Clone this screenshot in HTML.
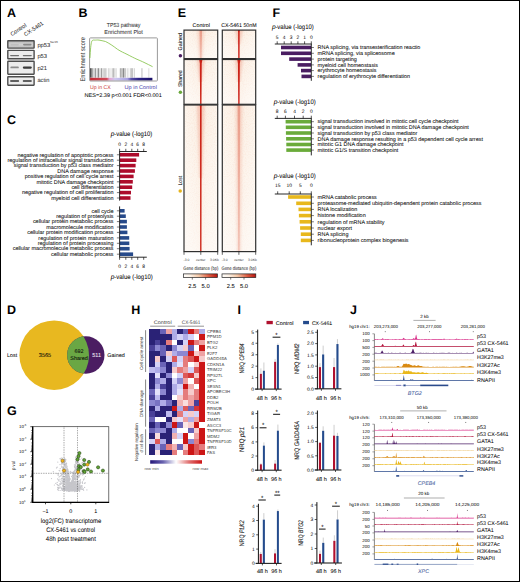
<!DOCTYPE html>
<html><head><meta charset="utf-8"><style>
html,body{margin:0;padding:0;background:#fff;}
svg{display:block;font-family:"Liberation Sans",sans-serif;text-rendering:geometricPrecision;}
</style></head><body>
<svg width="520" height="582" viewBox="0 0 520 582">
<defs><filter id="bl" x="-20%" y="-50%" width="140%" height="200%"><feGaussianBlur stdDeviation="0.45"/></filter>
<linearGradient id="gA1" x1="0" y1="0" x2="0" y2="1"><stop offset="0" stop-color="#b8b8b8"/><stop offset="0.5" stop-color="#d0d0d0"/><stop offset="1" stop-color="#bdbdbd"/></linearGradient>
<linearGradient id="gBc" x1="0" y1="0" x2="0" y2="1"><stop offset="0" stop-color="#fff" stop-opacity="0.5"/><stop offset="0.2" stop-color="#fff" stop-opacity="0"/><stop offset="1" stop-color="#fff" stop-opacity="0"/></linearGradient>
<linearGradient id="gB" x1="0" y1="0" x2="1" y2="0"><stop offset="0" stop-color="#c42a35"/><stop offset="0.27" stop-color="#cf4b5a"/><stop offset="0.31" stop-color="#e6a3d2"/><stop offset="0.4" stop-color="#cdc8ef"/><stop offset="0.6" stop-color="#a9a3e2"/><stop offset="0.66" stop-color="#5a50a8"/><stop offset="0.78" stop-color="#2e2585"/><stop offset="1" stop-color="#1a1068"/></linearGradient>
<filter id="nz" x="0" y="0" width="100%" height="100%"><feTurbulence type="fractalNoise" baseFrequency="0.9" numOctaves="1" seed="3" result="t"/><feColorMatrix in="t" type="matrix" values="0 0 0 0 0.88  0 0 0 0 0.45  0 0 0 0 0.3  0 0 0 -2.2 1.25"/><feComposite in2="SourceGraphic" operator="in"/></filter>
<filter id="hb" x="-200%" y="-5%" width="500%" height="110%"><feGaussianBlur stdDeviation="1.1 0.3"/></filter>
<filter id="hb2" x="-200%" y="-5%" width="500%" height="110%"><feGaussianBlur stdDeviation="0.35 0.2"/></filter>
<linearGradient id="gEf" x1="0" y1="0" x2="0" y2="1"><stop offset="0" stop-color="#e0705a" stop-opacity="0.55"/><stop offset="1" stop-color="#e0705a" stop-opacity="0.25"/></linearGradient>
<linearGradient id="gEh" x1="0" y1="0" x2="1" y2="0"><stop offset="0" stop-color="#fdf6ee"/><stop offset="0.35" stop-color="#fcf0e5"/><stop offset="0.5" stop-color="#fbebdd"/><stop offset="0.65" stop-color="#fcf0e5"/><stop offset="1" stop-color="#fdf6ee"/></linearGradient>
<linearGradient id="gEv" x1="0" y1="0" x2="0" y2="1"><stop offset="0" stop-color="#fff" stop-opacity="0"/><stop offset="1" stop-color="#fff" stop-opacity="0.55"/></linearGradient>
<linearGradient id="gEc" x1="0" y1="0" x2="1" y2="0"><stop offset="0" stop-color="#fffdfa"/><stop offset="0.2" stop-color="#fdf2e6"/><stop offset="0.45" stop-color="#f5c9a8"/><stop offset="0.75" stop-color="#dd5a40"/><stop offset="1" stop-color="#b8140f"/></linearGradient>
<clipPath id="cpY"><circle cx="54.2" cy="355.2" r="34.8"/></clipPath>
<filter id="hbl" x="-2%" y="-2%" width="104%" height="104%"><feGaussianBlur stdDeviation="0.3"/></filter>
<linearGradient id="gH" x1="0" y1="0" x2="1" y2="0"><stop offset="0" stop-color="#24177a"/><stop offset="0.25" stop-color="#6a64b0"/><stop offset="0.5" stop-color="#ffffff"/><stop offset="0.75" stop-color="#e07070"/><stop offset="1" stop-color="#cc1416"/></linearGradient></defs>
<rect x="0" y="0" width="520" height="582" fill="#fff"/>
<text x="7.00" y="16.70" font-size="12.5" fill="#000" font-weight="bold">A</text>
<text x="78.50" y="16.50" font-size="12.5" fill="#000" font-weight="bold">B</text>
<text x="177.80" y="17.00" font-size="12.5" fill="#000" font-weight="bold">E</text>
<text x="272.50" y="16.50" font-size="12.5" fill="#000" font-weight="bold">F</text>
<text x="7.00" y="123.60" font-size="12.5" fill="#000" font-weight="bold">C</text>
<text x="7.00" y="314.20" font-size="12.5" fill="#000" font-weight="bold">D</text>
<text x="7.00" y="415.00" font-size="12.5" fill="#000" font-weight="bold">G</text>
<text x="131.30" y="314.40" font-size="12.5" fill="#000" font-weight="bold">H</text>
<text x="237.60" y="313.60" font-size="12.5" fill="#000" font-weight="bold">I</text>
<text x="350.00" y="314.00" font-size="12.5" fill="#000" font-weight="bold">J</text>
<text x="12.00" y="36.30" font-size="5.6" fill="#333" stroke="#333" stroke-width="0.05" transform="rotate(-34 12.00 36.30)">Control</text>
<text x="25.60" y="36.60" font-size="5.6" fill="#333" stroke="#333" stroke-width="0.05" transform="rotate(-34 25.60 36.60)">CX-5461</text>
<rect x="7.8" y="40.70" width="26.3" height="7.40" fill="url(#gA1)" stroke="#4d4d4d" stroke-width="1.4" rx="0.4"/>
<rect x="7.8" y="50.40" width="26.3" height="8.40" fill="#ececec" stroke="#4d4d4d" stroke-width="1.4" rx="0.4"/>
<rect x="7.8" y="61.30" width="26.3" height="12.90" fill="#ececec" stroke="#4d4d4d" stroke-width="1.4" rx="0.4"/>
<rect x="7.8" y="76.70" width="26.3" height="8.50" fill="#ececec" stroke="#4d4d4d" stroke-width="1.4" rx="0.4"/>
<rect x="23.05" y="43.80" width="8.50" height="1.60" rx="0.80" fill="#8a8a8a" opacity="1" filter="url(#bl)"/>
<rect x="10.35" y="44.20" width="8.50" height="1.20" rx="0.60" fill="#bbbbbb" opacity="1" filter="url(#bl)"/>
<rect x="10.10" y="55.00" width="9.00" height="1.20" rx="0.60" fill="#6f6f6f" opacity="1" filter="url(#bl)"/>
<rect x="22.80" y="55.00" width="9.00" height="1.20" rx="0.60" fill="#6f6f6f" opacity="1" filter="url(#bl)"/>
<rect x="10.35" y="66.50" width="8.50" height="1.80" rx="0.90" fill="#8c8c8c" opacity="1" filter="url(#bl)"/>
<rect x="22.80" y="66.55" width="9.00" height="2.10" rx="1.05" fill="#3a3a3a" opacity="1" filter="url(#bl)"/>
<rect x="10.10" y="80.35" width="9.00" height="1.30" rx="0.65" fill="#303030" opacity="1" filter="url(#bl)"/>
<rect x="22.80" y="80.35" width="9.00" height="1.30" rx="0.65" fill="#303030" opacity="1" filter="url(#bl)"/>
<text x="37.40" y="46.50" font-size="5.8" fill="#333" stroke="#333" stroke-width="0.05">pp53</text>
<text x="50.00" y="43.00" font-size="3.0" fill="#333">Ser15</text>
<text x="37.40" y="57.60" font-size="5.8" fill="#333" stroke="#333" stroke-width="0.05">p53</text>
<text x="37.40" y="69.60" font-size="5.8" fill="#333" stroke="#333" stroke-width="0.05">p21</text>
<text x="37.40" y="82.00" font-size="5.8" fill="#333" stroke="#333" stroke-width="0.05" textLength="12.00" lengthAdjust="spacingAndGlyphs">actin</text>
<text x="106.70" y="27.40" font-size="5.9" fill="#333" stroke="#333" stroke-width="0.05" textLength="33.70" lengthAdjust="spacingAndGlyphs">TP53 pathway</text>
<text x="104.30" y="33.60" font-size="5.9" fill="#333" stroke="#333" stroke-width="0.05" textLength="38.50" lengthAdjust="spacingAndGlyphs">Enrichment Plot</text>
<text x="84.60" y="81.60" font-size="6.7" fill="#333" stroke="#333" stroke-width="0.05" textLength="44.60" lengthAdjust="spacingAndGlyphs" transform="rotate(-90 84.60 81.60)">Enrichment score</text>
<rect x="89.90" y="68.20" width="0.90" height="9.50" fill="#1a1a1a"/>
<rect x="90.90" y="68.20" width="0.90" height="9.50" fill="#666"/>
<rect x="91.90" y="68.20" width="1.20" height="9.50" fill="#aaa"/>
<rect x="93.40" y="68.20" width="0.70" height="9.50" fill="#c4c4c4"/>
<rect x="94.60" y="68.20" width="1.50" height="9.50" fill="#9c9c9c"/>
<rect x="96.60" y="68.20" width="0.60" height="9.50" fill="#cfcfcf"/>
<rect x="97.60" y="68.20" width="1.60" height="9.50" fill="#8f8f8f"/>
<rect x="99.70" y="68.20" width="0.70" height="9.50" fill="#c8c8c8"/>
<rect x="100.90" y="68.20" width="1.40" height="9.50" fill="#a0a0a0"/>
<rect x="102.90" y="68.20" width="0.80" height="9.50" fill="#c8c8c8"/>
<rect x="104.40" y="68.20" width="1.20" height="9.50" fill="#b0b0b0"/>
<rect x="106.40" y="68.20" width="0.70" height="9.50" fill="#d0d0d0"/>
<rect x="108.40" y="68.20" width="1.00" height="9.50" fill="#c4c4c4"/>
<rect x="110.60" y="68.20" width="0.80" height="9.50" fill="#d4d4d4"/>
<rect x="112.40" y="68.20" width="1.50" height="9.50" fill="#b4b4b4"/>
<rect x="114.40" y="68.20" width="1.00" height="9.50" fill="#c4c4c4"/>
<rect x="116.30" y="68.20" width="0.60" height="9.50" fill="#d4d4d4"/>
<rect x="119.80" y="68.20" width="1.60" height="9.50" fill="#b0b0b0"/>
<rect x="121.60" y="68.20" width="1.00" height="9.50" fill="#9a9a9a"/>
<rect x="123.00" y="68.20" width="1.00" height="9.50" fill="#8a8a8a"/>
<rect x="124.40" y="68.20" width="1.20" height="9.50" fill="#a4a4a4"/>
<rect x="126.80" y="68.20" width="0.80" height="9.50" fill="#d0d0d0"/>
<rect x="128.60" y="68.20" width="0.60" height="9.50" fill="#d4d4d4"/>
<rect x="130.40" y="68.20" width="1.40" height="9.50" fill="#b8b8b8"/>
<rect x="132.00" y="68.20" width="1.20" height="9.50" fill="#c4c4c4"/>
<rect x="134.00" y="68.20" width="0.90" height="9.50" fill="#d4d4d4"/>
<rect x="141.00" y="68.20" width="1.80" height="9.50" fill="#dadada"/>
<rect x="148.40" y="68.20" width="0.90" height="9.50" fill="#d8d8d8"/>
<rect x="90.00" y="77.80" width="62.40" height="2.80" fill="url(#gB)"/>
<rect x="89.6" y="37.9" width="67.8" height="43.1" fill="none" stroke="#9a9a9a" stroke-width="1.0" rx="0.8"/>
<path d="M89.9 58 C90.4 50 90.8 44 91.8 41.2 C92.6 39.8 93.4 40.0 94.5 40.1 C96 40.2 97 39.8 99 40.1 C101 40.4 103 40.9 105.5 41.5 C109 43.2 113 45.8 117.5 49.3 C121 51.6 124 52.8 127 54.3 C131 56.4 134 57.9 137 59.3 C140 60.6 142 61.4 144 62.4 C147 63.8 150 65.4 152.6 66.7" fill="none" stroke="#7dbf3f" stroke-width="0.8"/>
<text x="90.00" y="88.80" font-size="5.4" fill="#d0504c" stroke="#d0504c" stroke-width="0.05" textLength="20.80" lengthAdjust="spacingAndGlyphs">Up in CX</text>
<text x="124.60" y="88.80" font-size="5.4" fill="#5552b4" stroke="#5552b4" stroke-width="0.05" textLength="32.30" lengthAdjust="spacingAndGlyphs">Up in Control</text>
<text x="84.60" y="96.60" font-size="5.4" stroke="#222" stroke-width="0.05" textLength="77.20" lengthAdjust="spacingAndGlyphs">NES=2.39  p&lt;0.001  FDR&lt;0.001</text>
<text x="110.80" y="135.90" font-size="6.6" font-style="italic" stroke="#222" stroke-width="0.05">p</text>
<text x="114.30" y="135.90" font-size="6.6" stroke="#222" stroke-width="0.05" textLength="38.00" lengthAdjust="spacingAndGlyphs">-value (-log10)</text>
<text x="119.60" y="145.70" font-size="4.9" text-anchor="middle">0</text>
<line x1="119.60" y1="148.80" x2="119.60" y2="151.50" stroke="#111" stroke-width="0.7"/>
<text x="125.80" y="145.70" font-size="4.9" text-anchor="middle">2</text>
<line x1="125.80" y1="148.80" x2="125.80" y2="151.50" stroke="#111" stroke-width="0.7"/>
<text x="131.80" y="145.70" font-size="4.9" text-anchor="middle">4</text>
<line x1="131.80" y1="148.80" x2="131.80" y2="151.50" stroke="#111" stroke-width="0.7"/>
<text x="137.70" y="145.70" font-size="4.9" text-anchor="middle">6</text>
<line x1="137.70" y1="148.80" x2="137.70" y2="151.50" stroke="#111" stroke-width="0.7"/>
<text x="143.70" y="145.70" font-size="4.9" text-anchor="middle">8</text>
<line x1="143.70" y1="148.80" x2="143.70" y2="151.50" stroke="#111" stroke-width="0.7"/>
<line x1="119.25" y1="151.50" x2="146.80" y2="151.50" stroke="#111" stroke-width="0.9"/>
<text x="113.60" y="156.50" font-size="5.45" text-anchor="end" stroke="#222" stroke-width="0.05">negative regulation of apoptotic process</text>
<rect x="119.90" y="152.95" width="19.20" height="3.60" fill="#ad0b2b"/>
<line x1="116.90" y1="154.75" x2="119.60" y2="154.75" stroke="#222" stroke-width="0.6"/>
<text x="113.60" y="161.95" font-size="5.45" text-anchor="end" stroke="#222" stroke-width="0.05">regulation of intracellular signal transduction</text>
<rect x="119.90" y="158.40" width="16.40" height="3.60" fill="#ad0b2b"/>
<line x1="116.90" y1="160.20" x2="119.60" y2="160.20" stroke="#222" stroke-width="0.6"/>
<text x="113.60" y="167.35" font-size="5.45" text-anchor="end" stroke="#222" stroke-width="0.05">signal transduction by p53 class mediator</text>
<rect x="119.90" y="163.80" width="15.70" height="3.60" fill="#ad0b2b"/>
<line x1="116.90" y1="165.60" x2="119.60" y2="165.60" stroke="#222" stroke-width="0.6"/>
<text x="113.60" y="172.75" font-size="5.45" text-anchor="end" stroke="#222" stroke-width="0.05">DNA damage response</text>
<rect x="119.90" y="169.20" width="15.00" height="3.60" fill="#ad0b2b"/>
<line x1="116.90" y1="171.00" x2="119.60" y2="171.00" stroke="#222" stroke-width="0.6"/>
<text x="113.60" y="178.15" font-size="5.45" text-anchor="end" stroke="#222" stroke-width="0.05">positive regulation of cell cycle arrest</text>
<rect x="119.90" y="174.60" width="13.70" height="3.60" fill="#ad0b2b"/>
<line x1="116.90" y1="176.40" x2="119.60" y2="176.40" stroke="#222" stroke-width="0.6"/>
<text x="113.60" y="183.55" font-size="5.45" text-anchor="end" stroke="#222" stroke-width="0.05">mitotic DNA damage checkpoint</text>
<rect x="119.90" y="180.00" width="12.90" height="3.60" fill="#ad0b2b"/>
<line x1="116.90" y1="181.80" x2="119.60" y2="181.80" stroke="#222" stroke-width="0.6"/>
<text x="113.60" y="188.95" font-size="5.45" text-anchor="end" stroke="#222" stroke-width="0.05">cell differentiation</text>
<rect x="119.90" y="185.40" width="12.30" height="3.60" fill="#ad0b2b"/>
<line x1="116.90" y1="187.20" x2="119.60" y2="187.20" stroke="#222" stroke-width="0.6"/>
<text x="113.60" y="194.35" font-size="5.45" text-anchor="end" stroke="#222" stroke-width="0.05">negative regulation of cell proliferation</text>
<rect x="119.90" y="190.80" width="11.10" height="3.60" fill="#ad0b2b"/>
<line x1="116.90" y1="192.60" x2="119.60" y2="192.60" stroke="#222" stroke-width="0.6"/>
<text x="113.60" y="199.75" font-size="5.45" text-anchor="end" stroke="#222" stroke-width="0.05">myeloid cell differentiation</text>
<rect x="119.90" y="196.20" width="10.60" height="3.60" fill="#ad0b2b"/>
<line x1="116.90" y1="198.00" x2="119.60" y2="198.00" stroke="#222" stroke-width="0.6"/>
<line x1="119.60" y1="151.50" x2="119.60" y2="200.60" stroke="#111" stroke-width="0.9"/>
<text x="113.60" y="212.55" font-size="5.45" text-anchor="end" stroke="#222" stroke-width="0.05">cell cycle</text>
<rect x="119.90" y="209.00" width="4.70" height="3.60" fill="#274a8a"/>
<line x1="116.90" y1="210.80" x2="119.60" y2="210.80" stroke="#222" stroke-width="0.6"/>
<text x="113.60" y="217.95" font-size="5.45" text-anchor="end" stroke="#222" stroke-width="0.05">regulation of proteolysis</text>
<rect x="119.90" y="214.40" width="5.90" height="3.60" fill="#274a8a"/>
<line x1="116.90" y1="216.20" x2="119.60" y2="216.20" stroke="#222" stroke-width="0.6"/>
<text x="113.60" y="223.35" font-size="5.45" text-anchor="end" stroke="#222" stroke-width="0.05">cellular protein metabolic process</text>
<rect x="119.90" y="219.80" width="7.00" height="3.60" fill="#274a8a"/>
<line x1="116.90" y1="221.60" x2="119.60" y2="221.60" stroke="#222" stroke-width="0.6"/>
<text x="113.60" y="228.75" font-size="5.45" text-anchor="end" stroke="#222" stroke-width="0.05">macromolecule modification</text>
<rect x="119.90" y="225.20" width="7.00" height="3.60" fill="#274a8a"/>
<line x1="116.90" y1="227.00" x2="119.60" y2="227.00" stroke="#222" stroke-width="0.6"/>
<text x="113.60" y="234.15" font-size="5.45" text-anchor="end" stroke="#222" stroke-width="0.05">cellular protein modification process</text>
<rect x="119.90" y="230.60" width="7.50" height="3.60" fill="#274a8a"/>
<line x1="116.90" y1="232.40" x2="119.60" y2="232.40" stroke="#222" stroke-width="0.6"/>
<text x="113.60" y="239.65" font-size="5.45" text-anchor="end" stroke="#222" stroke-width="0.05">regulation of protein maturation</text>
<rect x="119.90" y="236.10" width="9.30" height="3.60" fill="#274a8a"/>
<line x1="116.90" y1="237.90" x2="119.60" y2="237.90" stroke="#222" stroke-width="0.6"/>
<text x="113.60" y="245.05" font-size="5.45" text-anchor="end" stroke="#222" stroke-width="0.05">regulation of protein processing</text>
<rect x="119.90" y="241.50" width="9.40" height="3.60" fill="#274a8a"/>
<line x1="116.90" y1="243.30" x2="119.60" y2="243.30" stroke="#222" stroke-width="0.6"/>
<text x="113.60" y="250.45" font-size="5.45" text-anchor="end" stroke="#222" stroke-width="0.05">cellular macromolecule metabolic process</text>
<rect x="119.90" y="246.90" width="9.70" height="3.60" fill="#274a8a"/>
<line x1="116.90" y1="248.70" x2="119.60" y2="248.70" stroke="#222" stroke-width="0.6"/>
<text x="113.60" y="255.95" font-size="5.45" text-anchor="end" stroke="#222" stroke-width="0.05">cellular metabolic process</text>
<rect x="119.90" y="252.40" width="13.20" height="3.60" fill="#274a8a"/>
<line x1="116.90" y1="254.20" x2="119.60" y2="254.20" stroke="#222" stroke-width="0.6"/>
<line x1="119.60" y1="206.40" x2="119.60" y2="257.20" stroke="#111" stroke-width="0.9"/>
<line x1="119.25" y1="257.20" x2="146.80" y2="257.20" stroke="#111" stroke-width="0.9"/>
<line x1="119.60" y1="257.20" x2="119.60" y2="259.80" stroke="#111" stroke-width="0.7"/>
<text x="119.60" y="267.80" font-size="4.9" text-anchor="middle">0</text>
<line x1="125.80" y1="257.20" x2="125.80" y2="259.80" stroke="#111" stroke-width="0.7"/>
<text x="125.80" y="267.80" font-size="4.9" text-anchor="middle">2</text>
<line x1="131.80" y1="257.20" x2="131.80" y2="259.80" stroke="#111" stroke-width="0.7"/>
<text x="131.80" y="267.80" font-size="4.9" text-anchor="middle">4</text>
<line x1="137.70" y1="257.20" x2="137.70" y2="259.80" stroke="#111" stroke-width="0.7"/>
<text x="137.70" y="267.80" font-size="4.9" text-anchor="middle">6</text>
<line x1="143.70" y1="257.20" x2="143.70" y2="259.80" stroke="#111" stroke-width="0.7"/>
<text x="143.70" y="267.80" font-size="4.9" text-anchor="middle">8</text>
<text x="110.80" y="279.00" font-size="6.6" font-style="italic" stroke="#222" stroke-width="0.05">p</text>
<text x="114.30" y="279.00" font-size="6.6" stroke="#222" stroke-width="0.05" textLength="38.50" lengthAdjust="spacingAndGlyphs">-value (-log10)</text>
<text x="201.20" y="26.80" font-size="5.4" text-anchor="middle" stroke="#222" stroke-width="0.05">Control</text>
<text x="238.90" y="26.80" font-size="5.4" text-anchor="middle" stroke="#222" stroke-width="0.05" textLength="35.50" lengthAdjust="spacingAndGlyphs">CX-5461 50nM</text>
<rect x="184.00" y="30.10" width="33.70" height="28.50" fill="url(#gEh)"/>
<rect x="184.00" y="30.10" width="33.70" height="28.50" fill="#fff" filter="url(#nz)" opacity="0.2"/>
<rect x="184.00" y="30.10" width="33.70" height="28.50" fill="url(#gEv)"/>
<path d="M197.30 30.10 L204.30 30.10 L202.60 58.60 L199.00 58.60 Z" fill="#e7876f" opacity="0.22" filter="url(#hb)"/>
<path d="M199.50 30.10 L202.10 30.10 L201.60 58.60 L200.00 58.60 Z" fill="url(#gEf)" filter="url(#hb2)"/>
<rect x="184.00" y="30.10" width="33.70" height="28.50" fill="none" stroke="#303030" stroke-width="1.2"/>
<rect x="222.30" y="30.10" width="33.40" height="28.50" fill="url(#gEh)"/>
<rect x="222.30" y="30.10" width="33.40" height="28.50" fill="#fff" filter="url(#nz)" opacity="0.2"/>
<rect x="222.30" y="30.10" width="33.40" height="28.50" fill="url(#gEv)"/>
<path d="M234.90 30.10 L242.90 30.10 L240.10 44.35 L237.70 44.35 Z" fill="#e8826a" opacity="0.3" filter="url(#hb)"/>
<path d="M237.90 30.10 L239.90 30.10 L239.70 32.60 L239.58 58.60 L238.22 58.60 L238.10 32.60 Z" fill="#cc2219" filter="url(#hb2)"/>
<rect x="222.30" y="30.10" width="33.40" height="28.50" fill="none" stroke="#303030" stroke-width="1.2"/>
<rect x="184.00" y="59.50" width="33.70" height="44.80" fill="url(#gEh)"/>
<rect x="184.00" y="59.50" width="33.70" height="44.80" fill="#fff" filter="url(#nz)" opacity="0.2"/>
<rect x="184.00" y="59.50" width="33.70" height="44.80" fill="url(#gEv)"/>
<path d="M196.80 59.50 L204.80 59.50 L202.00 81.90 L199.60 81.90 Z" fill="#e8826a" opacity="0.3" filter="url(#hb)"/>
<path d="M199.20 59.50 L202.40 59.50 L201.75 63.50 L201.48 104.30 L200.12 104.30 L199.85 63.50 Z" fill="#cc2219" filter="url(#hb2)"/>
<rect x="184.00" y="59.50" width="33.70" height="44.80" fill="none" stroke="#303030" stroke-width="1.2"/>
<rect x="222.30" y="59.50" width="33.40" height="44.80" fill="url(#gEh)"/>
<rect x="222.30" y="59.50" width="33.40" height="44.80" fill="#fff" filter="url(#nz)" opacity="0.2"/>
<rect x="222.30" y="59.50" width="33.40" height="44.80" fill="url(#gEv)"/>
<path d="M234.90 59.50 L242.90 59.50 L240.10 81.90 L237.70 81.90 Z" fill="#e8826a" opacity="0.3" filter="url(#hb)"/>
<path d="M237.30 59.50 L240.50 59.50 L239.85 63.50 L239.58 104.30 L238.22 104.30 L237.95 63.50 Z" fill="#cc2219" filter="url(#hb2)"/>
<rect x="222.30" y="59.50" width="33.40" height="44.80" fill="none" stroke="#303030" stroke-width="1.2"/>
<rect x="184.00" y="105.00" width="33.70" height="146.60" fill="url(#gEh)"/>
<rect x="184.00" y="105.00" width="33.70" height="146.60" fill="#fff" filter="url(#nz)" opacity="0.2"/>
<rect x="184.00" y="105.00" width="33.70" height="146.60" fill="url(#gEv)"/>
<path d="M196.80 105.00 L204.80 105.00 L202.00 178.30 L199.60 178.30 Z" fill="#e8826a" opacity="0.3" filter="url(#hb)"/>
<path d="M199.80 105.00 L201.80 105.00 L201.60 107.50 L201.48 251.60 L200.12 251.60 L200.00 107.50 Z" fill="#cc2219" filter="url(#hb2)"/>
<rect x="184.00" y="105.00" width="33.70" height="146.60" fill="none" stroke="#303030" stroke-width="1.2"/>
<rect x="222.30" y="105.00" width="33.40" height="146.60" fill="url(#gEh)"/>
<rect x="222.30" y="105.00" width="33.40" height="146.60" fill="#fff" filter="url(#nz)" opacity="0.2"/>
<rect x="222.30" y="105.00" width="33.40" height="146.60" fill="url(#gEv)"/>
<path d="M235.40 105.00 L242.40 105.00 L240.70 251.60 L237.10 251.60 Z" fill="#e7876f" opacity="0.22" filter="url(#hb)"/>
<path d="M237.60 105.00 L240.20 105.00 L239.70 251.60 L238.10 251.60 Z" fill="url(#gEf)" filter="url(#hb2)"/>
<rect x="222.30" y="105.00" width="33.40" height="146.60" fill="none" stroke="#303030" stroke-width="1.2"/>
<text x="182.20" y="50.50" font-size="5.4" stroke="#222" stroke-width="0.05" textLength="17.40" lengthAdjust="spacingAndGlyphs" transform="rotate(-90 182.20 50.50)">Gained</text>
<circle cx="180.4" cy="55.7" r="1.75" fill="#4b1d60"/>
<text x="182.20" y="87.00" font-size="5.4" stroke="#222" stroke-width="0.05" textLength="16.70" lengthAdjust="spacingAndGlyphs" transform="rotate(-90 182.20 87.00)">Shared</text>
<circle cx="180.4" cy="92.2" r="1.75" fill="#6aa83c"/>
<text x="182.20" y="185.50" font-size="5.4" stroke="#222" stroke-width="0.05" textLength="9.60" lengthAdjust="spacingAndGlyphs" transform="rotate(-90 182.20 185.50)">Lost</text>
<circle cx="180.2" cy="191.1" r="1.75" fill="#e6b41c"/>
<line x1="184.00" y1="251.60" x2="184.00" y2="254.80" stroke="#222" stroke-width="0.7"/>
<line x1="200.80" y1="251.60" x2="200.80" y2="254.80" stroke="#222" stroke-width="0.7"/>
<line x1="217.70" y1="251.60" x2="217.70" y2="254.80" stroke="#222" stroke-width="0.7"/>
<text x="183.50" y="261.20" font-size="3.4" fill="#333">-3.0</text>
<text x="200.80" y="261.20" font-size="3.4" text-anchor="middle" fill="#333">center</text>
<text x="218.90" y="261.20" font-size="3.4" text-anchor="end" fill="#333">3.0Kb</text>
<text x="200.85" y="269.60" font-size="5.0" text-anchor="middle" fill="#333" stroke="#333" stroke-width="0.05" textLength="35.00" lengthAdjust="spacingAndGlyphs">Gene distance (bp)</text>
<line x1="222.30" y1="251.60" x2="222.30" y2="254.80" stroke="#222" stroke-width="0.7"/>
<line x1="238.90" y1="251.60" x2="238.90" y2="254.80" stroke="#222" stroke-width="0.7"/>
<line x1="255.70" y1="251.60" x2="255.70" y2="254.80" stroke="#222" stroke-width="0.7"/>
<text x="221.80" y="261.20" font-size="3.4" fill="#333">-3.0</text>
<text x="238.90" y="261.20" font-size="3.4" text-anchor="middle" fill="#333">center</text>
<text x="256.90" y="261.20" font-size="3.4" text-anchor="end" fill="#333">3.0Kb</text>
<text x="239.00" y="269.60" font-size="5.0" text-anchor="middle" fill="#333" stroke="#333" stroke-width="0.05" textLength="35.00" lengthAdjust="spacingAndGlyphs">Gene distance (bp)</text>
<rect x="183.60" y="273.9" width="33.8" height="3.6" fill="url(#gEc)" stroke="#222" stroke-width="0.7"/>
<line x1="192.30" y1="277.50" x2="192.30" y2="279.60" stroke="#222" stroke-width="0.6"/>
<line x1="205.60" y1="277.50" x2="205.60" y2="279.60" stroke="#222" stroke-width="0.6"/>
<text x="192.30" y="287.50" font-size="5.8" text-anchor="middle" stroke="#222" stroke-width="0.05">2.5</text>
<text x="205.60" y="287.50" font-size="5.8" text-anchor="middle" stroke="#222" stroke-width="0.05">5.0</text>
<rect x="222.00" y="273.9" width="33.8" height="3.6" fill="url(#gEc)" stroke="#222" stroke-width="0.7"/>
<line x1="230.70" y1="277.50" x2="230.70" y2="279.60" stroke="#222" stroke-width="0.6"/>
<line x1="244.00" y1="277.50" x2="244.00" y2="279.60" stroke="#222" stroke-width="0.6"/>
<text x="230.70" y="287.50" font-size="5.8" text-anchor="middle" stroke="#222" stroke-width="0.05">2.5</text>
<text x="244.00" y="287.50" font-size="5.8" text-anchor="middle" stroke="#222" stroke-width="0.05">5.0</text>
<text x="271.90" y="29.10" font-size="6.6" font-style="italic" stroke="#222" stroke-width="0.05">p</text>
<text x="275.40" y="29.10" font-size="6.6" stroke="#222" stroke-width="0.05" textLength="38.40" lengthAdjust="spacingAndGlyphs">-value (-log10)</text>
<line x1="274.80" y1="44.00" x2="311.65" y2="44.00" stroke="#111" stroke-width="0.9"/>
<text x="277.20" y="38.75" font-size="4.9" text-anchor="middle">5</text>
<line x1="277.20" y1="41.30" x2="277.20" y2="44.00" stroke="#111" stroke-width="0.7"/>
<text x="284.20" y="38.75" font-size="4.9" text-anchor="middle">4</text>
<line x1="284.20" y1="41.30" x2="284.20" y2="44.00" stroke="#111" stroke-width="0.7"/>
<text x="291.20" y="38.75" font-size="4.9" text-anchor="middle">3</text>
<line x1="291.20" y1="41.30" x2="291.20" y2="44.00" stroke="#111" stroke-width="0.7"/>
<text x="297.90" y="38.75" font-size="4.9" text-anchor="middle">2</text>
<line x1="297.90" y1="41.30" x2="297.90" y2="44.00" stroke="#111" stroke-width="0.7"/>
<text x="304.60" y="38.75" font-size="4.9" text-anchor="middle">1</text>
<line x1="304.60" y1="41.30" x2="304.60" y2="44.00" stroke="#111" stroke-width="0.7"/>
<text x="311.30" y="38.75" font-size="4.9" text-anchor="middle">0</text>
<line x1="311.30" y1="41.30" x2="311.30" y2="44.00" stroke="#111" stroke-width="0.7"/>
<rect x="281.00" y="45.70" width="30.00" height="3.60" fill="#4a1d62"/>
<line x1="311.30" y1="47.50" x2="313.90" y2="47.50" stroke="#222" stroke-width="0.6"/>
<text x="317.60" y="49.25" font-size="5.45" stroke="#222" stroke-width="0.05">RNA splicing, via transesterification reactio</text>
<rect x="281.00" y="51.50" width="30.00" height="3.60" fill="#4a1d62"/>
<line x1="311.30" y1="53.30" x2="313.90" y2="53.30" stroke="#222" stroke-width="0.6"/>
<text x="317.60" y="55.05" font-size="5.45" stroke="#222" stroke-width="0.05">mRNA splicing, via spliceosome</text>
<rect x="289.20" y="57.30" width="21.80" height="3.60" fill="#4a1d62"/>
<line x1="311.30" y1="59.10" x2="313.90" y2="59.10" stroke="#222" stroke-width="0.6"/>
<text x="317.60" y="60.85" font-size="5.45" stroke="#222" stroke-width="0.05">protein targeting</text>
<rect x="297.60" y="63.10" width="13.40" height="3.60" fill="#4a1d62"/>
<line x1="311.30" y1="64.90" x2="313.90" y2="64.90" stroke="#222" stroke-width="0.6"/>
<text x="317.60" y="66.65" font-size="5.45" stroke="#222" stroke-width="0.05">myeloid cell homeostasis</text>
<rect x="301.00" y="68.80" width="10.00" height="3.60" fill="#4a1d62"/>
<line x1="311.30" y1="70.60" x2="313.90" y2="70.60" stroke="#222" stroke-width="0.6"/>
<text x="317.60" y="72.35" font-size="5.45" stroke="#222" stroke-width="0.05">erythrocyte homeostasis</text>
<rect x="301.50" y="74.60" width="9.50" height="3.60" fill="#4a1d62"/>
<line x1="311.30" y1="76.40" x2="313.90" y2="76.40" stroke="#222" stroke-width="0.6"/>
<text x="317.60" y="78.15" font-size="5.45" stroke="#222" stroke-width="0.05">regulation of erythrocyte differentiation</text>
<line x1="311.30" y1="44.00" x2="311.30" y2="80.80" stroke="#111" stroke-width="0.9"/>
<text x="273.80" y="104.10" font-size="6.6" font-style="italic" stroke="#222" stroke-width="0.05">p</text>
<text x="277.30" y="104.10" font-size="6.6" stroke="#222" stroke-width="0.05" textLength="38.40" lengthAdjust="spacingAndGlyphs">-value (-log10)</text>
<line x1="274.80" y1="118.40" x2="311.65" y2="118.40" stroke="#111" stroke-width="0.9"/>
<text x="277.20" y="112.80" font-size="4.9" text-anchor="middle">8</text>
<line x1="277.20" y1="115.70" x2="277.20" y2="118.40" stroke="#111" stroke-width="0.7"/>
<text x="285.40" y="112.80" font-size="4.9" text-anchor="middle">6</text>
<line x1="285.40" y1="115.70" x2="285.40" y2="118.40" stroke="#111" stroke-width="0.7"/>
<text x="294.50" y="112.80" font-size="4.9" text-anchor="middle">4</text>
<line x1="294.50" y1="115.70" x2="294.50" y2="118.40" stroke="#111" stroke-width="0.7"/>
<text x="303.20" y="112.80" font-size="4.9" text-anchor="middle">2</text>
<line x1="303.20" y1="115.70" x2="303.20" y2="118.40" stroke="#111" stroke-width="0.7"/>
<text x="311.30" y="112.80" font-size="4.9" text-anchor="middle">0</text>
<line x1="311.30" y1="115.70" x2="311.30" y2="118.40" stroke="#111" stroke-width="0.7"/>
<rect x="285.60" y="119.90" width="25.40" height="3.60" fill="#6aab3a"/>
<line x1="311.30" y1="121.70" x2="313.90" y2="121.70" stroke="#222" stroke-width="0.6"/>
<text x="317.60" y="123.45" font-size="5.45" stroke="#222" stroke-width="0.05">signal transduction involved in mitotic cell cycle checkpoint</text>
<rect x="285.80" y="125.50" width="25.20" height="3.60" fill="#6aab3a"/>
<line x1="311.30" y1="127.30" x2="313.90" y2="127.30" stroke="#222" stroke-width="0.6"/>
<text x="317.60" y="129.05" font-size="5.45" stroke="#222" stroke-width="0.05">signal transduction involved in mitotic DNA damage checkpoint</text>
<rect x="285.90" y="131.20" width="25.10" height="3.60" fill="#6aab3a"/>
<line x1="311.30" y1="133.00" x2="313.90" y2="133.00" stroke="#222" stroke-width="0.6"/>
<text x="317.60" y="134.75" font-size="5.45" stroke="#222" stroke-width="0.05">signal transduction by p53 class mediator</text>
<rect x="286.10" y="137.00" width="24.90" height="3.60" fill="#6aab3a"/>
<line x1="311.30" y1="138.80" x2="313.90" y2="138.80" stroke="#222" stroke-width="0.6"/>
<text x="317.60" y="140.55" font-size="5.45" stroke="#222" stroke-width="0.05">DNA damage response resulting in a p53  dependent cell cycle arrest</text>
<rect x="286.30" y="142.70" width="24.70" height="3.60" fill="#6aab3a"/>
<line x1="311.30" y1="144.50" x2="313.90" y2="144.50" stroke="#222" stroke-width="0.6"/>
<text x="317.60" y="146.25" font-size="5.45" stroke="#222" stroke-width="0.05">mitotic G1 DNA damage checkpoint</text>
<rect x="286.30" y="148.30" width="24.70" height="3.60" fill="#6aab3a"/>
<line x1="311.30" y1="150.10" x2="313.90" y2="150.10" stroke="#222" stroke-width="0.6"/>
<text x="317.60" y="151.85" font-size="5.45" stroke="#222" stroke-width="0.05">mitotic G1/S transition checkpoint</text>
<line x1="311.30" y1="118.40" x2="311.30" y2="155.40" stroke="#111" stroke-width="0.9"/>
<text x="273.80" y="177.60" font-size="6.6" font-style="italic" stroke="#222" stroke-width="0.05">p</text>
<text x="277.30" y="177.60" font-size="6.6" stroke="#222" stroke-width="0.05" textLength="38.40" lengthAdjust="spacingAndGlyphs">-value (-log10)</text>
<line x1="274.80" y1="194.00" x2="311.65" y2="194.00" stroke="#111" stroke-width="0.9"/>
<text x="277.70" y="186.75" font-size="4.9" text-anchor="middle">15</text>
<line x1="277.70" y1="191.30" x2="277.70" y2="194.00" stroke="#111" stroke-width="0.7"/>
<text x="289.20" y="186.75" font-size="4.9" text-anchor="middle">10</text>
<line x1="289.20" y1="191.30" x2="289.20" y2="194.00" stroke="#111" stroke-width="0.7"/>
<text x="300.30" y="186.75" font-size="4.9" text-anchor="middle">5</text>
<line x1="300.30" y1="191.30" x2="300.30" y2="194.00" stroke="#111" stroke-width="0.7"/>
<text x="311.30" y="186.75" font-size="4.9" text-anchor="middle">0</text>
<line x1="311.30" y1="191.30" x2="311.30" y2="194.00" stroke="#111" stroke-width="0.7"/>
<rect x="288.10" y="195.20" width="22.90" height="3.60" fill="#e8b81c"/>
<line x1="311.30" y1="197.00" x2="313.90" y2="197.00" stroke="#222" stroke-width="0.6"/>
<text x="317.60" y="198.75" font-size="5.45" stroke="#222" stroke-width="0.05">mRNA catabolic process</text>
<rect x="296.20" y="201.50" width="14.80" height="3.60" fill="#e8b81c"/>
<line x1="311.30" y1="203.30" x2="313.90" y2="203.30" stroke="#222" stroke-width="0.6"/>
<text x="317.60" y="205.05" font-size="5.45" stroke="#222" stroke-width="0.05">proteasome-mediated ubiquitin-dependent protein catabolic process</text>
<rect x="298.50" y="207.60" width="12.50" height="3.60" fill="#e8b81c"/>
<line x1="311.30" y1="209.40" x2="313.90" y2="209.40" stroke="#222" stroke-width="0.6"/>
<text x="317.60" y="211.15" font-size="5.45" stroke="#222" stroke-width="0.05">RNA localization</text>
<rect x="298.90" y="213.80" width="12.10" height="3.60" fill="#e8b81c"/>
<line x1="311.30" y1="215.60" x2="313.90" y2="215.60" stroke="#222" stroke-width="0.6"/>
<text x="317.60" y="217.35" font-size="5.45" stroke="#222" stroke-width="0.05">histone modification</text>
<rect x="299.60" y="220.00" width="11.40" height="3.60" fill="#e8b81c"/>
<line x1="311.30" y1="221.80" x2="313.90" y2="221.80" stroke="#222" stroke-width="0.6"/>
<text x="317.60" y="223.55" font-size="5.45" stroke="#222" stroke-width="0.05">regulation of mRNA stability</text>
<rect x="300.10" y="226.20" width="10.90" height="3.60" fill="#e8b81c"/>
<line x1="311.30" y1="228.00" x2="313.90" y2="228.00" stroke="#222" stroke-width="0.6"/>
<text x="317.60" y="229.75" font-size="5.45" stroke="#222" stroke-width="0.05">nuclear export</text>
<rect x="300.80" y="232.40" width="10.20" height="3.60" fill="#e8b81c"/>
<line x1="311.30" y1="234.20" x2="313.90" y2="234.20" stroke="#222" stroke-width="0.6"/>
<text x="317.60" y="235.95" font-size="5.45" stroke="#222" stroke-width="0.05">RNA splicing</text>
<rect x="300.80" y="238.60" width="10.20" height="3.60" fill="#e8b81c"/>
<line x1="311.30" y1="240.40" x2="313.90" y2="240.40" stroke="#222" stroke-width="0.6"/>
<text x="317.60" y="242.15" font-size="5.45" stroke="#222" stroke-width="0.05">ribonucleoprotein complex biogenesis</text>
<line x1="311.30" y1="194.00" x2="311.30" y2="245.30" stroke="#111" stroke-width="0.9"/>
<circle cx="54.2" cy="355.2" r="34.8" fill="#e8b820"/>
<circle cx="85.8" cy="355.0" r="18.7" fill="#4b1d62"/>
<circle cx="85.8" cy="355.0" r="18.7" fill="#6aa744" clip-path="url(#cpY)"/>
<text x="7.00" y="357.00" font-size="5.4" stroke="#222" stroke-width="0.05">Lost</text>
<text x="45.00" y="357.20" font-size="5.6" text-anchor="middle" stroke="#222" stroke-width="0.05">3565</text>
<text x="79.00" y="353.00" font-size="5.4" text-anchor="middle" stroke="#222" stroke-width="0.05">692</text>
<text x="79.00" y="359.80" font-size="5.4" text-anchor="middle" stroke="#222" stroke-width="0.05">Shared</text>
<text x="96.70" y="357.20" font-size="5.8" text-anchor="middle" fill="#f4f0f6" stroke="#f4f0f6" stroke-width="0.05" textLength="8.80" lengthAdjust="spacingAndGlyphs">511</text>
<text x="107.30" y="357.00" font-size="5.4" stroke="#222" stroke-width="0.05">Gained</text>
<g fill="#c6c6cb"><circle cx="64.7" cy="461.3" r="0.62"/><circle cx="72.2" cy="486.3" r="0.62"/><circle cx="64.4" cy="489.6" r="0.62"/><circle cx="72.8" cy="479.2" r="0.62"/><circle cx="83.7" cy="474.5" r="0.62"/><circle cx="68.8" cy="490.2" r="0.62"/><circle cx="72.3" cy="489.6" r="0.62"/><circle cx="71.7" cy="481.9" r="0.62"/><circle cx="63.4" cy="481.6" r="0.62"/><circle cx="80.4" cy="472.3" r="0.62"/><circle cx="74.5" cy="488.0" r="0.62"/><circle cx="63.2" cy="485.0" r="0.62"/><circle cx="68.4" cy="491.3" r="0.62"/><circle cx="57.1" cy="484.4" r="0.62"/><circle cx="73.9" cy="476.5" r="0.62"/><circle cx="64.9" cy="470.5" r="0.62"/><circle cx="73.8" cy="490.2" r="0.62"/><circle cx="73.9" cy="485.6" r="0.62"/><circle cx="78.3" cy="489.1" r="0.62"/><circle cx="67.8" cy="489.0" r="0.62"/><circle cx="69.3" cy="488.3" r="0.62"/><circle cx="63.3" cy="476.5" r="0.62"/><circle cx="79.7" cy="488.9" r="0.62"/><circle cx="69.0" cy="490.6" r="0.62"/><circle cx="74.2" cy="487.9" r="0.62"/><circle cx="58.8" cy="480.2" r="0.62"/><circle cx="66.6" cy="489.6" r="0.62"/><circle cx="72.2" cy="489.4" r="0.62"/><circle cx="59.4" cy="488.0" r="0.62"/><circle cx="66.5" cy="490.9" r="0.62"/><circle cx="73.9" cy="488.1" r="0.62"/><circle cx="73.5" cy="488.1" r="0.62"/><circle cx="78.0" cy="490.5" r="0.62"/><circle cx="74.7" cy="487.6" r="0.62"/><circle cx="69.1" cy="490.7" r="0.62"/><circle cx="73.8" cy="486.4" r="0.62"/><circle cx="70.2" cy="487.5" r="0.62"/><circle cx="66.2" cy="479.5" r="0.62"/><circle cx="72.2" cy="489.8" r="0.62"/><circle cx="71.8" cy="484.9" r="0.62"/><circle cx="71.8" cy="488.9" r="0.62"/><circle cx="62.8" cy="463.1" r="0.62"/><circle cx="63.2" cy="468.3" r="0.62"/><circle cx="66.0" cy="467.6" r="0.62"/><circle cx="74.9" cy="467.8" r="0.62"/><circle cx="66.1" cy="477.7" r="0.62"/><circle cx="74.6" cy="466.6" r="0.62"/><circle cx="64.8" cy="476.7" r="0.62"/><circle cx="74.3" cy="489.8" r="0.62"/><circle cx="66.0" cy="487.7" r="0.62"/><circle cx="65.4" cy="476.2" r="0.62"/><circle cx="75.1" cy="476.3" r="0.62"/><circle cx="73.6" cy="472.6" r="0.62"/><circle cx="74.1" cy="478.9" r="0.62"/><circle cx="76.3" cy="467.7" r="0.62"/><circle cx="66.0" cy="486.4" r="0.62"/><circle cx="75.5" cy="468.5" r="0.62"/><circle cx="74.6" cy="488.7" r="0.62"/><circle cx="71.7" cy="489.8" r="0.62"/><circle cx="66.4" cy="469.9" r="0.62"/><circle cx="70.7" cy="490.3" r="0.62"/><circle cx="78.5" cy="477.7" r="0.62"/><circle cx="79.3" cy="490.6" r="0.62"/><circle cx="80.2" cy="487.7" r="0.62"/><circle cx="71.7" cy="485.6" r="0.62"/><circle cx="65.3" cy="460.0" r="0.62"/><circle cx="67.7" cy="484.5" r="0.62"/><circle cx="63.0" cy="488.5" r="0.62"/><circle cx="75.0" cy="474.4" r="0.62"/><circle cx="70.7" cy="486.8" r="0.62"/><circle cx="69.6" cy="480.3" r="0.62"/><circle cx="64.1" cy="462.2" r="0.62"/><circle cx="75.5" cy="465.6" r="0.62"/><circle cx="63.8" cy="488.0" r="0.62"/><circle cx="61.6" cy="474.9" r="0.62"/><circle cx="81.8" cy="458.1" r="0.62"/><circle cx="69.2" cy="487.5" r="0.62"/><circle cx="69.7" cy="486.8" r="0.62"/><circle cx="68.6" cy="485.0" r="0.62"/><circle cx="79.3" cy="488.2" r="0.62"/><circle cx="78.6" cy="489.6" r="0.62"/><circle cx="68.7" cy="483.9" r="0.62"/><circle cx="69.0" cy="476.6" r="0.62"/><circle cx="66.7" cy="474.4" r="0.62"/><circle cx="65.9" cy="467.8" r="0.62"/><circle cx="64.0" cy="463.4" r="0.62"/><circle cx="80.0" cy="459.4" r="0.62"/><circle cx="73.0" cy="485.7" r="0.62"/><circle cx="69.8" cy="482.2" r="0.62"/><circle cx="72.5" cy="485.7" r="0.62"/><circle cx="68.5" cy="486.2" r="0.62"/><circle cx="74.2" cy="484.2" r="0.62"/><circle cx="74.9" cy="472.1" r="0.62"/><circle cx="69.6" cy="485.4" r="0.62"/><circle cx="69.8" cy="483.2" r="0.62"/><circle cx="72.3" cy="488.3" r="0.62"/><circle cx="76.3" cy="489.3" r="0.62"/><circle cx="67.0" cy="488.2" r="0.62"/><circle cx="69.5" cy="488.7" r="0.62"/><circle cx="72.8" cy="483.4" r="0.62"/><circle cx="65.7" cy="466.8" r="0.62"/><circle cx="72.1" cy="484.1" r="0.62"/><circle cx="68.4" cy="487.6" r="0.62"/><circle cx="81.3" cy="489.3" r="0.62"/><circle cx="79.3" cy="487.7" r="0.62"/><circle cx="63.2" cy="488.7" r="0.62"/><circle cx="75.3" cy="490.9" r="0.62"/><circle cx="81.7" cy="488.6" r="0.62"/><circle cx="70.4" cy="488.1" r="0.62"/><circle cx="73.0" cy="489.6" r="0.62"/><circle cx="69.0" cy="484.9" r="0.62"/><circle cx="74.0" cy="471.3" r="0.62"/><circle cx="70.1" cy="490.0" r="0.62"/><circle cx="71.0" cy="487.9" r="0.62"/><circle cx="70.7" cy="487.3" r="0.62"/><circle cx="72.4" cy="486.6" r="0.62"/><circle cx="65.8" cy="488.9" r="0.62"/><circle cx="81.4" cy="467.8" r="0.62"/><circle cx="60.9" cy="476.1" r="0.62"/><circle cx="56.5" cy="467.9" r="0.62"/><circle cx="81.9" cy="469.9" r="0.62"/><circle cx="62.2" cy="463.9" r="0.62"/><circle cx="62.4" cy="470.3" r="0.62"/><circle cx="75.1" cy="483.5" r="0.62"/><circle cx="71.0" cy="487.2" r="0.62"/><circle cx="77.7" cy="485.0" r="0.62"/><circle cx="64.5" cy="480.8" r="0.62"/><circle cx="65.6" cy="471.0" r="0.62"/><circle cx="70.7" cy="487.6" r="0.62"/><circle cx="69.5" cy="489.4" r="0.62"/><circle cx="72.7" cy="488.7" r="0.62"/><circle cx="57.6" cy="478.8" r="0.62"/><circle cx="70.9" cy="486.7" r="0.62"/><circle cx="70.8" cy="486.2" r="0.62"/><circle cx="75.3" cy="488.9" r="0.62"/><circle cx="82.3" cy="482.4" r="0.62"/><circle cx="69.6" cy="489.1" r="0.62"/><circle cx="66.9" cy="476.1" r="0.62"/><circle cx="71.8" cy="489.5" r="0.62"/><circle cx="70.7" cy="485.9" r="0.62"/><circle cx="69.3" cy="477.2" r="0.62"/><circle cx="75.1" cy="482.7" r="0.62"/><circle cx="70.5" cy="487.4" r="0.62"/><circle cx="57.2" cy="467.2" r="0.62"/><circle cx="69.1" cy="484.8" r="0.62"/><circle cx="76.7" cy="488.7" r="0.62"/><circle cx="73.4" cy="486.1" r="0.62"/><circle cx="63.4" cy="480.7" r="0.62"/><circle cx="70.6" cy="487.3" r="0.62"/><circle cx="77.4" cy="475.7" r="0.62"/><circle cx="73.6" cy="478.9" r="0.62"/><circle cx="64.8" cy="488.4" r="0.62"/><circle cx="84.9" cy="462.2" r="0.62"/><circle cx="74.6" cy="484.5" r="0.62"/><circle cx="69.3" cy="485.7" r="0.62"/><circle cx="67.7" cy="480.9" r="0.62"/><circle cx="74.7" cy="489.1" r="0.62"/><circle cx="71.8" cy="490.2" r="0.62"/><circle cx="64.3" cy="470.2" r="0.62"/><circle cx="70.8" cy="488.1" r="0.62"/><circle cx="58.0" cy="485.4" r="0.62"/><circle cx="75.3" cy="485.8" r="0.62"/><circle cx="77.0" cy="490.1" r="0.62"/><circle cx="63.2" cy="486.3" r="0.62"/><circle cx="68.8" cy="489.0" r="0.62"/><circle cx="68.5" cy="480.1" r="0.62"/><circle cx="73.5" cy="486.5" r="0.62"/><circle cx="76.9" cy="479.1" r="0.62"/><circle cx="64.5" cy="462.8" r="0.62"/><circle cx="69.5" cy="488.7" r="0.62"/><circle cx="66.4" cy="488.1" r="0.62"/><circle cx="67.7" cy="486.2" r="0.62"/><circle cx="76.4" cy="468.1" r="0.62"/><circle cx="67.8" cy="478.0" r="0.62"/><circle cx="67.7" cy="490.1" r="0.62"/><circle cx="58.6" cy="474.9" r="0.62"/><circle cx="69.1" cy="485.2" r="0.62"/><circle cx="78.2" cy="463.8" r="0.62"/><circle cx="74.4" cy="488.7" r="0.62"/><circle cx="71.1" cy="486.3" r="0.62"/><circle cx="69.3" cy="489.2" r="0.62"/><circle cx="67.8" cy="483.5" r="0.62"/><circle cx="62.6" cy="462.9" r="0.62"/><circle cx="65.4" cy="469.3" r="0.62"/><circle cx="61.5" cy="459.6" r="0.62"/><circle cx="68.1" cy="486.3" r="0.62"/><circle cx="72.4" cy="483.2" r="0.62"/><circle cx="72.6" cy="486.8" r="0.62"/><circle cx="83.6" cy="490.2" r="0.62"/><circle cx="65.3" cy="489.1" r="0.62"/><circle cx="73.0" cy="483.9" r="0.62"/><circle cx="73.4" cy="489.0" r="0.62"/><circle cx="78.8" cy="477.4" r="0.62"/><circle cx="70.4" cy="485.3" r="0.62"/><circle cx="76.5" cy="467.4" r="0.62"/><circle cx="78.9" cy="484.0" r="0.62"/><circle cx="67.1" cy="483.5" r="0.62"/><circle cx="79.2" cy="483.5" r="0.62"/><circle cx="70.1" cy="489.1" r="0.62"/><circle cx="70.9" cy="488.3" r="0.62"/><circle cx="77.2" cy="472.0" r="0.62"/><circle cx="73.4" cy="488.9" r="0.62"/><circle cx="66.6" cy="477.2" r="0.62"/><circle cx="68.0" cy="478.6" r="0.62"/><circle cx="70.9" cy="486.4" r="0.62"/><circle cx="70.2" cy="489.5" r="0.62"/><circle cx="71.1" cy="482.1" r="0.62"/><circle cx="68.3" cy="486.0" r="0.62"/><circle cx="69.8" cy="483.4" r="0.62"/><circle cx="67.9" cy="475.3" r="0.62"/><circle cx="74.7" cy="490.4" r="0.62"/><circle cx="69.5" cy="485.4" r="0.62"/><circle cx="74.4" cy="484.5" r="0.62"/><circle cx="70.3" cy="488.9" r="0.62"/><circle cx="67.2" cy="481.4" r="0.62"/><circle cx="79.8" cy="487.8" r="0.62"/><circle cx="67.8" cy="486.6" r="0.62"/><circle cx="68.4" cy="481.0" r="0.62"/><circle cx="73.9" cy="478.1" r="0.62"/><circle cx="63.2" cy="485.6" r="0.62"/><circle cx="69.2" cy="490.1" r="0.62"/><circle cx="69.8" cy="488.7" r="0.62"/><circle cx="65.1" cy="490.0" r="0.62"/><circle cx="74.6" cy="490.4" r="0.62"/><circle cx="68.0" cy="483.9" r="0.62"/><circle cx="72.7" cy="487.8" r="0.62"/><circle cx="71.0" cy="487.5" r="0.62"/><circle cx="72.3" cy="484.6" r="0.62"/><circle cx="71.3" cy="488.9" r="0.62"/><circle cx="66.7" cy="472.1" r="0.62"/><circle cx="64.7" cy="487.8" r="0.62"/><circle cx="66.3" cy="482.1" r="0.62"/><circle cx="76.6" cy="458.4" r="0.62"/><circle cx="72.4" cy="477.6" r="0.62"/><circle cx="68.4" cy="490.6" r="0.62"/><circle cx="69.1" cy="478.9" r="0.62"/><circle cx="75.2" cy="489.4" r="0.62"/><circle cx="75.8" cy="478.0" r="0.62"/><circle cx="69.8" cy="479.7" r="0.62"/><circle cx="68.7" cy="478.8" r="0.62"/><circle cx="80.8" cy="487.1" r="0.62"/><circle cx="73.6" cy="490.3" r="0.62"/><circle cx="71.8" cy="482.3" r="0.62"/><circle cx="68.5" cy="478.6" r="0.62"/><circle cx="75.5" cy="470.2" r="0.62"/><circle cx="68.1" cy="486.3" r="0.62"/><circle cx="69.5" cy="487.2" r="0.62"/><circle cx="67.6" cy="490.0" r="0.62"/><circle cx="68.1" cy="473.2" r="0.62"/><circle cx="65.0" cy="473.3" r="0.62"/><circle cx="62.9" cy="481.0" r="0.62"/><circle cx="73.8" cy="484.2" r="0.62"/><circle cx="66.1" cy="480.9" r="0.62"/><circle cx="74.3" cy="489.9" r="0.62"/><circle cx="59.8" cy="470.9" r="0.62"/><circle cx="68.8" cy="490.4" r="0.62"/><circle cx="74.6" cy="482.7" r="0.62"/><circle cx="68.4" cy="488.7" r="0.62"/><circle cx="76.0" cy="488.2" r="0.62"/><circle cx="78.0" cy="464.1" r="0.62"/><circle cx="75.1" cy="487.5" r="0.62"/><circle cx="72.6" cy="480.9" r="0.62"/><circle cx="75.4" cy="464.2" r="0.62"/><circle cx="69.7" cy="490.8" r="0.62"/><circle cx="64.9" cy="484.3" r="0.62"/><circle cx="72.0" cy="480.9" r="0.62"/><circle cx="76.6" cy="461.3" r="0.62"/><circle cx="72.1" cy="481.3" r="0.62"/><circle cx="68.6" cy="479.4" r="0.62"/><circle cx="76.1" cy="459.6" r="0.62"/><circle cx="77.7" cy="488.3" r="0.62"/><circle cx="77.4" cy="486.8" r="0.62"/><circle cx="65.1" cy="472.8" r="0.62"/><circle cx="75.7" cy="489.9" r="0.62"/><circle cx="75.1" cy="475.3" r="0.62"/><circle cx="71.8" cy="484.3" r="0.62"/><circle cx="76.0" cy="463.8" r="0.62"/><circle cx="67.7" cy="478.2" r="0.62"/><circle cx="78.2" cy="489.7" r="0.62"/><circle cx="64.7" cy="489.7" r="0.62"/><circle cx="68.4" cy="488.4" r="0.62"/><circle cx="69.4" cy="488.8" r="0.62"/><circle cx="77.6" cy="487.6" r="0.62"/><circle cx="76.3" cy="469.7" r="0.62"/><circle cx="78.6" cy="481.1" r="0.62"/><circle cx="67.7" cy="480.6" r="0.62"/><circle cx="65.1" cy="479.7" r="0.62"/><circle cx="58.4" cy="488.7" r="0.62"/><circle cx="67.9" cy="482.1" r="0.62"/><circle cx="71.6" cy="482.7" r="0.62"/><circle cx="76.3" cy="487.6" r="0.62"/><circle cx="77.5" cy="471.2" r="0.62"/><circle cx="66.3" cy="488.8" r="0.62"/><circle cx="65.4" cy="482.4" r="0.62"/><circle cx="80.0" cy="489.5" r="0.62"/><circle cx="62.1" cy="487.8" r="0.62"/><circle cx="74.1" cy="490.7" r="0.62"/><circle cx="66.9" cy="480.8" r="0.62"/><circle cx="75.7" cy="489.1" r="0.62"/><circle cx="66.9" cy="475.4" r="0.62"/><circle cx="72.9" cy="488.9" r="0.62"/><circle cx="76.5" cy="470.3" r="0.62"/><circle cx="70.6" cy="488.6" r="0.62"/><circle cx="71.9" cy="489.6" r="0.62"/><circle cx="73.5" cy="486.1" r="0.62"/><circle cx="79.3" cy="471.3" r="0.62"/><circle cx="74.6" cy="481.8" r="0.62"/><circle cx="75.1" cy="486.7" r="0.62"/><circle cx="69.7" cy="490.6" r="0.62"/><circle cx="75.2" cy="475.9" r="0.62"/><circle cx="65.5" cy="464.4" r="0.62"/><circle cx="73.3" cy="477.8" r="0.62"/><circle cx="75.2" cy="488.6" r="0.62"/><circle cx="72.0" cy="487.4" r="0.62"/><circle cx="75.7" cy="457.4" r="0.62"/><circle cx="72.4" cy="489.9" r="0.62"/><circle cx="66.5" cy="487.2" r="0.62"/><circle cx="70.7" cy="484.5" r="0.62"/><circle cx="67.3" cy="486.9" r="0.62"/><circle cx="65.7" cy="471.8" r="0.62"/><circle cx="70.2" cy="489.3" r="0.62"/><circle cx="73.9" cy="475.8" r="0.62"/><circle cx="70.6" cy="489.3" r="0.62"/><circle cx="75.0" cy="489.9" r="0.62"/><circle cx="75.9" cy="480.1" r="0.62"/><circle cx="70.7" cy="486.8" r="0.62"/><circle cx="73.5" cy="487.6" r="0.62"/><circle cx="63.5" cy="487.7" r="0.62"/><circle cx="75.3" cy="488.3" r="0.62"/><circle cx="66.1" cy="470.9" r="0.62"/><circle cx="70.3" cy="486.1" r="0.62"/><circle cx="67.7" cy="472.4" r="0.62"/><circle cx="68.3" cy="481.9" r="0.62"/><circle cx="69.5" cy="487.7" r="0.62"/><circle cx="76.1" cy="487.1" r="0.62"/><circle cx="67.8" cy="480.0" r="0.62"/><circle cx="72.9" cy="487.8" r="0.62"/><circle cx="63.8" cy="478.6" r="0.62"/><circle cx="69.7" cy="488.4" r="0.62"/><circle cx="69.5" cy="486.2" r="0.62"/><circle cx="67.9" cy="487.5" r="0.62"/><circle cx="65.2" cy="478.2" r="0.62"/><circle cx="77.9" cy="488.6" r="0.62"/><circle cx="75.3" cy="479.8" r="0.62"/><circle cx="67.6" cy="480.5" r="0.62"/><circle cx="67.4" cy="473.6" r="0.62"/><circle cx="67.5" cy="470.9" r="0.62"/><circle cx="66.5" cy="485.8" r="0.62"/><circle cx="70.4" cy="490.6" r="0.62"/><circle cx="70.8" cy="488.4" r="0.62"/><circle cx="72.9" cy="484.8" r="0.62"/><circle cx="66.0" cy="469.4" r="0.62"/><circle cx="70.1" cy="488.5" r="0.62"/><circle cx="68.8" cy="484.2" r="0.62"/><circle cx="68.5" cy="489.2" r="0.62"/><circle cx="66.3" cy="487.0" r="0.62"/><circle cx="64.6" cy="488.0" r="0.62"/><circle cx="73.7" cy="489.9" r="0.62"/><circle cx="71.5" cy="489.8" r="0.62"/><circle cx="62.7" cy="481.7" r="0.62"/><circle cx="79.6" cy="464.9" r="0.62"/><circle cx="61.8" cy="483.8" r="0.62"/><circle cx="67.0" cy="476.8" r="0.62"/><circle cx="70.9" cy="484.4" r="0.62"/><circle cx="68.3" cy="480.7" r="0.62"/><circle cx="71.5" cy="488.4" r="0.62"/><circle cx="67.9" cy="489.1" r="0.62"/><circle cx="83.0" cy="489.0" r="0.62"/><circle cx="65.5" cy="477.1" r="0.62"/><circle cx="72.4" cy="483.1" r="0.62"/><circle cx="71.7" cy="487.5" r="0.62"/><circle cx="74.2" cy="489.6" r="0.62"/><circle cx="69.1" cy="488.8" r="0.62"/><circle cx="72.8" cy="486.4" r="0.62"/><circle cx="64.7" cy="459.3" r="0.62"/><circle cx="62.0" cy="489.2" r="0.62"/><circle cx="72.9" cy="476.6" r="0.62"/><circle cx="74.2" cy="489.9" r="0.62"/><circle cx="69.6" cy="485.9" r="0.62"/><circle cx="66.1" cy="487.5" r="0.62"/><circle cx="71.3" cy="484.2" r="0.62"/><circle cx="73.4" cy="473.2" r="0.62"/><circle cx="80.1" cy="481.5" r="0.62"/><circle cx="69.5" cy="485.6" r="0.62"/><circle cx="65.4" cy="486.4" r="0.62"/><circle cx="76.2" cy="466.5" r="0.62"/><circle cx="67.8" cy="490.4" r="0.62"/><circle cx="75.1" cy="473.2" r="0.62"/><circle cx="76.6" cy="491.4" r="0.62"/><circle cx="77.0" cy="467.9" r="0.62"/><circle cx="63.0" cy="482.8" r="0.62"/><circle cx="71.7" cy="490.4" r="0.62"/><circle cx="69.2" cy="484.3" r="0.62"/><circle cx="77.4" cy="487.4" r="0.62"/><circle cx="74.0" cy="479.5" r="0.62"/><circle cx="67.6" cy="488.3" r="0.62"/><circle cx="68.1" cy="490.6" r="0.62"/><circle cx="73.2" cy="484.8" r="0.62"/><circle cx="68.1" cy="490.2" r="0.62"/><circle cx="70.2" cy="487.5" r="0.62"/><circle cx="73.5" cy="484.0" r="0.62"/><circle cx="73.9" cy="477.9" r="0.62"/><circle cx="80.3" cy="482.7" r="0.62"/><circle cx="64.4" cy="488.5" r="0.62"/><circle cx="78.2" cy="460.9" r="0.62"/><circle cx="61.9" cy="488.7" r="0.62"/><circle cx="67.2" cy="479.6" r="0.62"/><circle cx="78.0" cy="475.1" r="0.62"/><circle cx="70.8" cy="489.4" r="0.62"/><circle cx="63.8" cy="482.8" r="0.62"/><circle cx="72.9" cy="482.7" r="0.62"/><circle cx="77.8" cy="481.7" r="0.62"/><circle cx="67.2" cy="468.7" r="0.62"/><circle cx="79.0" cy="485.8" r="0.62"/><circle cx="55.8" cy="483.4" r="0.62"/><circle cx="76.6" cy="488.0" r="0.62"/><circle cx="64.9" cy="460.4" r="0.62"/><circle cx="69.9" cy="489.5" r="0.62"/><circle cx="71.2" cy="488.1" r="0.62"/><circle cx="68.5" cy="489.9" r="0.62"/><circle cx="76.7" cy="468.5" r="0.62"/><circle cx="71.3" cy="485.8" r="0.62"/><circle cx="60.2" cy="468.6" r="0.62"/><circle cx="74.9" cy="489.8" r="0.62"/><circle cx="76.7" cy="489.6" r="0.62"/><circle cx="74.9" cy="467.6" r="0.62"/><circle cx="84.6" cy="487.4" r="0.62"/><circle cx="63.5" cy="472.3" r="0.62"/><circle cx="70.0" cy="488.6" r="0.62"/><circle cx="77.0" cy="486.3" r="0.62"/><circle cx="72.0" cy="484.4" r="0.62"/><circle cx="71.7" cy="489.8" r="0.62"/><circle cx="68.8" cy="474.3" r="0.62"/><circle cx="63.0" cy="485.2" r="0.62"/><circle cx="75.4" cy="484.2" r="0.62"/><circle cx="65.5" cy="482.6" r="0.62"/><circle cx="66.7" cy="487.6" r="0.62"/><circle cx="68.7" cy="479.2" r="0.62"/><circle cx="68.1" cy="473.7" r="0.62"/><circle cx="76.1" cy="476.9" r="0.62"/><circle cx="67.3" cy="484.9" r="0.62"/><circle cx="69.5" cy="484.1" r="0.62"/><circle cx="68.6" cy="476.3" r="0.62"/><circle cx="76.3" cy="484.4" r="0.62"/><circle cx="65.3" cy="489.8" r="0.62"/><circle cx="69.2" cy="488.8" r="0.62"/><circle cx="68.4" cy="476.5" r="0.62"/><circle cx="70.2" cy="487.5" r="0.62"/><circle cx="66.6" cy="475.3" r="0.62"/><circle cx="62.8" cy="459.0" r="0.62"/><circle cx="73.9" cy="477.9" r="0.62"/><circle cx="70.5" cy="489.5" r="0.62"/><circle cx="74.6" cy="488.7" r="0.62"/><circle cx="72.8" cy="486.9" r="0.62"/><circle cx="74.7" cy="479.6" r="0.62"/><circle cx="66.9" cy="471.7" r="0.62"/><circle cx="75.1" cy="490.9" r="0.62"/><circle cx="61.7" cy="463.5" r="0.62"/><circle cx="64.7" cy="489.6" r="0.62"/><circle cx="66.9" cy="482.4" r="0.62"/><circle cx="72.4" cy="486.1" r="0.62"/><circle cx="79.1" cy="487.5" r="0.62"/><circle cx="72.2" cy="485.5" r="0.62"/><circle cx="73.4" cy="489.6" r="0.62"/><circle cx="76.8" cy="482.7" r="0.62"/><circle cx="64.3" cy="459.8" r="0.62"/><circle cx="76.5" cy="471.2" r="0.62"/><circle cx="68.1" cy="483.6" r="0.62"/><circle cx="67.3" cy="477.9" r="0.62"/><circle cx="69.7" cy="488.0" r="0.62"/><circle cx="79.8" cy="484.8" r="0.62"/><circle cx="71.6" cy="484.2" r="0.62"/><circle cx="59.9" cy="483.6" r="0.62"/><circle cx="78.5" cy="487.5" r="0.62"/><circle cx="66.1" cy="483.2" r="0.62"/><circle cx="71.6" cy="485.3" r="0.62"/><circle cx="65.9" cy="488.4" r="0.62"/><circle cx="73.5" cy="487.6" r="0.62"/><circle cx="70.5" cy="489.1" r="0.62"/><circle cx="77.5" cy="489.5" r="0.62"/><circle cx="66.5" cy="484.9" r="0.62"/><circle cx="77.2" cy="477.9" r="0.62"/><circle cx="62.4" cy="490.3" r="0.62"/><circle cx="73.0" cy="488.1" r="0.62"/><circle cx="73.9" cy="487.6" r="0.62"/><circle cx="69.0" cy="475.3" r="0.62"/><circle cx="67.4" cy="473.4" r="0.62"/><circle cx="69.8" cy="483.1" r="0.62"/><circle cx="59.7" cy="476.5" r="0.62"/><circle cx="72.4" cy="482.1" r="0.62"/><circle cx="70.1" cy="487.9" r="0.62"/><circle cx="69.7" cy="489.6" r="0.62"/><circle cx="70.6" cy="488.8" r="0.62"/><circle cx="71.8" cy="488.7" r="0.62"/><circle cx="78.2" cy="474.0" r="0.62"/><circle cx="69.8" cy="491.2" r="0.62"/><circle cx="60.0" cy="487.5" r="0.62"/><circle cx="74.3" cy="474.9" r="0.62"/><circle cx="69.6" cy="487.1" r="0.62"/><circle cx="75.7" cy="461.7" r="0.62"/><circle cx="64.4" cy="489.6" r="0.62"/><circle cx="67.8" cy="482.4" r="0.62"/><circle cx="73.4" cy="482.7" r="0.62"/><circle cx="70.3" cy="486.9" r="0.62"/><circle cx="65.7" cy="459.3" r="0.62"/><circle cx="77.6" cy="488.5" r="0.62"/><circle cx="67.3" cy="490.2" r="0.62"/><circle cx="66.1" cy="474.7" r="0.62"/><circle cx="57.8" cy="462.1" r="0.62"/><circle cx="72.4" cy="489.0" r="0.62"/><circle cx="67.9" cy="489.9" r="0.62"/><circle cx="64.5" cy="479.0" r="0.62"/><circle cx="78.8" cy="468.6" r="0.62"/><circle cx="76.0" cy="488.5" r="0.62"/><circle cx="68.8" cy="479.8" r="0.62"/><circle cx="65.4" cy="461.5" r="0.62"/><circle cx="78.3" cy="487.0" r="0.62"/><circle cx="64.5" cy="487.1" r="0.62"/><circle cx="67.0" cy="487.3" r="0.62"/><circle cx="73.4" cy="485.3" r="0.62"/><circle cx="70.1" cy="482.8" r="0.62"/><circle cx="79.0" cy="465.1" r="0.62"/><circle cx="69.9" cy="487.2" r="0.62"/><circle cx="67.1" cy="488.0" r="0.62"/><circle cx="65.4" cy="487.2" r="0.62"/><circle cx="72.5" cy="483.0" r="0.62"/><circle cx="66.4" cy="488.3" r="0.62"/><circle cx="70.0" cy="482.4" r="0.62"/><circle cx="72.6" cy="485.8" r="0.62"/><circle cx="81.2" cy="485.9" r="0.62"/><circle cx="69.8" cy="488.9" r="0.62"/><circle cx="64.9" cy="472.7" r="0.62"/><circle cx="68.8" cy="485.5" r="0.62"/><circle cx="76.3" cy="484.9" r="0.62"/><circle cx="69.1" cy="487.2" r="0.62"/><circle cx="73.9" cy="483.1" r="0.62"/><circle cx="73.8" cy="486.9" r="0.62"/><circle cx="60.0" cy="458.7" r="0.62"/><circle cx="77.8" cy="489.5" r="0.62"/><circle cx="71.0" cy="486.3" r="0.62"/><circle cx="72.7" cy="485.5" r="0.62"/><circle cx="70.9" cy="489.1" r="0.62"/><circle cx="72.1" cy="481.8" r="0.62"/><circle cx="65.2" cy="476.8" r="0.62"/><circle cx="72.7" cy="481.3" r="0.62"/><circle cx="69.2" cy="488.0" r="0.62"/><circle cx="79.4" cy="486.6" r="0.62"/><circle cx="67.5" cy="486.5" r="0.62"/><circle cx="72.3" cy="490.0" r="0.62"/><circle cx="74.0" cy="483.9" r="0.62"/><circle cx="71.7" cy="489.1" r="0.62"/><circle cx="70.3" cy="484.7" r="0.62"/><circle cx="69.6" cy="482.8" r="0.62"/><circle cx="63.3" cy="479.5" r="0.62"/><circle cx="71.1" cy="489.6" r="0.62"/><circle cx="71.1" cy="488.4" r="0.62"/><circle cx="68.8" cy="479.9" r="0.62"/><circle cx="66.2" cy="471.4" r="0.62"/><circle cx="63.7" cy="481.4" r="0.62"/><circle cx="70.0" cy="487.8" r="0.62"/><circle cx="73.1" cy="490.0" r="0.62"/><circle cx="61.6" cy="462.5" r="0.62"/><circle cx="76.1" cy="461.5" r="0.62"/><circle cx="73.6" cy="480.4" r="0.62"/><circle cx="76.0" cy="484.7" r="0.62"/><circle cx="73.7" cy="472.9" r="0.62"/><circle cx="69.9" cy="489.1" r="0.62"/><circle cx="72.8" cy="484.4" r="0.62"/><circle cx="71.0" cy="484.2" r="0.62"/><circle cx="72.4" cy="490.8" r="0.62"/><circle cx="76.0" cy="488.6" r="0.62"/><circle cx="76.7" cy="485.1" r="0.62"/><circle cx="64.3" cy="465.6" r="0.62"/><circle cx="71.6" cy="482.7" r="0.62"/><circle cx="71.0" cy="490.3" r="0.62"/><circle cx="73.5" cy="479.3" r="0.62"/><circle cx="72.9" cy="485.8" r="0.62"/><circle cx="66.4" cy="488.7" r="0.62"/><circle cx="74.6" cy="479.0" r="0.62"/><circle cx="74.9" cy="478.7" r="0.62"/><circle cx="75.5" cy="482.9" r="0.62"/><circle cx="69.6" cy="488.3" r="0.62"/><circle cx="79.7" cy="464.4" r="0.62"/><circle cx="75.9" cy="459.0" r="0.62"/><circle cx="70.0" cy="487.9" r="0.62"/><circle cx="81.3" cy="487.0" r="0.62"/><circle cx="67.4" cy="483.5" r="0.62"/><circle cx="68.3" cy="486.6" r="0.62"/><circle cx="70.3" cy="486.1" r="0.62"/><circle cx="71.0" cy="488.2" r="0.62"/><circle cx="74.8" cy="484.7" r="0.62"/><circle cx="75.6" cy="487.1" r="0.62"/><circle cx="71.0" cy="487.8" r="0.62"/><circle cx="73.4" cy="472.1" r="0.62"/><circle cx="68.8" cy="484.7" r="0.62"/><circle cx="73.8" cy="488.1" r="0.62"/><circle cx="81.9" cy="473.7" r="0.62"/><circle cx="63.3" cy="467.4" r="0.62"/><circle cx="72.3" cy="489.1" r="0.62"/><circle cx="70.0" cy="488.7" r="0.62"/><circle cx="61.9" cy="461.3" r="0.62"/><circle cx="69.9" cy="485.1" r="0.62"/><circle cx="73.6" cy="488.8" r="0.62"/><circle cx="62.7" cy="458.4" r="0.62"/><circle cx="70.5" cy="485.8" r="0.62"/><circle cx="61.5" cy="464.0" r="0.62"/><circle cx="66.8" cy="485.5" r="0.62"/><circle cx="71.7" cy="489.5" r="0.62"/><circle cx="65.5" cy="473.2" r="0.62"/><circle cx="70.5" cy="490.2" r="0.62"/><circle cx="65.6" cy="486.9" r="0.62"/><circle cx="66.2" cy="486.4" r="0.62"/><circle cx="79.1" cy="485.3" r="0.62"/><circle cx="77.3" cy="481.2" r="0.62"/><circle cx="65.2" cy="470.8" r="0.62"/><circle cx="74.2" cy="481.9" r="0.62"/><circle cx="72.3" cy="487.0" r="0.62"/><circle cx="68.5" cy="483.3" r="0.62"/><circle cx="71.6" cy="483.9" r="0.62"/><circle cx="74.5" cy="476.8" r="0.62"/><circle cx="62.8" cy="463.0" r="0.62"/><circle cx="76.9" cy="457.8" r="0.62"/><circle cx="70.9" cy="489.6" r="0.62"/><circle cx="69.5" cy="483.4" r="0.62"/><circle cx="71.2" cy="485.0" r="0.62"/><circle cx="71.6" cy="490.2" r="0.62"/><circle cx="72.1" cy="490.0" r="0.62"/><circle cx="78.7" cy="482.9" r="0.62"/><circle cx="63.2" cy="483.1" r="0.62"/><circle cx="65.0" cy="476.5" r="0.62"/><circle cx="72.0" cy="487.5" r="0.62"/><circle cx="70.9" cy="489.2" r="0.62"/><circle cx="80.1" cy="480.6" r="0.62"/><circle cx="68.7" cy="474.0" r="0.62"/><circle cx="73.1" cy="485.4" r="0.62"/><circle cx="73.5" cy="475.5" r="0.62"/><circle cx="69.1" cy="487.6" r="0.62"/><circle cx="72.8" cy="487.7" r="0.62"/><circle cx="68.3" cy="484.1" r="0.62"/><circle cx="72.1" cy="487.5" r="0.62"/><circle cx="79.5" cy="483.2" r="0.62"/><circle cx="63.4" cy="485.1" r="0.62"/><circle cx="66.3" cy="483.7" r="0.62"/><circle cx="67.2" cy="476.8" r="0.62"/><circle cx="66.8" cy="489.4" r="0.62"/><circle cx="75.0" cy="487.3" r="0.62"/><circle cx="58.4" cy="488.5" r="0.62"/><circle cx="70.1" cy="485.7" r="0.62"/><circle cx="65.8" cy="472.3" r="0.62"/><circle cx="62.5" cy="478.5" r="0.62"/><circle cx="64.8" cy="459.0" r="0.62"/><circle cx="77.3" cy="484.4" r="0.62"/><circle cx="70.1" cy="486.7" r="0.62"/><circle cx="71.2" cy="487.6" r="0.62"/><circle cx="69.0" cy="487.0" r="0.62"/><circle cx="75.5" cy="481.6" r="0.62"/><circle cx="59.2" cy="485.0" r="0.62"/><circle cx="68.7" cy="487.6" r="0.62"/><circle cx="72.9" cy="488.0" r="0.62"/><circle cx="75.4" cy="490.7" r="0.62"/><circle cx="73.6" cy="476.0" r="0.62"/><circle cx="69.3" cy="489.7" r="0.62"/><circle cx="72.7" cy="487.8" r="0.62"/><circle cx="71.5" cy="489.3" r="0.62"/><circle cx="73.1" cy="481.8" r="0.62"/><circle cx="79.4" cy="488.0" r="0.62"/><circle cx="62.4" cy="476.9" r="0.62"/><circle cx="61.5" cy="488.5" r="0.62"/><circle cx="78.9" cy="484.8" r="0.62"/><circle cx="73.1" cy="479.0" r="0.62"/><circle cx="73.2" cy="481.4" r="0.62"/><circle cx="81.0" cy="465.1" r="0.62"/><circle cx="72.3" cy="490.1" r="0.62"/><circle cx="68.8" cy="479.9" r="0.62"/><circle cx="72.1" cy="489.1" r="0.62"/><circle cx="70.3" cy="484.2" r="0.62"/><circle cx="78.6" cy="488.5" r="0.62"/><circle cx="78.1" cy="473.5" r="0.62"/><circle cx="69.5" cy="487.8" r="0.62"/><circle cx="73.7" cy="487.9" r="0.62"/><circle cx="68.6" cy="489.1" r="0.62"/><circle cx="76.9" cy="481.5" r="0.62"/><circle cx="76.9" cy="475.6" r="0.62"/><circle cx="64.1" cy="480.8" r="0.62"/><circle cx="65.1" cy="478.7" r="0.62"/><circle cx="69.0" cy="478.5" r="0.62"/><circle cx="70.5" cy="485.5" r="0.62"/><circle cx="68.3" cy="488.4" r="0.62"/><circle cx="67.3" cy="476.9" r="0.62"/><circle cx="72.8" cy="484.8" r="0.62"/><circle cx="78.8" cy="489.9" r="0.62"/><circle cx="84.0" cy="479.0" r="0.62"/><circle cx="74.5" cy="466.2" r="0.62"/><circle cx="78.2" cy="490.6" r="0.62"/><circle cx="69.1" cy="486.0" r="0.62"/><circle cx="68.5" cy="480.3" r="0.62"/><circle cx="73.7" cy="474.5" r="0.62"/><circle cx="67.5" cy="484.8" r="0.62"/><circle cx="64.4" cy="490.3" r="0.62"/><circle cx="78.4" cy="488.4" r="0.62"/><circle cx="65.0" cy="479.0" r="0.62"/><circle cx="75.2" cy="486.8" r="0.62"/><circle cx="70.8" cy="490.3" r="0.62"/><circle cx="68.3" cy="489.1" r="0.62"/><circle cx="58.4" cy="485.7" r="0.62"/><circle cx="80.0" cy="488.0" r="0.62"/><circle cx="72.2" cy="485.1" r="0.62"/><circle cx="77.1" cy="487.0" r="0.62"/><circle cx="57.6" cy="487.3" r="0.62"/><circle cx="82.0" cy="474.0" r="0.62"/><circle cx="71.3" cy="485.2" r="0.62"/><circle cx="57.3" cy="473.7" r="0.62"/><circle cx="69.3" cy="489.6" r="0.62"/><circle cx="71.1" cy="488.3" r="0.62"/><circle cx="75.6" cy="486.2" r="0.62"/><circle cx="76.3" cy="462.9" r="0.62"/><circle cx="62.2" cy="478.3" r="0.62"/><circle cx="74.5" cy="478.1" r="0.62"/><circle cx="74.0" cy="484.8" r="0.62"/><circle cx="65.0" cy="469.9" r="0.62"/><circle cx="79.9" cy="489.1" r="0.62"/><circle cx="72.2" cy="489.8" r="0.62"/><circle cx="72.2" cy="480.6" r="0.62"/><circle cx="64.3" cy="490.4" r="0.62"/><circle cx="71.8" cy="489.5" r="0.62"/><circle cx="68.2" cy="489.3" r="0.62"/><circle cx="74.9" cy="482.0" r="0.62"/><circle cx="74.4" cy="489.9" r="0.62"/><circle cx="70.5" cy="484.7" r="0.62"/><circle cx="68.3" cy="483.7" r="0.62"/><circle cx="65.2" cy="484.1" r="0.62"/><circle cx="60.2" cy="490.5" r="0.62"/><circle cx="70.4" cy="488.1" r="0.62"/><circle cx="69.6" cy="487.1" r="0.62"/><circle cx="81.9" cy="471.3" r="0.62"/><circle cx="67.8" cy="480.0" r="0.62"/><circle cx="61.2" cy="458.1" r="0.62"/><circle cx="64.7" cy="460.3" r="0.62"/><circle cx="68.3" cy="479.3" r="0.62"/><circle cx="73.3" cy="488.8" r="0.62"/><circle cx="73.0" cy="479.0" r="0.62"/><circle cx="70.4" cy="488.8" r="0.62"/><circle cx="72.6" cy="484.8" r="0.62"/><circle cx="71.2" cy="490.2" r="0.62"/><circle cx="69.1" cy="482.9" r="0.62"/><circle cx="73.6" cy="488.6" r="0.62"/><circle cx="77.7" cy="482.8" r="0.62"/><circle cx="75.4" cy="485.8" r="0.62"/><circle cx="69.5" cy="483.6" r="0.62"/><circle cx="70.1" cy="486.8" r="0.62"/><circle cx="68.1" cy="478.3" r="0.62"/><circle cx="67.6" cy="469.1" r="0.62"/><circle cx="76.3" cy="466.8" r="0.62"/><circle cx="64.9" cy="465.6" r="0.62"/><circle cx="70.0" cy="489.9" r="0.62"/><circle cx="71.2" cy="490.1" r="0.62"/><circle cx="63.1" cy="485.7" r="0.62"/><circle cx="76.2" cy="471.1" r="0.62"/><circle cx="61.8" cy="474.2" r="0.62"/><circle cx="70.0" cy="484.7" r="0.62"/><circle cx="76.5" cy="486.6" r="0.62"/><circle cx="67.3" cy="482.9" r="0.62"/><circle cx="64.6" cy="458.3" r="0.62"/><circle cx="66.3" cy="483.5" r="0.62"/><circle cx="62.2" cy="480.6" r="0.62"/><circle cx="74.3" cy="486.4" r="0.62"/><circle cx="69.2" cy="483.6" r="0.62"/><circle cx="72.8" cy="485.9" r="0.62"/><circle cx="66.9" cy="485.9" r="0.62"/><circle cx="68.8" cy="489.8" r="0.62"/><circle cx="72.7" cy="478.4" r="0.62"/><circle cx="69.0" cy="483.5" r="0.62"/><circle cx="69.5" cy="479.9" r="0.62"/><circle cx="73.3" cy="478.9" r="0.62"/><circle cx="67.3" cy="471.7" r="0.62"/><circle cx="67.3" cy="489.8" r="0.62"/><circle cx="67.8" cy="488.6" r="0.62"/><circle cx="69.6" cy="478.8" r="0.62"/><circle cx="67.7" cy="470.8" r="0.62"/><circle cx="69.6" cy="487.1" r="0.62"/><circle cx="80.2" cy="486.9" r="0.62"/><circle cx="69.4" cy="488.8" r="0.62"/><circle cx="68.3" cy="479.9" r="0.62"/><circle cx="65.4" cy="489.6" r="0.62"/><circle cx="73.3" cy="481.0" r="0.62"/><circle cx="74.8" cy="488.9" r="0.62"/><circle cx="76.5" cy="476.3" r="0.62"/><circle cx="65.6" cy="475.7" r="0.62"/><circle cx="64.9" cy="484.0" r="0.62"/><circle cx="73.2" cy="482.0" r="0.62"/><circle cx="75.6" cy="474.1" r="0.62"/><circle cx="66.7" cy="478.2" r="0.62"/><circle cx="78.3" cy="461.9" r="0.62"/><circle cx="75.7" cy="490.1" r="0.62"/><circle cx="72.4" cy="489.0" r="0.62"/><circle cx="67.0" cy="471.5" r="0.62"/><circle cx="72.2" cy="487.6" r="0.62"/><circle cx="78.5" cy="489.4" r="0.62"/><circle cx="69.4" cy="490.7" r="0.62"/><circle cx="75.2" cy="479.0" r="0.62"/><circle cx="67.1" cy="489.7" r="0.62"/><circle cx="72.7" cy="475.3" r="0.62"/><circle cx="75.0" cy="489.5" r="0.62"/><circle cx="68.8" cy="484.7" r="0.62"/><circle cx="68.4" cy="471.6" r="0.62"/><circle cx="65.8" cy="459.9" r="0.62"/><circle cx="62.3" cy="474.4" r="0.62"/><circle cx="75.6" cy="483.2" r="0.62"/><circle cx="68.1" cy="478.6" r="0.62"/><circle cx="69.0" cy="489.8" r="0.62"/><circle cx="74.9" cy="483.1" r="0.62"/><circle cx="72.2" cy="488.5" r="0.62"/><circle cx="75.6" cy="490.0" r="0.62"/><circle cx="70.3" cy="483.9" r="0.62"/><circle cx="71.3" cy="485.4" r="0.62"/><circle cx="73.8" cy="489.0" r="0.62"/><circle cx="69.6" cy="490.1" r="0.62"/><circle cx="77.4" cy="477.6" r="0.62"/><circle cx="73.1" cy="490.1" r="0.62"/><circle cx="58.5" cy="487.7" r="0.62"/><circle cx="73.9" cy="489.8" r="0.62"/><circle cx="74.2" cy="472.0" r="0.62"/><circle cx="74.2" cy="487.9" r="0.62"/><circle cx="64.1" cy="469.6" r="0.62"/><circle cx="66.1" cy="482.3" r="0.62"/><circle cx="63.4" cy="485.5" r="0.62"/><circle cx="75.6" cy="485.3" r="0.62"/><circle cx="71.7" cy="488.4" r="0.62"/><circle cx="75.2" cy="485.2" r="0.62"/><circle cx="73.5" cy="482.5" r="0.62"/><circle cx="72.0" cy="490.2" r="0.62"/><circle cx="67.2" cy="476.2" r="0.62"/><circle cx="72.6" cy="481.7" r="0.62"/><circle cx="66.4" cy="483.8" r="0.62"/><circle cx="71.7" cy="483.8" r="0.62"/><circle cx="67.7" cy="469.3" r="0.62"/><circle cx="74.2" cy="475.0" r="0.62"/><circle cx="73.9" cy="484.6" r="0.62"/><circle cx="74.4" cy="473.6" r="0.62"/><circle cx="70.6" cy="490.2" r="0.62"/><circle cx="77.0" cy="467.6" r="0.62"/><circle cx="72.3" cy="482.8" r="0.62"/><circle cx="72.3" cy="487.0" r="0.62"/><circle cx="69.3" cy="485.7" r="0.62"/><circle cx="68.5" cy="485.4" r="0.62"/><circle cx="73.5" cy="490.5" r="0.62"/><circle cx="71.8" cy="488.6" r="0.62"/><circle cx="71.8" cy="488.5" r="0.62"/><circle cx="73.1" cy="478.5" r="0.62"/><circle cx="68.8" cy="487.2" r="0.62"/><circle cx="72.9" cy="475.2" r="0.62"/><circle cx="63.0" cy="481.7" r="0.62"/><circle cx="61.5" cy="466.1" r="0.62"/><circle cx="73.1" cy="481.4" r="0.62"/><circle cx="76.3" cy="484.6" r="0.62"/><circle cx="70.1" cy="487.3" r="0.62"/><circle cx="62.6" cy="486.1" r="0.62"/><circle cx="70.3" cy="488.7" r="0.62"/><circle cx="71.3" cy="489.9" r="0.62"/><circle cx="63.2" cy="489.7" r="0.62"/><circle cx="76.5" cy="486.2" r="0.62"/><circle cx="77.4" cy="461.7" r="0.62"/><circle cx="70.1" cy="489.7" r="0.62"/><circle cx="75.0" cy="482.7" r="0.62"/><circle cx="81.4" cy="463.0" r="0.62"/><circle cx="67.3" cy="488.5" r="0.62"/><circle cx="67.0" cy="466.1" r="0.62"/><circle cx="71.8" cy="490.8" r="0.62"/><circle cx="71.5" cy="489.5" r="0.62"/><circle cx="79.6" cy="463.5" r="0.62"/><circle cx="83.8" cy="471.2" r="0.62"/><circle cx="72.0" cy="482.5" r="0.62"/><circle cx="63.4" cy="485.5" r="0.62"/><circle cx="68.7" cy="475.1" r="0.62"/><circle cx="82.6" cy="462.4" r="0.62"/><circle cx="62.5" cy="467.1" r="0.62"/><circle cx="69.2" cy="482.8" r="0.62"/><circle cx="70.8" cy="486.2" r="0.62"/><circle cx="76.2" cy="473.5" r="0.62"/><circle cx="64.1" cy="484.4" r="0.62"/><circle cx="77.1" cy="467.8" r="0.62"/><circle cx="71.5" cy="487.5" r="0.62"/><circle cx="71.2" cy="489.0" r="0.62"/><circle cx="74.1" cy="488.9" r="0.62"/><circle cx="77.1" cy="490.6" r="0.62"/><circle cx="65.5" cy="471.2" r="0.62"/><circle cx="69.9" cy="486.0" r="0.62"/><circle cx="73.2" cy="474.1" r="0.62"/><circle cx="74.8" cy="470.4" r="0.62"/><circle cx="70.2" cy="489.7" r="0.62"/><circle cx="75.1" cy="486.2" r="0.62"/><circle cx="71.4" cy="487.5" r="0.62"/><circle cx="75.7" cy="457.2" r="0.62"/><circle cx="73.5" cy="486.6" r="0.62"/><circle cx="62.1" cy="483.7" r="0.62"/><circle cx="78.3" cy="490.1" r="0.62"/><circle cx="75.9" cy="483.5" r="0.62"/><circle cx="66.6" cy="463.8" r="0.62"/><circle cx="71.0" cy="489.9" r="0.62"/><circle cx="68.1" cy="484.9" r="0.62"/><circle cx="69.0" cy="487.7" r="0.62"/><circle cx="79.7" cy="469.0" r="0.62"/><circle cx="76.0" cy="490.6" r="0.62"/><circle cx="77.3" cy="466.2" r="0.62"/><circle cx="74.6" cy="479.5" r="0.62"/><circle cx="69.0" cy="477.5" r="0.62"/><circle cx="75.7" cy="489.7" r="0.62"/><circle cx="67.3" cy="489.2" r="0.62"/><circle cx="68.0" cy="473.1" r="0.62"/><circle cx="70.2" cy="484.5" r="0.62"/><circle cx="76.6" cy="490.8" r="0.62"/><circle cx="77.9" cy="488.7" r="0.62"/><circle cx="79.7" cy="490.7" r="0.62"/><circle cx="64.7" cy="480.7" r="0.62"/><circle cx="70.3" cy="488.7" r="0.62"/><circle cx="67.3" cy="488.9" r="0.62"/><circle cx="67.0" cy="479.3" r="0.62"/><circle cx="73.9" cy="488.9" r="0.62"/><circle cx="66.1" cy="484.7" r="0.62"/><circle cx="71.1" cy="483.4" r="0.62"/><circle cx="69.2" cy="490.3" r="0.62"/><circle cx="73.1" cy="483.2" r="0.62"/><circle cx="71.3" cy="490.5" r="0.62"/><circle cx="71.4" cy="488.9" r="0.62"/><circle cx="67.6" cy="482.2" r="0.62"/><circle cx="71.6" cy="486.5" r="0.62"/><circle cx="69.5" cy="485.3" r="0.62"/><circle cx="64.1" cy="488.5" r="0.62"/><circle cx="80.4" cy="479.6" r="0.62"/><circle cx="72.5" cy="479.6" r="0.62"/><circle cx="80.9" cy="485.3" r="0.62"/><circle cx="72.8" cy="489.4" r="0.62"/><circle cx="69.5" cy="487.0" r="0.62"/><circle cx="72.6" cy="481.1" r="0.62"/><circle cx="71.2" cy="487.2" r="0.62"/><circle cx="70.8" cy="487.3" r="0.62"/><circle cx="69.4" cy="489.1" r="0.62"/><circle cx="71.6" cy="488.2" r="0.62"/><circle cx="69.4" cy="490.8" r="0.62"/><circle cx="66.4" cy="470.6" r="0.62"/><circle cx="75.0" cy="467.1" r="0.62"/><circle cx="71.6" cy="490.5" r="0.62"/><circle cx="66.1" cy="489.4" r="0.62"/><circle cx="68.4" cy="489.3" r="0.62"/><circle cx="73.3" cy="489.5" r="0.62"/><circle cx="73.9" cy="485.0" r="0.62"/><circle cx="66.6" cy="483.8" r="0.62"/><circle cx="65.9" cy="467.0" r="0.62"/><circle cx="69.9" cy="482.7" r="0.62"/><circle cx="72.8" cy="488.6" r="0.62"/><circle cx="79.0" cy="464.4" r="0.62"/><circle cx="69.3" cy="484.3" r="0.62"/><circle cx="76.4" cy="488.9" r="0.62"/><circle cx="70.2" cy="488.2" r="0.62"/><circle cx="73.8" cy="472.2" r="0.62"/><circle cx="72.3" cy="489.5" r="0.62"/><circle cx="68.5" cy="486.0" r="0.62"/><circle cx="71.7" cy="490.2" r="0.62"/><circle cx="73.7" cy="472.8" r="0.62"/><circle cx="70.0" cy="488.6" r="0.62"/><circle cx="66.2" cy="490.2" r="0.62"/><circle cx="76.2" cy="466.1" r="0.62"/><circle cx="70.8" cy="487.5" r="0.62"/><circle cx="77.1" cy="488.2" r="0.62"/><circle cx="79.9" cy="464.7" r="0.62"/><circle cx="71.5" cy="487.7" r="0.62"/><circle cx="77.7" cy="486.4" r="0.62"/><circle cx="68.2" cy="479.8" r="0.62"/><circle cx="65.7" cy="486.2" r="0.62"/><circle cx="68.8" cy="488.5" r="0.62"/><circle cx="71.9" cy="485.9" r="0.62"/><circle cx="73.4" cy="479.9" r="0.62"/><circle cx="70.3" cy="483.4" r="0.62"/><circle cx="61.9" cy="458.1" r="0.62"/><circle cx="65.8" cy="485.5" r="0.62"/><circle cx="75.0" cy="486.9" r="0.62"/><circle cx="70.0" cy="489.8" r="0.62"/><circle cx="74.5" cy="470.5" r="0.62"/><circle cx="65.6" cy="473.5" r="0.62"/><circle cx="68.7" cy="489.2" r="0.62"/><circle cx="79.6" cy="485.9" r="0.62"/><circle cx="68.2" cy="486.1" r="0.62"/><circle cx="74.0" cy="488.0" r="0.62"/><circle cx="73.8" cy="489.9" r="0.62"/><circle cx="66.3" cy="477.4" r="0.62"/><circle cx="71.3" cy="489.3" r="0.62"/><circle cx="73.0" cy="485.4" r="0.62"/><circle cx="69.7" cy="486.1" r="0.62"/><circle cx="67.3" cy="475.7" r="0.62"/><circle cx="67.9" cy="470.2" r="0.62"/><circle cx="77.8" cy="484.2" r="0.62"/><circle cx="71.2" cy="486.7" r="0.62"/><circle cx="71.6" cy="483.5" r="0.62"/><circle cx="66.3" cy="479.8" r="0.62"/><circle cx="77.4" cy="471.4" r="0.62"/><circle cx="76.8" cy="481.7" r="0.62"/><circle cx="69.0" cy="478.5" r="0.62"/><circle cx="77.1" cy="488.6" r="0.62"/><circle cx="79.5" cy="491.3" r="0.62"/><circle cx="69.1" cy="486.6" r="0.62"/><circle cx="73.4" cy="486.1" r="0.62"/><circle cx="68.7" cy="485.5" r="0.62"/><circle cx="72.3" cy="488.9" r="0.62"/><circle cx="68.4" cy="488.4" r="0.62"/><circle cx="77.9" cy="480.9" r="0.62"/><circle cx="73.4" cy="488.8" r="0.62"/><circle cx="67.5" cy="479.8" r="0.62"/><circle cx="72.3" cy="483.0" r="0.62"/><circle cx="66.4" cy="487.5" r="0.62"/><circle cx="65.5" cy="474.5" r="0.62"/><circle cx="70.4" cy="487.4" r="0.62"/><circle cx="74.3" cy="481.8" r="0.62"/><circle cx="78.6" cy="489.8" r="0.62"/><circle cx="70.8" cy="489.8" r="0.62"/><circle cx="73.9" cy="484.1" r="0.62"/><circle cx="70.0" cy="489.8" r="0.62"/><circle cx="68.7" cy="473.4" r="0.62"/><circle cx="63.2" cy="476.9" r="0.62"/><circle cx="71.3" cy="489.4" r="0.62"/><circle cx="78.2" cy="481.7" r="0.62"/><circle cx="72.0" cy="485.8" r="0.62"/><circle cx="72.5" cy="489.3" r="0.62"/><circle cx="72.3" cy="486.2" r="0.62"/><circle cx="63.1" cy="481.7" r="0.62"/><circle cx="70.5" cy="489.9" r="0.62"/><circle cx="72.9" cy="485.0" r="0.62"/><circle cx="74.4" cy="474.8" r="0.62"/><circle cx="63.1" cy="475.5" r="0.62"/><circle cx="73.1" cy="480.9" r="0.62"/><circle cx="71.3" cy="490.5" r="0.62"/><circle cx="74.9" cy="488.6" r="0.62"/><circle cx="75.7" cy="468.4" r="0.62"/><circle cx="68.7" cy="481.0" r="0.62"/><circle cx="76.3" cy="461.9" r="0.62"/><circle cx="66.6" cy="482.0" r="0.62"/><circle cx="70.9" cy="488.6" r="0.62"/><circle cx="70.6" cy="487.5" r="0.62"/><circle cx="71.2" cy="488.9" r="0.62"/><circle cx="65.8" cy="470.0" r="0.62"/><circle cx="67.0" cy="487.7" r="0.62"/><circle cx="69.2" cy="482.3" r="0.62"/><circle cx="73.5" cy="490.8" r="0.62"/><circle cx="72.5" cy="477.4" r="0.62"/><circle cx="69.7" cy="490.2" r="0.62"/><circle cx="69.0" cy="488.2" r="0.62"/><circle cx="71.7" cy="484.5" r="0.62"/><circle cx="67.2" cy="489.0" r="0.62"/><circle cx="64.1" cy="481.4" r="0.62"/><circle cx="65.5" cy="476.2" r="0.62"/><circle cx="60.5" cy="458.9" r="0.62"/><circle cx="63.0" cy="473.1" r="0.62"/><circle cx="76.9" cy="486.9" r="0.62"/><circle cx="66.5" cy="479.1" r="0.62"/><circle cx="68.6" cy="475.1" r="0.62"/><circle cx="74.4" cy="484.1" r="0.62"/><circle cx="70.7" cy="485.8" r="0.62"/><circle cx="57.2" cy="482.4" r="0.62"/><circle cx="67.5" cy="484.3" r="0.62"/><circle cx="68.9" cy="487.5" r="0.62"/><circle cx="58.7" cy="490.3" r="0.62"/><circle cx="63.1" cy="468.7" r="0.62"/><circle cx="72.1" cy="489.5" r="0.62"/><circle cx="68.1" cy="475.8" r="0.62"/><circle cx="68.6" cy="486.2" r="0.62"/><circle cx="71.0" cy="489.3" r="0.62"/><circle cx="70.8" cy="487.7" r="0.62"/><circle cx="67.1" cy="484.0" r="0.62"/><circle cx="61.3" cy="488.4" r="0.62"/><circle cx="77.3" cy="476.7" r="0.62"/><circle cx="82.5" cy="481.8" r="0.62"/><circle cx="79.2" cy="475.3" r="0.62"/><circle cx="70.9" cy="488.4" r="0.62"/><circle cx="76.1" cy="489.3" r="0.62"/><circle cx="76.9" cy="470.2" r="0.62"/><circle cx="76.9" cy="476.2" r="0.62"/><circle cx="74.4" cy="471.7" r="0.62"/><circle cx="83.4" cy="474.3" r="0.62"/><circle cx="73.8" cy="486.4" r="0.62"/><circle cx="74.8" cy="489.2" r="0.62"/><circle cx="71.9" cy="482.5" r="0.62"/><circle cx="76.6" cy="463.3" r="0.62"/><circle cx="80.4" cy="483.1" r="0.62"/><circle cx="69.6" cy="489.1" r="0.62"/><circle cx="79.2" cy="489.3" r="0.62"/><circle cx="73.4" cy="475.8" r="0.62"/><circle cx="68.8" cy="482.9" r="0.62"/><circle cx="77.3" cy="482.6" r="0.62"/><circle cx="75.2" cy="487.0" r="0.62"/><circle cx="69.4" cy="478.4" r="0.62"/><circle cx="69.5" cy="485.0" r="0.62"/><circle cx="68.9" cy="490.5" r="0.62"/><circle cx="72.7" cy="490.5" r="0.62"/><circle cx="71.9" cy="484.3" r="0.62"/><circle cx="70.4" cy="489.6" r="0.62"/><circle cx="70.7" cy="486.4" r="0.62"/><circle cx="70.0" cy="483.1" r="0.62"/><circle cx="76.5" cy="489.8" r="0.62"/><circle cx="72.0" cy="483.1" r="0.62"/><circle cx="61.7" cy="478.3" r="0.62"/><circle cx="67.8" cy="479.8" r="0.62"/><circle cx="73.4" cy="490.4" r="0.62"/><circle cx="71.0" cy="489.5" r="0.62"/><circle cx="64.8" cy="486.5" r="0.62"/><circle cx="72.1" cy="480.0" r="0.62"/><circle cx="66.1" cy="464.6" r="0.62"/><circle cx="75.2" cy="477.9" r="0.62"/><circle cx="74.7" cy="485.9" r="0.62"/><circle cx="65.5" cy="480.0" r="0.62"/><circle cx="72.2" cy="484.4" r="0.62"/><circle cx="77.7" cy="471.5" r="0.62"/><circle cx="57.4" cy="484.5" r="0.62"/><circle cx="76.4" cy="486.1" r="0.62"/><circle cx="67.6" cy="474.8" r="0.62"/><circle cx="77.5" cy="461.2" r="0.62"/><circle cx="66.8" cy="482.5" r="0.62"/><circle cx="74.1" cy="484.5" r="0.62"/><circle cx="72.4" cy="480.2" r="0.62"/><circle cx="73.8" cy="483.5" r="0.62"/><circle cx="71.6" cy="489.6" r="0.62"/><circle cx="77.9" cy="474.2" r="0.62"/><circle cx="82.6" cy="483.3" r="0.62"/><circle cx="67.2" cy="476.6" r="0.62"/><circle cx="66.4" cy="489.1" r="0.62"/><circle cx="68.7" cy="481.4" r="0.62"/><circle cx="78.8" cy="475.9" r="0.62"/><circle cx="65.7" cy="490.0" r="0.62"/><circle cx="71.9" cy="481.5" r="0.62"/><circle cx="79.4" cy="466.0" r="0.62"/><circle cx="67.7" cy="476.8" r="0.62"/><circle cx="66.0" cy="490.5" r="0.62"/><circle cx="77.7" cy="470.2" r="0.62"/><circle cx="78.4" cy="462.5" r="0.62"/><circle cx="69.7" cy="484.1" r="0.62"/><circle cx="70.9" cy="483.6" r="0.62"/><circle cx="72.2" cy="484.3" r="0.62"/><circle cx="74.5" cy="470.1" r="0.62"/><circle cx="67.3" cy="489.7" r="0.62"/><circle cx="76.9" cy="471.7" r="0.62"/><circle cx="67.6" cy="480.0" r="0.62"/><circle cx="70.3" cy="484.9" r="0.62"/><circle cx="69.5" cy="489.3" r="0.62"/><circle cx="75.0" cy="489.9" r="0.62"/><circle cx="76.4" cy="486.0" r="0.62"/><circle cx="76.3" cy="490.7" r="0.62"/><circle cx="71.9" cy="485.6" r="0.62"/><circle cx="65.0" cy="486.2" r="0.62"/><circle cx="73.5" cy="485.0" r="0.62"/><circle cx="68.8" cy="484.1" r="0.62"/><circle cx="78.8" cy="487.7" r="0.62"/><circle cx="72.4" cy="478.6" r="0.62"/><circle cx="70.0" cy="489.5" r="0.62"/><circle cx="73.1" cy="489.6" r="0.62"/><circle cx="66.9" cy="466.7" r="0.62"/><circle cx="68.6" cy="490.9" r="0.62"/><circle cx="78.0" cy="486.4" r="0.62"/><circle cx="64.8" cy="482.3" r="0.62"/><circle cx="70.4" cy="488.3" r="0.62"/><circle cx="74.7" cy="477.2" r="0.62"/><circle cx="71.9" cy="488.9" r="0.62"/><circle cx="76.0" cy="489.8" r="0.62"/><circle cx="64.7" cy="468.6" r="0.62"/><circle cx="72.3" cy="489.7" r="0.62"/><circle cx="72.9" cy="477.8" r="0.62"/><circle cx="72.6" cy="478.4" r="0.62"/><circle cx="77.3" cy="477.8" r="0.62"/><circle cx="76.0" cy="483.9" r="0.62"/><circle cx="65.1" cy="490.1" r="0.62"/><circle cx="77.0" cy="488.2" r="0.62"/><circle cx="71.1" cy="488.6" r="0.62"/><circle cx="64.5" cy="487.7" r="0.62"/><circle cx="69.1" cy="481.7" r="0.62"/><circle cx="67.9" cy="487.7" r="0.62"/><circle cx="69.2" cy="479.4" r="0.62"/><circle cx="75.9" cy="460.8" r="0.62"/><circle cx="73.6" cy="482.9" r="0.62"/><circle cx="72.5" cy="490.0" r="0.62"/><circle cx="72.3" cy="480.1" r="0.62"/><circle cx="72.0" cy="485.6" r="0.62"/><circle cx="66.1" cy="479.9" r="0.62"/><circle cx="72.3" cy="486.2" r="0.62"/><circle cx="76.5" cy="461.0" r="0.62"/><circle cx="70.4" cy="488.7" r="0.62"/><circle cx="74.1" cy="490.1" r="0.62"/><circle cx="65.4" cy="488.6" r="0.62"/><circle cx="66.1" cy="480.7" r="0.62"/><circle cx="70.5" cy="489.3" r="0.62"/><circle cx="66.0" cy="488.9" r="0.62"/><circle cx="69.9" cy="487.9" r="0.62"/><circle cx="64.4" cy="461.9" r="0.62"/><circle cx="70.0" cy="483.7" r="0.62"/><circle cx="66.1" cy="480.5" r="0.62"/><circle cx="69.9" cy="486.9" r="0.62"/><circle cx="78.3" cy="475.5" r="0.62"/><circle cx="66.9" cy="477.4" r="0.62"/><circle cx="71.4" cy="486.6" r="0.62"/><circle cx="65.4" cy="475.8" r="0.62"/><circle cx="70.8" cy="484.4" r="0.62"/><circle cx="73.3" cy="476.6" r="0.62"/><circle cx="70.8" cy="490.8" r="0.62"/><circle cx="73.9" cy="484.6" r="0.62"/><circle cx="66.1" cy="476.7" r="0.62"/><circle cx="82.1" cy="485.8" r="0.62"/><circle cx="65.1" cy="487.4" r="0.62"/><circle cx="73.7" cy="489.2" r="0.62"/><circle cx="64.9" cy="459.7" r="0.62"/><circle cx="73.4" cy="488.1" r="0.62"/><circle cx="69.2" cy="490.1" r="0.62"/><circle cx="71.7" cy="487.6" r="0.62"/><circle cx="70.2" cy="487.6" r="0.62"/><circle cx="76.6" cy="470.9" r="0.62"/><circle cx="75.8" cy="462.4" r="0.62"/><circle cx="62.4" cy="489.2" r="0.62"/><circle cx="75.6" cy="468.4" r="0.62"/><circle cx="74.0" cy="481.6" r="0.62"/><circle cx="68.5" cy="490.4" r="0.62"/><circle cx="69.4" cy="489.3" r="0.62"/><circle cx="61.0" cy="475.4" r="0.62"/><circle cx="67.1" cy="471.7" r="0.62"/><circle cx="66.9" cy="467.6" r="0.62"/><circle cx="68.9" cy="484.8" r="0.62"/><circle cx="79.0" cy="484.9" r="0.62"/><circle cx="73.7" cy="484.8" r="0.62"/><circle cx="74.1" cy="479.0" r="0.62"/><circle cx="75.3" cy="489.7" r="0.62"/><circle cx="75.9" cy="478.0" r="0.62"/><circle cx="68.6" cy="489.0" r="0.62"/><circle cx="66.1" cy="488.7" r="0.62"/><circle cx="73.4" cy="475.9" r="0.62"/><circle cx="71.6" cy="489.6" r="0.62"/><circle cx="75.7" cy="487.3" r="0.62"/><circle cx="75.2" cy="488.5" r="0.62"/><circle cx="71.3" cy="490.3" r="0.62"/><circle cx="64.3" cy="464.1" r="0.62"/><circle cx="68.7" cy="478.3" r="0.62"/><circle cx="62.4" cy="490.3" r="0.62"/><circle cx="70.3" cy="489.8" r="0.62"/><circle cx="78.1" cy="488.4" r="0.62"/><circle cx="72.1" cy="487.4" r="0.62"/><circle cx="74.4" cy="464.9" r="0.62"/><circle cx="62.8" cy="459.4" r="0.62"/><circle cx="67.8" cy="489.9" r="0.62"/><circle cx="81.8" cy="467.5" r="0.62"/><circle cx="85.5" cy="476.5" r="0.62"/><circle cx="79.3" cy="470.9" r="0.62"/><circle cx="69.7" cy="482.6" r="0.62"/><circle cx="65.1" cy="480.5" r="0.62"/><circle cx="66.2" cy="484.1" r="0.62"/><circle cx="68.4" cy="490.1" r="0.62"/><circle cx="71.1" cy="484.5" r="0.62"/><circle cx="74.5" cy="474.7" r="0.62"/><circle cx="72.8" cy="486.4" r="0.62"/><circle cx="66.4" cy="471.3" r="0.62"/><circle cx="79.3" cy="487.0" r="0.62"/><circle cx="76.1" cy="489.1" r="0.62"/><circle cx="61.7" cy="488.4" r="0.62"/><circle cx="65.7" cy="471.4" r="0.62"/><circle cx="68.9" cy="487.4" r="0.62"/><circle cx="72.5" cy="484.8" r="0.62"/><circle cx="67.8" cy="489.6" r="0.62"/><circle cx="69.5" cy="487.9" r="0.62"/><circle cx="68.7" cy="480.8" r="0.62"/><circle cx="77.5" cy="464.2" r="0.62"/><circle cx="75.2" cy="486.6" r="0.62"/><circle cx="81.8" cy="466.4" r="0.62"/><circle cx="69.8" cy="483.9" r="0.62"/><circle cx="68.4" cy="475.5" r="0.62"/><circle cx="73.3" cy="489.9" r="0.62"/><circle cx="77.4" cy="482.9" r="0.62"/><circle cx="71.9" cy="483.8" r="0.62"/><circle cx="65.6" cy="463.2" r="0.62"/><circle cx="72.0" cy="483.1" r="0.62"/><circle cx="67.0" cy="475.1" r="0.62"/><circle cx="74.2" cy="477.4" r="0.62"/><circle cx="66.8" cy="489.4" r="0.62"/><circle cx="76.6" cy="476.5" r="0.62"/><circle cx="60.9" cy="487.1" r="0.62"/><circle cx="77.6" cy="487.8" r="0.62"/><circle cx="63.1" cy="468.7" r="0.62"/><circle cx="65.3" cy="466.3" r="0.62"/><circle cx="82.6" cy="475.0" r="0.62"/><circle cx="67.4" cy="490.2" r="0.62"/><circle cx="65.6" cy="476.2" r="0.62"/><circle cx="70.9" cy="490.2" r="0.62"/><circle cx="75.5" cy="469.6" r="0.62"/><circle cx="75.0" cy="472.2" r="0.62"/><circle cx="64.6" cy="489.2" r="0.62"/><circle cx="81.8" cy="486.2" r="0.62"/><circle cx="64.0" cy="480.7" r="0.62"/><circle cx="67.3" cy="488.1" r="0.62"/><circle cx="70.0" cy="488.5" r="0.62"/><circle cx="69.9" cy="484.2" r="0.62"/><circle cx="72.7" cy="490.1" r="0.62"/><circle cx="70.8" cy="490.4" r="0.62"/><circle cx="67.3" cy="490.8" r="0.62"/><circle cx="79.4" cy="458.4" r="0.62"/><circle cx="74.4" cy="490.6" r="0.62"/><circle cx="77.1" cy="459.3" r="0.62"/><circle cx="67.8" cy="470.9" r="0.62"/><circle cx="63.0" cy="469.2" r="0.62"/><circle cx="65.1" cy="461.5" r="0.62"/><circle cx="70.6" cy="487.9" r="0.62"/><circle cx="59.2" cy="470.4" r="0.62"/><circle cx="79.1" cy="464.8" r="0.62"/><circle cx="62.1" cy="490.0" r="0.62"/><circle cx="74.4" cy="487.7" r="0.62"/><circle cx="63.9" cy="489.4" r="0.62"/><circle cx="75.7" cy="467.7" r="0.62"/><circle cx="74.9" cy="474.0" r="0.62"/><circle cx="65.5" cy="472.9" r="0.62"/><circle cx="71.5" cy="485.9" r="0.62"/><circle cx="67.8" cy="474.3" r="0.62"/><circle cx="75.2" cy="479.0" r="0.62"/><circle cx="80.4" cy="486.9" r="0.62"/><circle cx="76.7" cy="479.3" r="0.62"/><circle cx="68.1" cy="487.0" r="0.62"/><circle cx="66.6" cy="490.2" r="0.62"/><circle cx="70.4" cy="485.6" r="0.62"/><circle cx="66.3" cy="490.3" r="0.62"/><circle cx="66.0" cy="468.8" r="0.62"/><circle cx="72.4" cy="490.7" r="0.62"/><circle cx="71.8" cy="487.8" r="0.62"/><circle cx="71.7" cy="489.1" r="0.62"/><circle cx="63.2" cy="490.0" r="0.62"/><circle cx="64.7" cy="472.7" r="0.62"/><circle cx="74.2" cy="473.0" r="0.62"/><circle cx="73.5" cy="472.4" r="0.62"/><circle cx="77.5" cy="459.2" r="0.62"/><circle cx="70.3" cy="484.5" r="0.62"/><circle cx="70.6" cy="487.5" r="0.62"/><circle cx="65.9" cy="474.6" r="0.62"/><circle cx="67.4" cy="487.5" r="0.62"/><circle cx="65.3" cy="459.9" r="0.62"/><circle cx="61.2" cy="480.8" r="0.62"/><circle cx="75.3" cy="481.8" r="0.62"/><circle cx="72.7" cy="485.8" r="0.62"/><circle cx="67.9" cy="485.8" r="0.62"/><circle cx="70.9" cy="487.3" r="0.62"/><circle cx="67.0" cy="479.6" r="0.62"/><circle cx="72.7" cy="475.3" r="0.62"/><circle cx="68.3" cy="480.1" r="0.62"/><circle cx="75.4" cy="479.6" r="0.62"/><circle cx="57.7" cy="489.7" r="0.62"/><circle cx="71.6" cy="486.0" r="0.62"/><circle cx="75.7" cy="484.6" r="0.62"/><circle cx="64.6" cy="486.8" r="0.62"/><circle cx="76.5" cy="463.2" r="0.62"/><circle cx="63.3" cy="476.5" r="0.62"/><circle cx="73.8" cy="474.7" r="0.62"/><circle cx="65.7" cy="469.6" r="0.62"/><circle cx="61.5" cy="467.1" r="0.62"/><circle cx="80.3" cy="474.4" r="0.62"/><circle cx="64.2" cy="479.6" r="0.62"/><circle cx="62.3" cy="463.7" r="0.62"/><circle cx="68.8" cy="489.6" r="0.62"/><circle cx="70.7" cy="487.9" r="0.62"/><circle cx="71.0" cy="488.9" r="0.62"/><circle cx="65.4" cy="474.6" r="0.62"/><circle cx="64.4" cy="488.2" r="0.62"/><circle cx="60.0" cy="464.6" r="0.62"/><circle cx="71.4" cy="487.1" r="0.62"/><circle cx="73.1" cy="482.3" r="0.62"/><circle cx="63.8" cy="469.1" r="0.62"/><circle cx="62.7" cy="467.0" r="0.62"/><circle cx="72.4" cy="486.8" r="0.62"/><circle cx="67.4" cy="469.7" r="0.62"/><circle cx="57.8" cy="489.0" r="0.62"/><circle cx="77.9" cy="484.9" r="0.62"/><circle cx="75.4" cy="478.7" r="0.62"/><circle cx="82.6" cy="489.4" r="0.62"/><circle cx="66.4" cy="463.4" r="0.62"/><circle cx="74.5" cy="491.6" r="0.62"/><circle cx="69.9" cy="488.9" r="0.62"/><circle cx="75.4" cy="485.2" r="0.62"/><circle cx="67.7" cy="482.8" r="0.62"/><circle cx="67.6" cy="477.9" r="0.62"/><circle cx="73.1" cy="487.6" r="0.62"/><circle cx="73.5" cy="488.7" r="0.62"/><circle cx="64.1" cy="489.0" r="0.62"/><circle cx="71.9" cy="485.6" r="0.62"/><circle cx="73.0" cy="485.6" r="0.62"/><circle cx="66.1" cy="465.5" r="0.62"/><circle cx="75.5" cy="475.0" r="0.62"/><circle cx="65.8" cy="465.4" r="0.62"/><circle cx="68.9" cy="490.7" r="0.62"/><circle cx="65.1" cy="464.4" r="0.62"/><circle cx="76.6" cy="485.7" r="0.62"/><circle cx="70.2" cy="488.7" r="0.62"/><circle cx="68.4" cy="489.3" r="0.62"/><circle cx="74.8" cy="483.8" r="0.62"/><circle cx="74.7" cy="487.1" r="0.62"/><circle cx="71.1" cy="488.2" r="0.62"/><circle cx="66.5" cy="463.2" r="0.62"/><circle cx="71.7" cy="490.8" r="0.62"/><circle cx="70.3" cy="485.5" r="0.62"/><circle cx="73.5" cy="482.0" r="0.62"/><circle cx="67.4" cy="478.4" r="0.62"/><circle cx="64.1" cy="487.6" r="0.62"/><circle cx="75.3" cy="486.5" r="0.62"/><circle cx="79.7" cy="475.6" r="0.62"/><circle cx="72.1" cy="489.4" r="0.62"/><circle cx="60.0" cy="479.2" r="0.62"/><circle cx="61.8" cy="478.9" r="0.62"/><circle cx="70.5" cy="472.0" r="0.62"/><circle cx="58.9" cy="480.9" r="0.62"/><circle cx="62.4" cy="472.5" r="0.62"/><circle cx="72.1" cy="484.2" r="0.62"/><circle cx="60.4" cy="484.2" r="0.62"/><circle cx="83.3" cy="488.8" r="0.62"/><circle cx="69.1" cy="479.8" r="0.62"/><circle cx="60.1" cy="484.5" r="0.62"/><circle cx="76.0" cy="472.1" r="0.62"/><circle cx="54.4" cy="485.0" r="0.62"/><circle cx="72.6" cy="472.4" r="0.62"/><circle cx="60.2" cy="481.5" r="0.62"/><circle cx="67.6" cy="471.4" r="0.62"/><circle cx="60.7" cy="482.9" r="0.62"/><circle cx="66.6" cy="481.1" r="0.62"/><circle cx="69.6" cy="484.9" r="0.62"/><circle cx="80.3" cy="488.7" r="0.62"/><circle cx="69.4" cy="476.9" r="0.62"/><circle cx="72.4" cy="488.3" r="0.62"/><circle cx="77.2" cy="484.8" r="0.62"/><circle cx="66.5" cy="479.2" r="0.62"/><circle cx="67.1" cy="484.1" r="0.62"/><circle cx="84.4" cy="471.8" r="0.62"/><circle cx="73.7" cy="472.6" r="0.62"/><circle cx="71.6" cy="476.4" r="0.62"/><circle cx="69.7" cy="483.0" r="0.62"/><circle cx="83.4" cy="480.0" r="0.62"/><circle cx="69.1" cy="477.2" r="0.62"/><circle cx="81.6" cy="473.3" r="0.62"/><circle cx="70.4" cy="478.9" r="0.62"/><circle cx="82.2" cy="472.7" r="0.62"/><circle cx="53.3" cy="471.7" r="0.62"/><circle cx="73.0" cy="482.0" r="0.62"/><circle cx="51.5" cy="478.6" r="0.62"/><circle cx="83.7" cy="479.6" r="0.62"/><circle cx="72.9" cy="479.8" r="0.62"/><circle cx="59.0" cy="477.0" r="0.62"/><circle cx="70.2" cy="490.0" r="0.62"/><circle cx="79.4" cy="475.8" r="0.62"/><circle cx="77.2" cy="470.8" r="0.62"/><circle cx="58.0" cy="475.1" r="0.62"/><circle cx="76.9" cy="471.8" r="0.62"/><circle cx="75.6" cy="488.1" r="0.62"/><circle cx="82.1" cy="487.3" r="0.62"/><circle cx="59.9" cy="486.0" r="0.62"/><circle cx="69.3" cy="489.6" r="0.62"/><circle cx="58.1" cy="479.6" r="0.62"/><circle cx="77.3" cy="479.5" r="0.62"/><circle cx="86.9" cy="489.9" r="0.62"/><circle cx="69.8" cy="472.1" r="0.62"/><circle cx="71.6" cy="472.5" r="0.62"/><circle cx="70.7" cy="471.4" r="0.62"/><circle cx="70.2" cy="484.9" r="0.62"/><circle cx="62.1" cy="479.0" r="0.62"/><circle cx="58.7" cy="487.9" r="0.62"/><circle cx="71.2" cy="487.7" r="0.62"/><circle cx="85.1" cy="482.7" r="0.62"/><circle cx="79.0" cy="487.2" r="0.62"/><circle cx="67.1" cy="477.2" r="0.62"/><circle cx="61.7" cy="482.9" r="0.62"/><circle cx="83.4" cy="473.6" r="0.62"/><circle cx="73.3" cy="479.3" r="0.62"/><circle cx="65.9" cy="481.3" r="0.62"/><circle cx="84.7" cy="483.4" r="0.62"/><circle cx="84.4" cy="478.0" r="0.62"/><circle cx="90.9" cy="470.6" r="0.62"/><circle cx="78.8" cy="476.5" r="0.62"/><circle cx="79.7" cy="480.8" r="0.62"/></g>
<line x1="64.0" y1="426.7" x2="64.0" y2="502.3" stroke="#333" stroke-width="0.6" stroke-dasharray="0.7 1.0"/>
<line x1="77.5" y1="426.7" x2="77.5" y2="502.3" stroke="#333" stroke-width="0.6" stroke-dasharray="0.7 1.0"/>
<line x1="32.7" y1="473.3" x2="108.8" y2="473.3" stroke="#333" stroke-width="0.6" stroke-dasharray="0.7 1.0"/>
<rect x="32.7" y="426.7" width="76.10" height="75.60" fill="none" stroke="#333" stroke-width="0.7"/>
<line x1="32.70" y1="426.40" x2="32.70" y2="502.90" stroke="#000" stroke-width="1.4"/>
<line x1="32.20" y1="502.30" x2="109.10" y2="502.30" stroke="#000" stroke-width="1.3"/>
<circle cx="79.4" cy="453.1" r="1.6" fill="#62a335" stroke="#1d3a10" stroke-width="0.5"/>
<circle cx="78.5" cy="456.2" r="1.6" fill="#62a335" stroke="#1d3a10" stroke-width="0.5"/>
<circle cx="77.5" cy="459.4" r="1.6" fill="#62a335" stroke="#1d3a10" stroke-width="0.5"/>
<circle cx="84.2" cy="460.0" r="1.6" fill="#62a335" stroke="#1d3a10" stroke-width="0.5"/>
<circle cx="89.0" cy="461.9" r="1.6" fill="#62a335" stroke="#1d3a10" stroke-width="0.5"/>
<circle cx="79.0" cy="466.2" r="1.6" fill="#62a335" stroke="#1d3a10" stroke-width="0.5"/>
<circle cx="80.8" cy="467.1" r="1.6" fill="#62a335" stroke="#1d3a10" stroke-width="0.5"/>
<circle cx="84.2" cy="464.6" r="1.6" fill="#62a335" stroke="#1d3a10" stroke-width="0.5"/>
<circle cx="78.5" cy="469.6" r="1.6" fill="#62a335" stroke="#1d3a10" stroke-width="0.5"/>
<circle cx="83.8" cy="471.0" r="1.6" fill="#62a335" stroke="#1d3a10" stroke-width="0.5"/>
<circle cx="87.7" cy="469.4" r="1.6" fill="#62a335" stroke="#1d3a10" stroke-width="0.5"/>
<circle cx="91.0" cy="471.5" r="1.6" fill="#62a335" stroke="#1d3a10" stroke-width="0.5"/>
<circle cx="98.1" cy="467.3" r="1.6" fill="#62a335" stroke="#1d3a10" stroke-width="0.5"/>
<circle cx="102.9" cy="470.6" r="1.6" fill="#62a335" stroke="#1d3a10" stroke-width="0.5"/>
<circle cx="84.6" cy="471.9" r="1.6" fill="#62a335" stroke="#1d3a10" stroke-width="0.5"/>
<circle cx="62.5" cy="460.8" r="1.6" fill="#f0b61c" stroke="#6a4a00" stroke-width="0.4"/>
<circle cx="64.0" cy="470.6" r="1.6" fill="#f0b61c" stroke="#6a4a00" stroke-width="0.4"/>
<circle cx="87.5" cy="464.6" r="1.6" fill="#f0b61c" stroke="#6a4a00" stroke-width="0.4"/>
<circle cx="78.1" cy="471.9" r="1.6" fill="#f0b61c" stroke="#6a4a00" stroke-width="0.4"/>
<line x1="30.30" y1="426.70" x2="32.70" y2="426.70" stroke="#000" stroke-width="0.7"/>
<text x="19.00" y="428.20" font-size="4.4">10</text>
<text x="23.90" y="426.20" font-size="2.8">-5</text>
<line x1="30.30" y1="439.20" x2="32.70" y2="439.20" stroke="#000" stroke-width="0.7"/>
<text x="19.00" y="440.70" font-size="4.4">10</text>
<text x="23.90" y="438.70" font-size="2.8">-4</text>
<line x1="30.30" y1="451.70" x2="32.70" y2="451.70" stroke="#000" stroke-width="0.7"/>
<text x="19.00" y="453.20" font-size="4.4">10</text>
<text x="23.90" y="451.20" font-size="2.8">-3</text>
<line x1="30.30" y1="464.20" x2="32.70" y2="464.20" stroke="#000" stroke-width="0.7"/>
<text x="19.00" y="465.70" font-size="4.4">10</text>
<text x="23.90" y="463.70" font-size="2.8">-2</text>
<line x1="30.30" y1="476.70" x2="32.70" y2="476.70" stroke="#000" stroke-width="0.7"/>
<text x="19.00" y="478.20" font-size="4.4">10</text>
<text x="23.90" y="476.20" font-size="2.8">-1</text>
<line x1="30.30" y1="489.20" x2="32.70" y2="489.20" stroke="#000" stroke-width="0.7"/>
<text x="19.00" y="490.70" font-size="4.4">10</text>
<text x="23.90" y="488.70" font-size="2.8">0</text>
<line x1="30.30" y1="502.30" x2="32.70" y2="502.30" stroke="#000" stroke-width="0.7"/>
<text x="19.00" y="503.80" font-size="4.4">10</text>
<text x="23.90" y="501.80" font-size="2.8">1</text>
<line x1="31.20" y1="430.45" x2="32.70" y2="430.45" stroke="#000" stroke-width="0.5"/>
<line x1="31.20" y1="432.70" x2="32.70" y2="432.70" stroke="#000" stroke-width="0.5"/>
<line x1="31.20" y1="434.20" x2="32.70" y2="434.20" stroke="#000" stroke-width="0.5"/>
<line x1="31.20" y1="435.45" x2="32.70" y2="435.45" stroke="#000" stroke-width="0.5"/>
<line x1="31.20" y1="436.45" x2="32.70" y2="436.45" stroke="#000" stroke-width="0.5"/>
<line x1="31.20" y1="437.32" x2="32.70" y2="437.32" stroke="#000" stroke-width="0.5"/>
<line x1="31.20" y1="437.95" x2="32.70" y2="437.95" stroke="#000" stroke-width="0.5"/>
<line x1="31.20" y1="438.57" x2="32.70" y2="438.57" stroke="#000" stroke-width="0.5"/>
<line x1="31.20" y1="442.95" x2="32.70" y2="442.95" stroke="#000" stroke-width="0.5"/>
<line x1="31.20" y1="445.20" x2="32.70" y2="445.20" stroke="#000" stroke-width="0.5"/>
<line x1="31.20" y1="446.70" x2="32.70" y2="446.70" stroke="#000" stroke-width="0.5"/>
<line x1="31.20" y1="447.95" x2="32.70" y2="447.95" stroke="#000" stroke-width="0.5"/>
<line x1="31.20" y1="448.95" x2="32.70" y2="448.95" stroke="#000" stroke-width="0.5"/>
<line x1="31.20" y1="449.82" x2="32.70" y2="449.82" stroke="#000" stroke-width="0.5"/>
<line x1="31.20" y1="450.45" x2="32.70" y2="450.45" stroke="#000" stroke-width="0.5"/>
<line x1="31.20" y1="451.07" x2="32.70" y2="451.07" stroke="#000" stroke-width="0.5"/>
<line x1="31.20" y1="455.45" x2="32.70" y2="455.45" stroke="#000" stroke-width="0.5"/>
<line x1="31.20" y1="457.70" x2="32.70" y2="457.70" stroke="#000" stroke-width="0.5"/>
<line x1="31.20" y1="459.20" x2="32.70" y2="459.20" stroke="#000" stroke-width="0.5"/>
<line x1="31.20" y1="460.45" x2="32.70" y2="460.45" stroke="#000" stroke-width="0.5"/>
<line x1="31.20" y1="461.45" x2="32.70" y2="461.45" stroke="#000" stroke-width="0.5"/>
<line x1="31.20" y1="462.32" x2="32.70" y2="462.32" stroke="#000" stroke-width="0.5"/>
<line x1="31.20" y1="462.95" x2="32.70" y2="462.95" stroke="#000" stroke-width="0.5"/>
<line x1="31.20" y1="463.57" x2="32.70" y2="463.57" stroke="#000" stroke-width="0.5"/>
<line x1="31.20" y1="467.95" x2="32.70" y2="467.95" stroke="#000" stroke-width="0.5"/>
<line x1="31.20" y1="470.20" x2="32.70" y2="470.20" stroke="#000" stroke-width="0.5"/>
<line x1="31.20" y1="471.70" x2="32.70" y2="471.70" stroke="#000" stroke-width="0.5"/>
<line x1="31.20" y1="472.95" x2="32.70" y2="472.95" stroke="#000" stroke-width="0.5"/>
<line x1="31.20" y1="473.95" x2="32.70" y2="473.95" stroke="#000" stroke-width="0.5"/>
<line x1="31.20" y1="474.82" x2="32.70" y2="474.82" stroke="#000" stroke-width="0.5"/>
<line x1="31.20" y1="475.45" x2="32.70" y2="475.45" stroke="#000" stroke-width="0.5"/>
<line x1="31.20" y1="476.07" x2="32.70" y2="476.07" stroke="#000" stroke-width="0.5"/>
<line x1="31.20" y1="480.45" x2="32.70" y2="480.45" stroke="#000" stroke-width="0.5"/>
<line x1="31.20" y1="482.70" x2="32.70" y2="482.70" stroke="#000" stroke-width="0.5"/>
<line x1="31.20" y1="484.20" x2="32.70" y2="484.20" stroke="#000" stroke-width="0.5"/>
<line x1="31.20" y1="485.45" x2="32.70" y2="485.45" stroke="#000" stroke-width="0.5"/>
<line x1="31.20" y1="486.45" x2="32.70" y2="486.45" stroke="#000" stroke-width="0.5"/>
<line x1="31.20" y1="487.32" x2="32.70" y2="487.32" stroke="#000" stroke-width="0.5"/>
<line x1="31.20" y1="487.95" x2="32.70" y2="487.95" stroke="#000" stroke-width="0.5"/>
<line x1="31.20" y1="488.57" x2="32.70" y2="488.57" stroke="#000" stroke-width="0.5"/>
<line x1="31.20" y1="493.13" x2="32.70" y2="493.13" stroke="#000" stroke-width="0.5"/>
<line x1="31.20" y1="495.49" x2="32.70" y2="495.49" stroke="#000" stroke-width="0.5"/>
<line x1="31.20" y1="497.06" x2="32.70" y2="497.06" stroke="#000" stroke-width="0.5"/>
<line x1="31.20" y1="498.37" x2="32.70" y2="498.37" stroke="#000" stroke-width="0.5"/>
<line x1="31.20" y1="499.42" x2="32.70" y2="499.42" stroke="#000" stroke-width="0.5"/>
<line x1="31.20" y1="500.34" x2="32.70" y2="500.34" stroke="#000" stroke-width="0.5"/>
<line x1="31.20" y1="500.99" x2="32.70" y2="500.99" stroke="#000" stroke-width="0.5"/>
<line x1="31.20" y1="501.64" x2="32.70" y2="501.64" stroke="#000" stroke-width="0.5"/>
<text x="15.30" y="470.00" font-size="4.8" fill="#333" textLength="9.00" lengthAdjust="spacingAndGlyphs" transform="rotate(-90 15.30 470.00)">p val</text>
<line x1="45.50" y1="502.30" x2="45.50" y2="504.30" stroke="#000" stroke-width="0.7"/>
<text x="45.50" y="513.20" font-size="5.4" text-anchor="middle" stroke="#222" stroke-width="0.05">−1</text>
<line x1="70.80" y1="502.30" x2="70.80" y2="504.30" stroke="#000" stroke-width="0.7"/>
<text x="70.80" y="513.20" font-size="5.4" text-anchor="middle" stroke="#222" stroke-width="0.05">0</text>
<line x1="95.80" y1="502.30" x2="95.80" y2="504.30" stroke="#000" stroke-width="0.7"/>
<text x="95.80" y="513.20" font-size="5.4" text-anchor="middle" stroke="#222" stroke-width="0.05">1</text>
<text x="71.00" y="523.00" font-size="6.6" text-anchor="middle" stroke="#222" stroke-width="0.05" textLength="60.50" lengthAdjust="spacingAndGlyphs">log2(FC) transcriptome</text>
<text x="70.60" y="532.40" font-size="6.6" text-anchor="middle" stroke="#222" stroke-width="0.05" textLength="48.80" lengthAdjust="spacingAndGlyphs">CX-5461 vs control</text>
<text x="70.80" y="541.30" font-size="6.6" text-anchor="middle" stroke="#222" stroke-width="0.05" textLength="50.00" lengthAdjust="spacingAndGlyphs">48h post treatment</text>
<g shape-rendering="crispEdges" filter="url(#hbl)"><rect x="149.20" y="328.50" width="5.63" height="5.57" fill="#2a2076"/><rect x="154.78" y="328.50" width="5.63" height="5.57" fill="#2a2076"/><rect x="160.36" y="328.50" width="5.63" height="5.57" fill="#6b64b7"/><rect x="165.94" y="328.50" width="5.63" height="5.57" fill="#eea2a3"/><rect x="171.52" y="328.50" width="5.63" height="5.57" fill="#aface7"/><rect x="177.10" y="328.50" width="5.63" height="5.57" fill="#2a2076"/><rect x="182.68" y="328.50" width="5.63" height="5.57" fill="#6b64b7"/><rect x="188.26" y="328.50" width="5.63" height="5.57" fill="#cc1416"/><rect x="193.84" y="328.50" width="5.63" height="5.57" fill="#e57c7d"/><rect x="199.42" y="328.50" width="5.63" height="5.57" fill="#aface7"/><rect x="149.20" y="334.02" width="5.63" height="5.57" fill="#2a2076"/><rect x="154.78" y="334.02" width="5.63" height="5.57" fill="#2a2076"/><rect x="160.36" y="334.02" width="5.63" height="5.57" fill="#2a2076"/><rect x="165.94" y="334.02" width="5.63" height="5.57" fill="#2a2076"/><rect x="171.52" y="334.02" width="5.63" height="5.57" fill="#aface7"/><rect x="177.10" y="334.02" width="5.63" height="5.57" fill="#d4d2f7"/><rect x="182.68" y="334.02" width="5.63" height="5.57" fill="#aface7"/><rect x="188.26" y="334.02" width="5.63" height="5.57" fill="#d4d2f7"/><rect x="193.84" y="334.02" width="5.63" height="5.57" fill="#ffffff"/><rect x="199.42" y="334.02" width="5.63" height="5.57" fill="#cc1416"/><rect x="149.20" y="339.53" width="5.63" height="5.57" fill="#2a2076"/><rect x="154.78" y="339.53" width="5.63" height="5.57" fill="#4a4198"/><rect x="160.36" y="339.53" width="5.63" height="5.57" fill="#2a2076"/><rect x="165.94" y="339.53" width="5.63" height="5.57" fill="#e57c7d"/><rect x="171.52" y="339.53" width="5.63" height="5.57" fill="#ffffff"/><rect x="177.10" y="339.53" width="5.63" height="5.57" fill="#2a2076"/><rect x="182.68" y="339.53" width="5.63" height="5.57" fill="#d4d2f7"/><rect x="188.26" y="339.53" width="5.63" height="5.57" fill="#cc1416"/><rect x="193.84" y="339.53" width="5.63" height="5.57" fill="#e57c7d"/><rect x="199.42" y="339.53" width="5.63" height="5.57" fill="#eea2a3"/><rect x="149.20" y="345.05" width="5.63" height="5.57" fill="#4a4198"/><rect x="154.78" y="345.05" width="5.63" height="5.57" fill="#8c87d1"/><rect x="160.36" y="345.05" width="5.63" height="5.57" fill="#6b64b7"/><rect x="165.94" y="345.05" width="5.63" height="5.57" fill="#2a2076"/><rect x="171.52" y="345.05" width="5.63" height="5.57" fill="#8c87d1"/><rect x="177.10" y="345.05" width="5.63" height="5.57" fill="#d4d2f7"/><rect x="182.68" y="345.05" width="5.63" height="5.57" fill="#f6cbcc"/><rect x="188.26" y="345.05" width="5.63" height="5.57" fill="#6b64b7"/><rect x="193.84" y="345.05" width="5.63" height="5.57" fill="#ffffff"/><rect x="199.42" y="345.05" width="5.63" height="5.57" fill="#cc1416"/><rect x="149.20" y="350.57" width="5.63" height="5.57" fill="#2a2076"/><rect x="154.78" y="350.57" width="5.63" height="5.57" fill="#2a2076"/><rect x="160.36" y="350.57" width="5.63" height="5.57" fill="#6b64b7"/><rect x="165.94" y="350.57" width="5.63" height="5.57" fill="#f6cbcc"/><rect x="171.52" y="350.57" width="5.63" height="5.57" fill="#aface7"/><rect x="177.10" y="350.57" width="5.63" height="5.57" fill="#8c87d1"/><rect x="182.68" y="350.57" width="5.63" height="5.57" fill="#8c87d1"/><rect x="188.26" y="350.57" width="5.63" height="5.57" fill="#cc1416"/><rect x="193.84" y="350.57" width="5.63" height="5.57" fill="#f6cbcc"/><rect x="199.42" y="350.57" width="5.63" height="5.57" fill="#eea2a3"/><rect x="149.20" y="356.09" width="5.63" height="5.57" fill="#2a2076"/><rect x="154.78" y="356.09" width="5.63" height="5.57" fill="#f6cbcc"/><rect x="160.36" y="356.09" width="5.63" height="5.57" fill="#2a2076"/><rect x="165.94" y="356.09" width="5.63" height="5.57" fill="#d4d2f7"/><rect x="171.52" y="356.09" width="5.63" height="5.57" fill="#dd5859"/><rect x="177.10" y="356.09" width="5.63" height="5.57" fill="#d4d2f7"/><rect x="182.68" y="356.09" width="5.63" height="5.57" fill="#e57c7d"/><rect x="188.26" y="356.09" width="5.63" height="5.57" fill="#dd5859"/><rect x="193.84" y="356.09" width="5.63" height="5.57" fill="#cc1416"/><rect x="199.42" y="356.09" width="5.63" height="5.57" fill="#f6cbcc"/><rect x="149.20" y="361.60" width="5.63" height="5.57" fill="#2a2076"/><rect x="154.78" y="361.60" width="5.63" height="5.57" fill="#d4d2f7"/><rect x="160.36" y="361.60" width="5.63" height="5.57" fill="#6b64b7"/><rect x="165.94" y="361.60" width="5.63" height="5.57" fill="#2a2076"/><rect x="171.52" y="361.60" width="5.63" height="5.57" fill="#aface7"/><rect x="177.10" y="361.60" width="5.63" height="5.57" fill="#e4e2fb"/><rect x="182.68" y="361.60" width="5.63" height="5.57" fill="#e57c7d"/><rect x="188.26" y="361.60" width="5.63" height="5.57" fill="#ffffff"/><rect x="193.84" y="361.60" width="5.63" height="5.57" fill="#f6cbcc"/><rect x="199.42" y="361.60" width="5.63" height="5.57" fill="#cc1416"/><rect x="149.20" y="367.12" width="5.63" height="5.57" fill="#bebbee"/><rect x="154.78" y="367.12" width="5.63" height="5.57" fill="#aface7"/><rect x="160.36" y="367.12" width="5.63" height="5.57" fill="#8c87d1"/><rect x="165.94" y="367.12" width="5.63" height="5.57" fill="#2a2076"/><rect x="171.52" y="367.12" width="5.63" height="5.57" fill="#f6cbcc"/><rect x="177.10" y="367.12" width="5.63" height="5.57" fill="#e57c7d"/><rect x="182.68" y="367.12" width="5.63" height="5.57" fill="#eea2a3"/><rect x="188.26" y="367.12" width="5.63" height="5.57" fill="#d4d2f7"/><rect x="193.84" y="367.12" width="5.63" height="5.57" fill="#dd5859"/><rect x="199.42" y="367.12" width="5.63" height="5.57" fill="#cc1416"/><rect x="149.20" y="372.64" width="5.63" height="5.57" fill="#2a2076"/><rect x="154.78" y="372.64" width="5.63" height="5.57" fill="#e4e2fb"/><rect x="160.36" y="372.64" width="5.63" height="5.57" fill="#2a2076"/><rect x="165.94" y="372.64" width="5.63" height="5.57" fill="#8c87d1"/><rect x="171.52" y="372.64" width="5.63" height="5.57" fill="#ffffff"/><rect x="177.10" y="372.64" width="5.63" height="5.57" fill="#d4d2f7"/><rect x="182.68" y="372.64" width="5.63" height="5.57" fill="#dd5859"/><rect x="188.26" y="372.64" width="5.63" height="5.57" fill="#d43537"/><rect x="193.84" y="372.64" width="5.63" height="5.57" fill="#f6cbcc"/><rect x="199.42" y="372.64" width="5.63" height="5.57" fill="#cc1416"/><rect x="149.20" y="378.16" width="5.63" height="5.57" fill="#2a2076"/><rect x="154.78" y="378.16" width="5.63" height="5.57" fill="#8c87d1"/><rect x="160.36" y="378.16" width="5.63" height="5.57" fill="#aface7"/><rect x="165.94" y="378.16" width="5.63" height="5.57" fill="#2a2076"/><rect x="171.52" y="378.16" width="5.63" height="5.57" fill="#d4d2f7"/><rect x="177.10" y="378.16" width="5.63" height="5.57" fill="#8c87d1"/><rect x="182.68" y="378.16" width="5.63" height="5.57" fill="#eea2a3"/><rect x="188.26" y="378.16" width="5.63" height="5.57" fill="#ffffff"/><rect x="193.84" y="378.16" width="5.63" height="5.57" fill="#dd5859"/><rect x="199.42" y="378.16" width="5.63" height="5.57" fill="#cc1416"/><rect x="149.20" y="383.67" width="5.63" height="5.57" fill="#2a2076"/><rect x="154.78" y="383.67" width="5.63" height="5.57" fill="#aface7"/><rect x="160.36" y="383.67" width="5.63" height="5.57" fill="#4a4198"/><rect x="165.94" y="383.67" width="5.63" height="5.57" fill="#2a2076"/><rect x="171.52" y="383.67" width="5.63" height="5.57" fill="#aface7"/><rect x="177.10" y="383.67" width="5.63" height="5.57" fill="#d4d2f7"/><rect x="182.68" y="383.67" width="5.63" height="5.57" fill="#cc1416"/><rect x="188.26" y="383.67" width="5.63" height="5.57" fill="#f1b2b3"/><rect x="193.84" y="383.67" width="5.63" height="5.57" fill="#ffffff"/><rect x="199.42" y="383.67" width="5.63" height="5.57" fill="#cc1416"/><rect x="149.20" y="389.19" width="5.63" height="5.57" fill="#6b64b7"/><rect x="154.78" y="389.19" width="5.63" height="5.57" fill="#e4e2fb"/><rect x="160.36" y="389.19" width="5.63" height="5.57" fill="#8c87d1"/><rect x="165.94" y="389.19" width="5.63" height="5.57" fill="#2a2076"/><rect x="171.52" y="389.19" width="5.63" height="5.57" fill="#aface7"/><rect x="177.10" y="389.19" width="5.63" height="5.57" fill="#e4e2fb"/><rect x="182.68" y="389.19" width="5.63" height="5.57" fill="#e57c7d"/><rect x="188.26" y="389.19" width="5.63" height="5.57" fill="#f6cbcc"/><rect x="193.84" y="389.19" width="5.63" height="5.57" fill="#e57c7d"/><rect x="199.42" y="389.19" width="5.63" height="5.57" fill="#cc1416"/><rect x="149.20" y="394.71" width="5.63" height="5.57" fill="#4a4198"/><rect x="154.78" y="394.71" width="5.63" height="5.57" fill="#bebbee"/><rect x="160.36" y="394.71" width="5.63" height="5.57" fill="#2a2076"/><rect x="165.94" y="394.71" width="5.63" height="5.57" fill="#2a2076"/><rect x="171.52" y="394.71" width="5.63" height="5.57" fill="#ffffff"/><rect x="177.10" y="394.71" width="5.63" height="5.57" fill="#f6cbcc"/><rect x="182.68" y="394.71" width="5.63" height="5.57" fill="#e57c7d"/><rect x="188.26" y="394.71" width="5.63" height="5.57" fill="#eea2a3"/><rect x="193.84" y="394.71" width="5.63" height="5.57" fill="#e57c7d"/><rect x="199.42" y="394.71" width="5.63" height="5.57" fill="#cc1416"/><rect x="149.20" y="400.23" width="5.63" height="5.57" fill="#8c87d1"/><rect x="154.78" y="400.23" width="5.63" height="5.57" fill="#7872c2"/><rect x="160.36" y="400.23" width="5.63" height="5.57" fill="#aface7"/><rect x="165.94" y="400.23" width="5.63" height="5.57" fill="#7872c2"/><rect x="171.52" y="400.23" width="5.63" height="5.57" fill="#2a2076"/><rect x="177.10" y="400.23" width="5.63" height="5.57" fill="#f1b2b3"/><rect x="182.68" y="400.23" width="5.63" height="5.57" fill="#f9ddde"/><rect x="188.26" y="400.23" width="5.63" height="5.57" fill="#eea2a3"/><rect x="193.84" y="400.23" width="5.63" height="5.57" fill="#4a4198"/><rect x="199.42" y="400.23" width="5.63" height="5.57" fill="#cc1416"/><rect x="149.20" y="405.74" width="5.63" height="5.57" fill="#2a2076"/><rect x="154.78" y="405.74" width="5.63" height="5.57" fill="#aface7"/><rect x="160.36" y="405.74" width="5.63" height="5.57" fill="#2a2076"/><rect x="165.94" y="405.74" width="5.63" height="5.57" fill="#2a2076"/><rect x="171.52" y="405.74" width="5.63" height="5.57" fill="#cc1416"/><rect x="177.10" y="405.74" width="5.63" height="5.57" fill="#aface7"/><rect x="182.68" y="405.74" width="5.63" height="5.57" fill="#dd5859"/><rect x="188.26" y="405.74" width="5.63" height="5.57" fill="#6b64b7"/><rect x="193.84" y="405.74" width="5.63" height="5.57" fill="#d43537"/><rect x="199.42" y="405.74" width="5.63" height="5.57" fill="#cc1416"/><rect x="149.20" y="411.26" width="5.63" height="5.57" fill="#4a4198"/><rect x="154.78" y="411.26" width="5.63" height="5.57" fill="#2a2076"/><rect x="160.36" y="411.26" width="5.63" height="5.57" fill="#2a2076"/><rect x="165.94" y="411.26" width="5.63" height="5.57" fill="#bebbee"/><rect x="171.52" y="411.26" width="5.63" height="5.57" fill="#2a2076"/><rect x="177.10" y="411.26" width="5.63" height="5.57" fill="#e57c7d"/><rect x="182.68" y="411.26" width="5.63" height="5.57" fill="#d4d2f7"/><rect x="188.26" y="411.26" width="5.63" height="5.57" fill="#f6cbcc"/><rect x="193.84" y="411.26" width="5.63" height="5.57" fill="#d4d2f7"/><rect x="199.42" y="411.26" width="5.63" height="5.57" fill="#cc1416"/><rect x="149.20" y="416.78" width="5.63" height="5.57" fill="#6b64b7"/><rect x="154.78" y="416.78" width="5.63" height="5.57" fill="#ffffff"/><rect x="160.36" y="416.78" width="5.63" height="5.57" fill="#ffffff"/><rect x="165.94" y="416.78" width="5.63" height="5.57" fill="#2a2076"/><rect x="171.52" y="416.78" width="5.63" height="5.57" fill="#f6cbcc"/><rect x="177.10" y="416.78" width="5.63" height="5.57" fill="#e4e2fb"/><rect x="182.68" y="416.78" width="5.63" height="5.57" fill="#eea2a3"/><rect x="188.26" y="416.78" width="5.63" height="5.57" fill="#aface7"/><rect x="193.84" y="416.78" width="5.63" height="5.57" fill="#eea2a3"/><rect x="199.42" y="416.78" width="5.63" height="5.57" fill="#cc1416"/><rect x="149.20" y="422.30" width="5.63" height="5.57" fill="#2a2076"/><rect x="154.78" y="422.30" width="5.63" height="5.57" fill="#6b64b7"/><rect x="160.36" y="422.30" width="5.63" height="5.57" fill="#2a2076"/><rect x="165.94" y="422.30" width="5.63" height="5.57" fill="#8c87d1"/><rect x="171.52" y="422.30" width="5.63" height="5.57" fill="#cc1416"/><rect x="177.10" y="422.30" width="5.63" height="5.57" fill="#6b64b7"/><rect x="182.68" y="422.30" width="5.63" height="5.57" fill="#fbe7e7"/><rect x="188.26" y="422.30" width="5.63" height="5.57" fill="#f6cbcc"/><rect x="193.84" y="422.30" width="5.63" height="5.57" fill="#cc1416"/><rect x="199.42" y="422.30" width="5.63" height="5.57" fill="#ffffff"/><rect x="149.20" y="427.81" width="5.63" height="5.57" fill="#6b64b7"/><rect x="154.78" y="427.81" width="5.63" height="5.57" fill="#8c87d1"/><rect x="160.36" y="427.81" width="5.63" height="5.57" fill="#8c87d1"/><rect x="165.94" y="427.81" width="5.63" height="5.57" fill="#2a2076"/><rect x="171.52" y="427.81" width="5.63" height="5.57" fill="#aface7"/><rect x="177.10" y="427.81" width="5.63" height="5.57" fill="#ffffff"/><rect x="182.68" y="427.81" width="5.63" height="5.57" fill="#ffffff"/><rect x="188.26" y="427.81" width="5.63" height="5.57" fill="#6b64b7"/><rect x="193.84" y="427.81" width="5.63" height="5.57" fill="#f6cbcc"/><rect x="199.42" y="427.81" width="5.63" height="5.57" fill="#cc1416"/><rect x="149.20" y="433.33" width="5.63" height="5.57" fill="#2a2076"/><rect x="154.78" y="433.33" width="5.63" height="5.57" fill="#f9ddde"/><rect x="160.36" y="433.33" width="5.63" height="5.57" fill="#2a2076"/><rect x="165.94" y="433.33" width="5.63" height="5.57" fill="#2a2076"/><rect x="171.52" y="433.33" width="5.63" height="5.57" fill="#f1b2b3"/><rect x="177.10" y="433.33" width="5.63" height="5.57" fill="#d4d2f7"/><rect x="182.68" y="433.33" width="5.63" height="5.57" fill="#cc1416"/><rect x="188.26" y="433.33" width="5.63" height="5.57" fill="#ffffff"/><rect x="193.84" y="433.33" width="5.63" height="5.57" fill="#eea2a3"/><rect x="199.42" y="433.33" width="5.63" height="5.57" fill="#cc1416"/><rect x="149.20" y="438.85" width="5.63" height="5.57" fill="#d4d2f7"/><rect x="154.78" y="438.85" width="5.63" height="5.57" fill="#dd5859"/><rect x="160.36" y="438.85" width="5.63" height="5.57" fill="#aface7"/><rect x="165.94" y="438.85" width="5.63" height="5.57" fill="#2a2076"/><rect x="171.52" y="438.85" width="5.63" height="5.57" fill="#ffffff"/><rect x="177.10" y="438.85" width="5.63" height="5.57" fill="#ffffff"/><rect x="182.68" y="438.85" width="5.63" height="5.57" fill="#cc1416"/><rect x="188.26" y="438.85" width="5.63" height="5.57" fill="#8c87d1"/><rect x="193.84" y="438.85" width="5.63" height="5.57" fill="#e57c7d"/><rect x="199.42" y="438.85" width="5.63" height="5.57" fill="#cc1416"/><rect x="149.20" y="444.37" width="5.63" height="5.57" fill="#2a2076"/><rect x="154.78" y="444.37" width="5.63" height="5.57" fill="#aface7"/><rect x="160.36" y="444.37" width="5.63" height="5.57" fill="#6b64b7"/><rect x="165.94" y="444.37" width="5.63" height="5.57" fill="#e57c7d"/><rect x="171.52" y="444.37" width="5.63" height="5.57" fill="#f1b2b3"/><rect x="177.10" y="444.37" width="5.63" height="5.57" fill="#6b64b7"/><rect x="182.68" y="444.37" width="5.63" height="5.57" fill="#f6cbcc"/><rect x="188.26" y="444.37" width="5.63" height="5.57" fill="#cc1416"/><rect x="193.84" y="444.37" width="5.63" height="5.57" fill="#dd5859"/><rect x="199.42" y="444.37" width="5.63" height="5.57" fill="#e57c7d"/><rect x="149.20" y="449.88" width="5.63" height="5.57" fill="#2a2076"/><rect x="154.78" y="449.88" width="5.63" height="5.57" fill="#fbe7e7"/><rect x="160.36" y="449.88" width="5.63" height="5.57" fill="#2a2076"/><rect x="165.94" y="449.88" width="5.63" height="5.57" fill="#2a2076"/><rect x="171.52" y="449.88" width="5.63" height="5.57" fill="#e57c7d"/><rect x="177.10" y="449.88" width="5.63" height="5.57" fill="#ffffff"/><rect x="182.68" y="449.88" width="5.63" height="5.57" fill="#e57c7d"/><rect x="188.26" y="449.88" width="5.63" height="5.57" fill="#cc1416"/><rect x="193.84" y="449.88" width="5.63" height="5.57" fill="#dd5859"/><rect x="199.42" y="449.88" width="5.63" height="5.57" fill="#cc1416"/></g>
<text x="207.00" y="332.71" font-size="4.25" fill="#3a3a3a">CPEB4</text>
<text x="207.00" y="338.23" font-size="4.25" fill="#3a3a3a">PPM1D</text>
<text x="207.00" y="343.74" font-size="4.25" fill="#3a3a3a">BTG2</text>
<text x="207.00" y="349.26" font-size="4.25" fill="#3a3a3a">PLK2</text>
<text x="207.00" y="354.78" font-size="4.25" fill="#3a3a3a">E2F7</text>
<text x="207.00" y="360.30" font-size="4.25" fill="#3a3a3a">GADD45A</text>
<text x="207.00" y="365.81" font-size="4.25" fill="#3a3a3a">CDKN1A</text>
<text x="207.00" y="371.33" font-size="4.25" fill="#3a3a3a">TRIM22</text>
<text x="207.00" y="376.85" font-size="4.25" fill="#3a3a3a">RPS27L</text>
<text x="207.00" y="382.37" font-size="4.25" fill="#3a3a3a">XPC</text>
<text x="207.00" y="387.88" font-size="4.25" fill="#3a3a3a">SESN1</text>
<text x="207.00" y="393.40" font-size="4.25" fill="#3a3a3a">APOBEC3H</text>
<text x="207.00" y="398.92" font-size="4.25" fill="#3a3a3a">DDB2</text>
<text x="207.00" y="404.43" font-size="4.25" fill="#3a3a3a">POLH</text>
<text x="207.00" y="409.95" font-size="4.25" fill="#3a3a3a">RRM2B</text>
<text x="207.00" y="415.47" font-size="4.25" fill="#3a3a3a">TIGAR</text>
<text x="207.00" y="420.99" font-size="4.25" fill="#3a3a3a">ZMAT3</text>
<text x="207.00" y="426.50" font-size="4.25" fill="#3a3a3a">ASCC3</text>
<text x="207.00" y="432.02" font-size="4.25" fill="#3a3a3a">TNFRSF10C</text>
<text x="207.00" y="437.54" font-size="4.25" fill="#3a3a3a">MDM2</text>
<text x="207.00" y="443.06" font-size="4.25" fill="#3a3a3a">TNFRSF10D</text>
<text x="207.00" y="448.57" font-size="4.25" fill="#3a3a3a">IER3</text>
<text x="207.00" y="454.09" font-size="4.25" fill="#3a3a3a">FAS</text>
<text x="162.70" y="323.80" font-size="5.0" text-anchor="middle" fill="#444" textLength="18.00" lengthAdjust="spacingAndGlyphs">Control</text>
<text x="191.00" y="323.80" font-size="5.0" text-anchor="middle" fill="#444" textLength="18.50" lengthAdjust="spacingAndGlyphs">CX-5461</text>
<line x1="150.20" y1="326.20" x2="175.20" y2="326.20" stroke="#888" stroke-width="0.9"/>
<line x1="177.70" y1="326.20" x2="204.00" y2="326.20" stroke="#888" stroke-width="0.9"/>
<line x1="145.60" y1="330.20" x2="145.60" y2="372.00" stroke="#666" stroke-width="0.8"/>
<line x1="145.60" y1="379.50" x2="145.60" y2="426.70" stroke="#666" stroke-width="0.8"/>
<line x1="145.60" y1="429.30" x2="145.60" y2="455.00" stroke="#666" stroke-width="0.8"/>
<text x="142.60" y="370.10" font-size="4.5" fill="#333" textLength="33.50" lengthAdjust="spacingAndGlyphs" transform="rotate(-90 142.60 370.10)">Cell cycle arrest</text>
<text x="142.60" y="417.30" font-size="4.5" fill="#333" textLength="27.50" lengthAdjust="spacingAndGlyphs" transform="rotate(-90 142.60 417.30)">DNA damage</text>
<text x="137.50" y="461.00" font-size="4.5" fill="#333" textLength="37.70" lengthAdjust="spacingAndGlyphs" transform="rotate(-90 137.50 461.00)">Negative regulation</text>
<text x="142.60" y="452.50" font-size="4.5" fill="#333" textLength="18.10" lengthAdjust="spacingAndGlyphs" transform="rotate(-90 142.60 452.50)">of cell death</text>
<rect x="150.20" y="460.20" width="51.80" height="3.50" fill="url(#gH)"/>
<text x="144.40" y="470.00" font-size="3.6" fill="#555" textLength="14.40" lengthAdjust="spacingAndGlyphs">row min</text>
<text x="192.50" y="470.00" font-size="3.6" fill="#555" textLength="16.00" lengthAdjust="spacingAndGlyphs">row max</text>
<rect x="266.50" y="320.90" width="6.30" height="3.30" fill="#b0112e"/>
<text x="275.70" y="324.80" font-size="5.4" stroke="#222" stroke-width="0.05" textLength="17.80" lengthAdjust="spacingAndGlyphs">Control</text>
<rect x="303.10" y="320.90" width="5.90" height="3.30" fill="#244b8c"/>
<text x="311.90" y="324.80" font-size="5.2" stroke="#222" stroke-width="0.05" textLength="20.30" lengthAdjust="spacingAndGlyphs">CX-5461</text>
<line x1="255.50" y1="389.10" x2="257.70" y2="389.10" stroke="#111" stroke-width="0.7"/>
<text x="254.10" y="390.80" font-size="4.9" text-anchor="end">0</text>
<line x1="255.50" y1="377.64" x2="257.70" y2="377.64" stroke="#111" stroke-width="0.7"/>
<text x="254.10" y="379.34" font-size="4.9" text-anchor="end">1</text>
<line x1="255.50" y1="366.18" x2="257.70" y2="366.18" stroke="#111" stroke-width="0.7"/>
<text x="254.10" y="367.88" font-size="4.9" text-anchor="end">2</text>
<line x1="255.50" y1="354.72" x2="257.70" y2="354.72" stroke="#111" stroke-width="0.7"/>
<text x="254.10" y="356.42" font-size="4.9" text-anchor="end">3</text>
<line x1="255.50" y1="343.26" x2="257.70" y2="343.26" stroke="#111" stroke-width="0.7"/>
<text x="254.10" y="344.96" font-size="4.9" text-anchor="end">4</text>
<line x1="255.50" y1="331.80" x2="257.70" y2="331.80" stroke="#111" stroke-width="0.7"/>
<text x="254.10" y="333.50" font-size="4.9" text-anchor="end">5</text>
<line x1="260.90" y1="373.86" x2="260.90" y2="368.40" stroke="#bdbdbd" stroke-width="0.75"/>
<rect x="259.90" y="373.86" width="2.00" height="15.24" fill="#b0112e"/>
<line x1="263.90" y1="370.76" x2="263.90" y2="362.50" stroke="#bdbdbd" stroke-width="0.75"/>
<rect x="262.90" y="370.76" width="2.00" height="18.34" fill="#244b8c"/>
<line x1="275.10" y1="361.83" x2="275.10" y2="358.90" stroke="#bdbdbd" stroke-width="0.75"/>
<rect x="274.10" y="361.83" width="2.00" height="27.27" fill="#b0112e"/>
<line x1="277.90" y1="344.98" x2="277.90" y2="343.50" stroke="#bdbdbd" stroke-width="0.75"/>
<rect x="276.90" y="344.98" width="2.00" height="44.12" fill="#244b8c"/>
<line x1="257.70" y1="329.60" x2="257.70" y2="389.50" stroke="#111" stroke-width="1.0"/>
<line x1="254.90" y1="389.10" x2="281.60" y2="389.10" stroke="#222" stroke-width="1.1"/>
<line x1="262.10" y1="389.10" x2="262.10" y2="391.10" stroke="#111" stroke-width="0.7"/>
<line x1="276.30" y1="389.10" x2="276.30" y2="391.10" stroke="#111" stroke-width="0.7"/>
<text x="262.10" y="399.60" font-size="5.6" text-anchor="middle" stroke="#222" stroke-width="0.05" textLength="10.80" lengthAdjust="spacingAndGlyphs">48 h</text>
<text x="276.30" y="399.60" font-size="5.6" text-anchor="middle" stroke="#222" stroke-width="0.05" textLength="10.60" lengthAdjust="spacingAndGlyphs">96 h</text>
<line x1="272.60" y1="337.20" x2="280.40" y2="337.20" stroke="#111" stroke-width="1.0"/>
<text x="276.50" y="336.80" font-size="6.0" text-anchor="middle" fill="#111" stroke="#111" stroke-width="0.05">*</text>
<text x="244.30" y="358.50" font-size="6.6" fill="#222" stroke="#222" stroke-width="0.1" text-anchor="middle" textLength="30.00" lengthAdjust="spacingAndGlyphs" transform="rotate(-90 244.30 358.50)">NRQ <tspan font-style="italic">CPEB4</tspan></text>
<line x1="315.20" y1="388.80" x2="317.40" y2="388.80" stroke="#111" stroke-width="0.7"/>
<text x="313.80" y="390.50" font-size="4.9" text-anchor="end">0.0</text>
<line x1="315.20" y1="377.50" x2="317.40" y2="377.50" stroke="#111" stroke-width="0.7"/>
<text x="313.80" y="379.20" font-size="4.9" text-anchor="end">0.5</text>
<line x1="315.20" y1="366.20" x2="317.40" y2="366.20" stroke="#111" stroke-width="0.7"/>
<text x="313.80" y="367.90" font-size="4.9" text-anchor="end">1.0</text>
<line x1="315.20" y1="354.90" x2="317.40" y2="354.90" stroke="#111" stroke-width="0.7"/>
<text x="313.80" y="356.60" font-size="4.9" text-anchor="end">1.5</text>
<line x1="315.20" y1="343.60" x2="317.40" y2="343.60" stroke="#111" stroke-width="0.7"/>
<text x="313.80" y="345.30" font-size="4.9" text-anchor="end">2.0</text>
<line x1="315.20" y1="332.30" x2="317.40" y2="332.30" stroke="#111" stroke-width="0.7"/>
<text x="313.80" y="334.00" font-size="4.9" text-anchor="end">2.5</text>
<line x1="319.95" y1="367.10" x2="319.95" y2="363.10" stroke="#bdbdbd" stroke-width="0.75"/>
<rect x="318.90" y="367.10" width="2.10" height="21.70" fill="#b0112e"/>
<line x1="323.15" y1="354.45" x2="323.15" y2="345.60" stroke="#bdbdbd" stroke-width="0.75"/>
<rect x="322.10" y="354.45" width="2.10" height="34.35" fill="#244b8c"/>
<line x1="334.05" y1="367.10" x2="334.05" y2="358.00" stroke="#bdbdbd" stroke-width="0.75"/>
<rect x="333.00" y="367.10" width="2.10" height="21.70" fill="#b0112e"/>
<line x1="337.45" y1="344.05" x2="337.45" y2="339.10" stroke="#bdbdbd" stroke-width="0.75"/>
<rect x="336.40" y="344.05" width="2.10" height="44.75" fill="#244b8c"/>
<line x1="317.40" y1="329.60" x2="317.40" y2="389.20" stroke="#111" stroke-width="1.0"/>
<line x1="314.60" y1="388.80" x2="341.40" y2="388.80" stroke="#222" stroke-width="1.1"/>
<line x1="321.40" y1="388.80" x2="321.40" y2="390.80" stroke="#111" stroke-width="0.7"/>
<line x1="335.50" y1="388.80" x2="335.50" y2="390.80" stroke="#111" stroke-width="0.7"/>
<text x="321.40" y="399.60" font-size="5.6" text-anchor="middle" stroke="#222" stroke-width="0.05" textLength="10.80" lengthAdjust="spacingAndGlyphs">48 h</text>
<text x="335.50" y="399.60" font-size="5.6" text-anchor="middle" stroke="#222" stroke-width="0.05" textLength="10.60" lengthAdjust="spacingAndGlyphs">96 h</text>
<text x="299.00" y="358.80" font-size="6.6" fill="#222" stroke="#222" stroke-width="0.1" text-anchor="middle" textLength="30.60" lengthAdjust="spacingAndGlyphs" transform="rotate(-90 299.00 358.80)">NRQ <tspan font-style="italic">MDM2</tspan></text>
<line x1="255.50" y1="470.20" x2="257.70" y2="470.20" stroke="#111" stroke-width="0.7"/>
<text x="254.10" y="471.90" font-size="4.9" text-anchor="end">0</text>
<line x1="255.50" y1="456.04" x2="257.70" y2="456.04" stroke="#111" stroke-width="0.7"/>
<text x="254.10" y="457.74" font-size="4.9" text-anchor="end">2</text>
<line x1="255.50" y1="441.88" x2="257.70" y2="441.88" stroke="#111" stroke-width="0.7"/>
<text x="254.10" y="443.58" font-size="4.9" text-anchor="end">4</text>
<line x1="255.50" y1="427.72" x2="257.70" y2="427.72" stroke="#111" stroke-width="0.7"/>
<text x="254.10" y="429.42" font-size="4.9" text-anchor="end">6</text>
<line x1="255.50" y1="413.56" x2="257.70" y2="413.56" stroke="#111" stroke-width="0.7"/>
<text x="254.10" y="415.26" font-size="4.9" text-anchor="end">8</text>
<line x1="260.90" y1="464.32" x2="260.90" y2="463.20" stroke="#bdbdbd" stroke-width="0.75"/>
<rect x="259.90" y="464.32" width="2.00" height="5.88" fill="#b0112e"/>
<line x1="263.90" y1="445.63" x2="263.90" y2="442.40" stroke="#bdbdbd" stroke-width="0.75"/>
<rect x="262.90" y="445.63" width="2.00" height="24.57" fill="#244b8c"/>
<line x1="275.10" y1="463.62" x2="275.10" y2="460.00" stroke="#bdbdbd" stroke-width="0.75"/>
<rect x="274.10" y="463.62" width="2.00" height="6.58" fill="#b0112e"/>
<line x1="277.90" y1="430.69" x2="277.90" y2="424.60" stroke="#bdbdbd" stroke-width="0.75"/>
<rect x="276.90" y="430.69" width="2.00" height="39.51" fill="#244b8c"/>
<line x1="257.70" y1="410.50" x2="257.70" y2="470.60" stroke="#111" stroke-width="1.0"/>
<line x1="254.90" y1="470.20" x2="281.60" y2="470.20" stroke="#222" stroke-width="1.1"/>
<line x1="262.10" y1="470.20" x2="262.10" y2="472.20" stroke="#111" stroke-width="0.7"/>
<line x1="276.30" y1="470.20" x2="276.30" y2="472.20" stroke="#111" stroke-width="0.7"/>
<text x="262.10" y="480.70" font-size="5.6" text-anchor="middle" stroke="#222" stroke-width="0.05" textLength="10.80" lengthAdjust="spacingAndGlyphs">48 h</text>
<text x="276.30" y="480.70" font-size="5.6" text-anchor="middle" stroke="#222" stroke-width="0.05" textLength="10.60" lengthAdjust="spacingAndGlyphs">96 h</text>
<line x1="259.60" y1="427.80" x2="266.50" y2="427.80" stroke="#111" stroke-width="1.0"/>
<text x="263.05" y="427.40" font-size="6.0" text-anchor="middle" fill="#111" stroke="#111" stroke-width="0.05">*</text>
<line x1="273.10" y1="414.30" x2="280.10" y2="414.30" stroke="#111" stroke-width="1.0"/>
<text x="276.60" y="413.90" font-size="6.0" text-anchor="middle" fill="#111" stroke="#111" stroke-width="0.05">*</text>
<text x="244.10" y="439.50" font-size="6.6" fill="#222" stroke="#222" stroke-width="0.1" text-anchor="middle" textLength="25.00" lengthAdjust="spacingAndGlyphs" transform="rotate(-90 244.10 439.50)">NRQ <tspan font-style="italic">p21</tspan></text>
<line x1="315.20" y1="470.00" x2="317.40" y2="470.00" stroke="#111" stroke-width="0.7"/>
<text x="313.80" y="471.70" font-size="4.9" text-anchor="end">0.0</text>
<line x1="315.20" y1="455.80" x2="317.40" y2="455.80" stroke="#111" stroke-width="0.7"/>
<text x="313.80" y="457.50" font-size="4.9" text-anchor="end">0.5</text>
<line x1="315.20" y1="441.60" x2="317.40" y2="441.60" stroke="#111" stroke-width="0.7"/>
<text x="313.80" y="443.30" font-size="4.9" text-anchor="end">1.0</text>
<line x1="315.20" y1="427.40" x2="317.40" y2="427.40" stroke="#111" stroke-width="0.7"/>
<text x="313.80" y="429.10" font-size="4.9" text-anchor="end">1.5</text>
<line x1="315.20" y1="413.20" x2="317.40" y2="413.20" stroke="#111" stroke-width="0.7"/>
<text x="313.80" y="414.90" font-size="4.9" text-anchor="end">2.0</text>
<line x1="319.95" y1="442.74" x2="319.95" y2="442.30" stroke="#bdbdbd" stroke-width="0.75"/>
<rect x="318.90" y="442.74" width="2.10" height="27.26" fill="#b0112e"/>
<line x1="323.15" y1="430.81" x2="323.15" y2="426.30" stroke="#bdbdbd" stroke-width="0.75"/>
<rect x="322.10" y="430.81" width="2.10" height="39.19" fill="#244b8c"/>
<line x1="334.05" y1="435.64" x2="334.05" y2="424.80" stroke="#bdbdbd" stroke-width="0.75"/>
<rect x="333.00" y="435.64" width="2.10" height="34.36" fill="#b0112e"/>
<line x1="337.45" y1="435.92" x2="337.45" y2="432.80" stroke="#bdbdbd" stroke-width="0.75"/>
<rect x="336.40" y="435.92" width="2.10" height="34.08" fill="#244b8c"/>
<line x1="317.40" y1="410.50" x2="317.40" y2="470.40" stroke="#111" stroke-width="1.0"/>
<line x1="314.60" y1="470.00" x2="341.40" y2="470.00" stroke="#222" stroke-width="1.1"/>
<line x1="321.40" y1="470.00" x2="321.40" y2="472.00" stroke="#111" stroke-width="0.7"/>
<line x1="335.50" y1="470.00" x2="335.50" y2="472.00" stroke="#111" stroke-width="0.7"/>
<text x="321.40" y="480.70" font-size="5.6" text-anchor="middle" stroke="#222" stroke-width="0.05" textLength="10.80" lengthAdjust="spacingAndGlyphs">48 h</text>
<text x="335.50" y="480.70" font-size="5.6" text-anchor="middle" stroke="#222" stroke-width="0.05" textLength="10.60" lengthAdjust="spacingAndGlyphs">96 h</text>
<text x="298.60" y="440.50" font-size="6.6" fill="#222" stroke="#222" stroke-width="0.1" text-anchor="middle" textLength="38.60" lengthAdjust="spacingAndGlyphs" transform="rotate(-90 298.60 440.50)">NRQ <tspan font-style="italic">GADD45A</tspan></text>
<line x1="256.20" y1="563.40" x2="258.40" y2="563.40" stroke="#111" stroke-width="0.7"/>
<text x="254.80" y="565.10" font-size="4.9" text-anchor="end">0</text>
<line x1="256.20" y1="549.10" x2="258.40" y2="549.10" stroke="#111" stroke-width="0.7"/>
<text x="254.80" y="550.80" font-size="4.9" text-anchor="end">1</text>
<line x1="256.20" y1="534.80" x2="258.40" y2="534.80" stroke="#111" stroke-width="0.7"/>
<text x="254.80" y="536.50" font-size="4.9" text-anchor="end">2</text>
<line x1="256.20" y1="520.50" x2="258.40" y2="520.50" stroke="#111" stroke-width="0.7"/>
<text x="254.80" y="522.20" font-size="4.9" text-anchor="end">3</text>
<line x1="256.20" y1="506.20" x2="258.40" y2="506.20" stroke="#111" stroke-width="0.7"/>
<text x="254.80" y="507.90" font-size="4.9" text-anchor="end">4</text>
<line x1="260.75" y1="553.96" x2="260.75" y2="552.00" stroke="#bdbdbd" stroke-width="0.75"/>
<rect x="259.70" y="553.96" width="2.10" height="9.44" fill="#b0112e"/>
<line x1="263.85" y1="519.64" x2="263.85" y2="513.10" stroke="#bdbdbd" stroke-width="0.75"/>
<rect x="262.80" y="519.64" width="2.10" height="43.76" fill="#244b8c"/>
<line x1="275.00" y1="553.39" x2="275.00" y2="549.20" stroke="#bdbdbd" stroke-width="0.75"/>
<rect x="274.00" y="553.39" width="2.00" height="10.01" fill="#b0112e"/>
<line x1="277.90" y1="511.06" x2="277.90" y2="509.50" stroke="#bdbdbd" stroke-width="0.75"/>
<rect x="276.90" y="511.06" width="2.00" height="52.34" fill="#244b8c"/>
<line x1="258.40" y1="503.80" x2="258.40" y2="563.80" stroke="#111" stroke-width="1.0"/>
<line x1="255.60" y1="563.40" x2="281.60" y2="563.40" stroke="#222" stroke-width="1.1"/>
<line x1="262.40" y1="563.40" x2="262.40" y2="565.40" stroke="#111" stroke-width="0.7"/>
<line x1="276.50" y1="563.40" x2="276.50" y2="565.40" stroke="#111" stroke-width="0.7"/>
<text x="262.40" y="573.40" font-size="5.6" text-anchor="middle" stroke="#222" stroke-width="0.05" textLength="10.80" lengthAdjust="spacingAndGlyphs">48 h</text>
<text x="276.50" y="573.40" font-size="5.6" text-anchor="middle" stroke="#222" stroke-width="0.05" textLength="10.60" lengthAdjust="spacingAndGlyphs">96 h</text>
<line x1="258.40" y1="500.00" x2="265.80" y2="500.00" stroke="#111" stroke-width="1.0"/>
<text x="262.10" y="499.60" font-size="6.0" text-anchor="middle" fill="#111" stroke="#111" stroke-width="0.05">*</text>
<line x1="274.30" y1="495.10" x2="280.20" y2="495.10" stroke="#111" stroke-width="1.0"/>
<text x="277.25" y="494.70" font-size="6.0" text-anchor="middle" fill="#111" stroke="#111" stroke-width="0.05">**</text>
<text x="244.50" y="533.20" font-size="6.6" fill="#222" stroke="#222" stroke-width="0.1" text-anchor="middle" textLength="26.00" lengthAdjust="spacingAndGlyphs" transform="rotate(-90 244.50 533.20)">NRQ <tspan font-style="italic">PLK2</tspan></text>
<line x1="314.70" y1="563.00" x2="316.90" y2="563.00" stroke="#111" stroke-width="0.7"/>
<text x="313.30" y="564.70" font-size="4.9" text-anchor="end">0</text>
<line x1="314.70" y1="548.50" x2="316.90" y2="548.50" stroke="#111" stroke-width="0.7"/>
<text x="313.30" y="550.20" font-size="4.9" text-anchor="end">1</text>
<line x1="314.70" y1="534.00" x2="316.90" y2="534.00" stroke="#111" stroke-width="0.7"/>
<text x="313.30" y="535.70" font-size="4.9" text-anchor="end">2</text>
<line x1="314.70" y1="519.50" x2="316.90" y2="519.50" stroke="#111" stroke-width="0.7"/>
<text x="313.30" y="521.20" font-size="4.9" text-anchor="end">3</text>
<line x1="314.70" y1="505.00" x2="316.90" y2="505.00" stroke="#111" stroke-width="0.7"/>
<text x="313.30" y="506.70" font-size="4.9" text-anchor="end">4</text>
<line x1="320.00" y1="553.87" x2="320.00" y2="550.60" stroke="#bdbdbd" stroke-width="0.75"/>
<rect x="319.00" y="553.87" width="2.00" height="9.13" fill="#b0112e"/>
<line x1="323.25" y1="542.85" x2="323.25" y2="537.60" stroke="#bdbdbd" stroke-width="0.75"/>
<rect x="322.20" y="542.85" width="2.10" height="20.15" fill="#244b8c"/>
<line x1="334.35" y1="540.82" x2="334.35" y2="535.30" stroke="#bdbdbd" stroke-width="0.75"/>
<rect x="333.30" y="540.82" width="2.10" height="22.18" fill="#b0112e"/>
<line x1="337.55" y1="519.50" x2="337.55" y2="510.30" stroke="#bdbdbd" stroke-width="0.75"/>
<rect x="336.50" y="519.50" width="2.10" height="43.50" fill="#244b8c"/>
<line x1="316.90" y1="502.10" x2="316.90" y2="563.40" stroke="#111" stroke-width="1.0"/>
<line x1="314.10" y1="563.00" x2="341.90" y2="563.00" stroke="#222" stroke-width="1.1"/>
<line x1="321.30" y1="563.00" x2="321.30" y2="565.00" stroke="#111" stroke-width="0.7"/>
<line x1="335.70" y1="563.00" x2="335.70" y2="565.00" stroke="#111" stroke-width="0.7"/>
<text x="321.30" y="573.40" font-size="5.6" text-anchor="middle" stroke="#222" stroke-width="0.05" textLength="10.80" lengthAdjust="spacingAndGlyphs">48 h</text>
<text x="335.70" y="573.40" font-size="5.6" text-anchor="middle" stroke="#222" stroke-width="0.05" textLength="10.60" lengthAdjust="spacingAndGlyphs">96 h</text>
<line x1="319.00" y1="529.10" x2="325.60" y2="529.10" stroke="#111" stroke-width="1.0"/>
<text x="322.30" y="528.70" font-size="6.0" text-anchor="middle" fill="#111" stroke="#111" stroke-width="0.05">*</text>
<line x1="332.10" y1="506.20" x2="339.80" y2="506.20" stroke="#111" stroke-width="1.0"/>
<text x="335.95" y="505.80" font-size="6.0" text-anchor="middle" fill="#111" stroke="#111" stroke-width="0.05">*</text>
<text x="303.00" y="532.80" font-size="6.6" fill="#222" stroke="#222" stroke-width="0.1" text-anchor="middle" textLength="25.30" lengthAdjust="spacingAndGlyphs" transform="rotate(-90 303.00 532.80)">NRQ <tspan font-style="italic">BTG2</tspan></text>
<text x="424.40" y="317.90" font-size="4.5" text-anchor="middle">2 kb</text>
<line x1="413.40" y1="320.40" x2="435.60" y2="320.40" stroke="#777" stroke-width="0.6"/>
<text x="349.20" y="328.00" font-size="4.35" textLength="20.40" lengthAdjust="spacingAndGlyphs">hg19 chr1:</text>
<text x="385.90" y="328.00" font-size="4.35" text-anchor="middle" textLength="24.10" lengthAdjust="spacingAndGlyphs">203,273,000</text>
<text x="429.30" y="328.00" font-size="4.35" text-anchor="middle" textLength="24.10" lengthAdjust="spacingAndGlyphs">203,277,000</text>
<text x="472.80" y="328.00" font-size="4.35" text-anchor="middle" textLength="24.10" lengthAdjust="spacingAndGlyphs">203,281,000</text>
<rect x="384.85" y="331.25" width="0.70" height="0.90" fill="#333"/>
<rect x="429.05" y="331.25" width="0.70" height="0.90" fill="#333"/>
<rect x="472.85" y="331.25" width="0.70" height="0.90" fill="#333"/>
<text x="369.60" y="335.35" font-size="4.4" text-anchor="end">100</text>
<line x1="372.40" y1="333.80" x2="374.40" y2="333.80" stroke="#444" stroke-width="0.5"/>
<text x="369.60" y="342.15" font-size="4.4" text-anchor="end">100</text>
<line x1="372.40" y1="340.60" x2="374.40" y2="340.60" stroke="#444" stroke-width="0.5"/>
<text x="369.60" y="348.95" font-size="4.4" text-anchor="end">500</text>
<line x1="372.40" y1="347.40" x2="374.40" y2="347.40" stroke="#444" stroke-width="0.5"/>
<text x="369.60" y="355.75" font-size="4.4" text-anchor="end">200</text>
<line x1="372.40" y1="354.20" x2="374.40" y2="354.20" stroke="#444" stroke-width="0.5"/>
<text x="369.60" y="362.75" font-size="4.4" text-anchor="end">200</text>
<line x1="372.40" y1="361.20" x2="374.40" y2="361.20" stroke="#444" stroke-width="0.5"/>
<text x="369.60" y="369.55" font-size="4.4" text-anchor="end">200</text>
<line x1="372.40" y1="368.00" x2="374.40" y2="368.00" stroke="#444" stroke-width="0.5"/>
<text x="369.60" y="376.45" font-size="4.4" text-anchor="end">1000</text>
<line x1="372.40" y1="374.90" x2="374.40" y2="374.90" stroke="#444" stroke-width="0.5"/>
<line x1="374.40" y1="333.80" x2="374.40" y2="380.70" stroke="#555" stroke-width="0.7"/>
<path d="M374.40 339.80 L374.40 339.05 L374.75 339.02 L375.10 338.97 L375.45 338.97 L375.80 338.95 L376.15 339.10 L376.50 339.14 L376.85 339.14 L377.20 339.04 L377.55 338.97 L377.90 339.10 L378.25 339.13 L378.60 339.20 L378.95 339.17 L379.30 339.15 L379.65 339.19 L380.00 339.20 L380.35 339.20 L380.70 339.14 L381.05 339.05 L381.40 339.06 L381.75 338.98 L382.10 338.75 L382.45 338.22 L382.80 338.13 L383.15 338.54 L383.50 338.98 L383.85 339.15 L384.20 339.16 L384.55 339.14 L384.90 339.04 L385.25 339.02 L385.60 339.03 L385.95 339.08 L386.30 339.02 L386.65 339.14 L387.00 339.08 L387.35 339.07 L387.70 338.95 L388.05 338.96 L388.40 339.02 L388.75 339.12 L389.10 339.20 L389.45 339.20 L389.80 339.20 L390.15 339.20 L390.50 339.20 L390.85 339.20 L391.20 339.16 L391.55 339.20 L391.90 339.16 L392.25 339.13 L392.60 339.11 L392.95 339.11 L393.30 339.16 L393.65 339.13 L394.00 339.17 L394.35 339.09 L394.70 339.20 L395.05 339.09 L395.40 339.11 L395.75 339.11 L396.10 339.10 L396.45 339.18 L396.80 339.09 L397.15 339.20 L397.50 339.20 L397.85 339.20 L398.20 339.18 L398.55 339.15 L398.90 339.06 L399.25 339.07 L399.60 338.95 L399.95 339.01 L400.30 339.11 L400.65 339.17 L401.00 339.10 L401.35 339.14 L401.70 339.10 L402.05 339.09 L402.40 338.89 L402.75 338.77 L403.10 338.29 L403.45 337.93 L403.80 337.80 L404.15 338.19 L404.50 338.57 L404.85 338.90 L405.20 338.98 L405.55 339.07 L405.90 339.08 L406.25 339.18 L406.60 339.20 L406.95 339.20 L407.30 339.20 L407.65 339.20 L408.00 339.07 L408.35 339.07 L408.70 339.17 L409.05 339.18 L409.40 339.12 L409.75 339.06 L410.10 339.18 L410.45 339.17 L410.80 339.10 L411.15 339.07 L411.50 339.10 L411.85 339.20 L412.20 339.12 L412.55 339.09 L412.90 338.76 L413.25 338.36 L413.60 338.17 L413.95 338.31 L414.30 338.69 L414.65 338.81 L415.00 338.55 L415.35 337.65 L415.70 335.82 L416.05 334.62 L416.40 335.32 L416.75 337.18 L417.10 338.48 L417.45 338.96 L417.80 338.98 L418.15 338.91 L418.50 339.00 L418.85 339.06 L419.20 339.10 L419.55 339.10 L419.90 339.13 L420.25 339.18 L420.60 339.20 L420.95 339.20 L421.30 339.13 L421.65 339.00 L422.00 338.96 L422.35 339.03 L422.70 339.13 L423.05 339.20 L423.40 339.20 L423.75 339.19 L424.10 339.06 L424.45 339.05 L424.80 339.05 L425.15 339.06 L425.50 339.01 L425.85 339.03 L426.20 339.03 L426.55 339.08 L426.90 339.08 L427.25 339.15 L427.60 339.13 L427.95 339.12 L428.30 339.06 L428.65 339.09 L429.00 339.06 L429.35 339.07 L429.70 339.02 L430.05 339.17 L430.40 339.19 L430.75 339.20 L431.10 339.13 L431.45 339.15 L431.80 339.06 L432.15 339.06 L432.50 339.01 L432.85 339.08 L433.20 339.08 L433.55 339.09 L433.90 339.01 L434.25 339.06 L434.60 339.04 L434.95 339.04 L435.30 338.98 L435.65 338.96 L436.00 338.95 L436.35 338.98 L436.70 339.05 L437.05 339.17 L437.40 339.12 L437.75 339.06 L438.10 339.01 L438.45 339.03 L438.80 339.07 L439.15 339.03 L439.50 339.11 L439.85 339.10 L440.20 339.12 L440.55 339.04 L440.90 339.10 L441.25 339.09 L441.60 339.08 L441.95 339.04 L442.30 339.03 L442.65 339.15 L443.00 339.19 L443.35 339.11 L443.70 338.77 L444.05 338.56 L444.40 338.82 L444.75 339.07 L445.10 339.15 L445.45 339.18 L445.80 339.20 L446.15 339.20 L446.50 339.20 L446.85 339.20 L447.20 339.20 L447.55 339.20 L447.90 339.20 L448.25 339.20 L448.60 339.20 L448.95 339.13 L449.30 339.11 L449.65 339.14 L450.00 339.09 L450.35 339.19 L450.70 339.16 L451.05 339.20 L451.40 339.19 L451.75 339.20 L452.10 339.15 L452.45 339.16 L452.80 339.17 L453.15 339.20 L453.50 339.20 L453.85 339.17 L454.20 339.20 L454.55 339.13 L454.90 339.07 L455.25 338.99 L455.60 339.01 L455.95 338.99 L456.30 338.77 L456.65 338.48 L457.00 338.78 L457.35 339.10 L457.70 339.15 L458.05 339.03 L458.40 338.97 L458.75 338.96 L459.10 339.06 L459.45 339.07 L459.80 339.17 L460.15 339.20 L460.50 339.20 L460.85 339.16 L461.20 339.16 L461.55 339.15 L461.90 339.10 L462.25 339.06 L462.60 339.10 L462.95 339.20 L463.30 339.20 L463.65 339.13 L464.00 339.11 L464.35 339.00 L464.70 339.01 L465.05 338.97 L465.40 339.08 L465.75 339.07 L466.10 339.09 L466.45 339.07 L466.80 339.17 L467.15 339.09 L467.50 339.08 L467.85 339.09 L468.20 339.17 L468.55 339.20 L468.90 339.17 L469.25 339.18 L469.60 339.15 L469.95 339.13 L470.30 339.06 L470.65 339.11 L471.00 339.15 L471.35 339.20 L471.70 339.09 L472.05 339.05 L472.40 339.05 L472.75 339.16 L473.10 339.20 L473.45 339.14 L473.80 339.03 L473.80 339.80 Z" fill="#d9308a" opacity="1.0"/>
<path d="M374.40 346.70 L374.40 346.08 L374.75 346.05 L375.10 345.99 L375.45 345.99 L375.80 345.95 L376.15 346.03 L376.50 346.01 L376.85 346.08 L377.20 346.01 L377.55 346.08 L377.90 346.08 L378.25 346.08 L378.60 346.06 L378.95 346.05 L379.30 346.02 L379.65 346.00 L380.00 346.05 L380.35 346.10 L380.70 346.10 L381.05 345.98 L381.40 345.76 L381.75 345.37 L382.10 344.83 L382.45 344.09 L382.80 343.92 L383.15 344.45 L383.50 345.20 L383.85 345.70 L384.20 345.92 L384.55 345.93 L384.90 345.98 L385.25 346.00 L385.60 346.01 L385.95 346.04 L386.30 346.05 L386.65 346.06 L387.00 346.08 L387.35 345.99 L387.70 346.01 L388.05 345.95 L388.40 346.04 L388.75 346.03 L389.10 345.95 L389.45 345.97 L389.80 346.02 L390.15 346.08 L390.50 346.02 L390.85 346.05 L391.20 346.10 L391.55 346.10 L391.90 346.02 L392.25 346.03 L392.60 346.09 L392.95 346.09 L393.30 345.97 L393.65 345.90 L394.00 346.03 L394.35 346.04 L394.70 345.99 L395.05 345.84 L395.40 345.84 L395.75 345.99 L396.10 346.01 L396.45 346.09 L396.80 345.99 L397.15 345.98 L397.50 345.90 L397.85 345.98 L398.20 346.09 L398.55 346.05 L398.90 346.05 L399.25 346.00 L399.60 346.08 L399.95 346.08 L400.30 346.08 L400.65 346.10 L401.00 346.10 L401.35 346.10 L401.70 346.10 L402.05 346.08 L402.40 345.97 L402.75 345.49 L403.10 344.73 L403.45 344.45 L403.80 345.00 L404.15 345.71 L404.50 345.97 L404.85 346.03 L405.20 345.94 L405.55 345.98 L405.90 346.05 L406.25 346.09 L406.60 346.10 L406.95 346.03 L407.30 346.06 L407.65 345.94 L408.00 345.95 L408.35 345.93 L408.70 346.04 L409.05 346.04 L409.40 346.10 L409.75 346.02 L410.10 346.02 L410.45 346.04 L410.80 346.10 L411.15 346.10 L411.50 346.05 L411.85 346.06 L412.20 345.99 L412.55 345.89 L412.90 345.55 L413.25 345.04 L413.60 344.93 L413.95 345.37 L414.30 345.78 L414.65 345.63 L415.00 344.63 L415.35 342.98 L415.70 341.73 L416.05 342.12 L416.40 343.77 L416.75 345.17 L417.10 345.88 L417.45 346.06 L417.80 346.08 L418.15 345.98 L418.50 345.97 L418.85 346.10 L419.20 346.06 L419.55 345.99 L419.90 345.87 L420.25 346.01 L420.60 346.01 L420.95 346.09 L421.30 346.07 L421.65 346.10 L422.00 346.08 L422.35 346.06 L422.70 346.05 L423.05 346.10 L423.40 346.05 L423.75 346.01 L424.10 345.90 L424.45 345.97 L424.80 345.93 L425.15 345.98 L425.50 345.95 L425.85 346.00 L426.20 345.96 L426.55 345.99 L426.90 346.07 L427.25 346.10 L427.60 346.10 L427.95 346.10 L428.30 346.09 L428.65 346.04 L429.00 345.93 L429.35 346.07 L429.70 346.07 L430.05 346.05 L430.40 345.95 L430.75 345.96 L431.10 346.03 L431.45 346.10 L431.80 346.10 L432.15 346.10 L432.50 346.10 L432.85 346.10 L433.20 346.01 L433.55 346.04 L433.90 346.06 L434.25 346.10 L434.60 346.10 L434.95 346.10 L435.30 346.10 L435.65 346.10 L436.00 346.10 L436.35 346.04 L436.70 346.06 L437.05 345.91 L437.40 345.95 L437.75 345.90 L438.10 345.97 L438.45 345.93 L438.80 346.02 L439.15 345.99 L439.50 346.10 L439.85 346.01 L440.20 346.00 L440.55 346.02 L440.90 346.09 L441.25 346.10 L441.60 346.10 L441.95 346.10 L442.30 346.10 L442.65 346.04 L443.00 345.99 L443.35 346.00 L443.70 346.08 L444.05 346.10 L444.40 346.03 L444.75 345.99 L445.10 346.01 L445.45 346.09 L445.80 346.10 L446.15 345.97 L446.50 345.91 L446.85 345.95 L447.20 345.94 L447.55 346.04 L447.90 346.10 L448.25 346.10 L448.60 346.07 L448.95 346.07 L449.30 346.10 L449.65 346.01 L450.00 345.94 L450.35 345.97 L450.70 346.10 L451.05 346.10 L451.40 346.10 L451.75 346.03 L452.10 345.90 L452.45 346.03 L452.80 346.07 L453.15 346.10 L453.50 346.10 L453.85 346.10 L454.20 346.10 L454.55 346.10 L454.90 346.10 L455.25 346.10 L455.60 346.10 L455.95 346.10 L456.30 346.08 L456.65 346.00 L457.00 346.09 L457.35 346.04 L457.70 346.10 L458.05 346.10 L458.40 346.10 L458.75 346.10 L459.10 346.02 L459.45 345.94 L459.80 345.89 L460.15 346.00 L460.50 346.09 L460.85 346.10 L461.20 346.10 L461.55 346.01 L461.90 346.04 L462.25 346.02 L462.60 345.99 L462.95 345.91 L463.30 345.96 L463.65 346.00 L464.00 346.01 L464.35 346.03 L464.70 346.08 L465.05 346.10 L465.40 346.10 L465.75 346.08 L466.10 346.00 L466.45 345.96 L466.80 346.07 L467.15 346.10 L467.50 346.10 L467.85 346.10 L468.20 346.10 L468.55 346.09 L468.90 346.07 L469.25 346.10 L469.60 346.10 L469.95 346.10 L470.30 346.10 L470.65 346.10 L471.00 346.10 L471.35 346.10 L471.70 346.10 L472.05 346.10 L472.40 346.03 L472.75 346.01 L473.10 345.92 L473.45 345.93 L473.80 345.92 L473.80 346.70 Z" fill="#b3143c" opacity="1.0"/>
<path d="M374.40 353.60 L374.40 352.83 L374.75 352.88 L375.10 352.87 L375.45 352.86 L375.80 352.78 L376.15 352.79 L376.50 352.79 L376.85 352.90 L377.20 352.88 L377.55 352.93 L377.90 352.96 L378.25 353.00 L378.60 353.00 L378.95 353.00 L379.30 352.99 L379.65 352.97 L380.00 352.99 L380.35 352.95 L380.70 352.76 L381.05 352.37 L381.40 351.69 L381.75 350.87 L382.10 350.50 L382.45 350.85 L382.80 351.60 L383.15 352.20 L383.50 352.69 L383.85 352.92 L384.20 352.99 L384.55 352.99 L384.90 353.00 L385.25 353.00 L385.60 352.94 L385.95 352.83 L386.30 352.90 L386.65 352.95 L387.00 353.00 L387.35 352.94 L387.70 352.96 L388.05 352.83 L388.40 352.82 L388.75 352.87 L389.10 352.97 L389.45 352.95 L389.80 352.90 L390.15 352.88 L390.50 352.95 L390.85 352.91 L391.20 352.82 L391.55 352.81 L391.90 352.78 L392.25 352.83 L392.60 352.90 L392.95 352.93 L393.30 352.95 L393.65 352.96 L394.00 352.94 L394.35 353.00 L394.70 352.91 L395.05 352.99 L395.40 352.86 L395.75 352.89 L396.10 352.93 L396.45 353.00 L396.80 353.00 L397.15 353.00 L397.50 352.99 L397.85 352.90 L398.20 352.95 L398.55 352.95 L398.90 353.00 L399.25 352.91 L399.60 352.84 L399.95 352.74 L400.30 352.80 L400.65 352.87 L401.00 352.98 L401.35 352.95 L401.70 352.93 L402.05 352.95 L402.40 353.00 L402.75 353.00 L403.10 353.00 L403.45 352.89 L403.80 352.88 L404.15 352.86 L404.50 352.96 L404.85 352.88 L405.20 352.87 L405.55 352.82 L405.90 352.80 L406.25 352.88 L406.60 352.98 L406.95 353.00 L407.30 352.99 L407.65 352.96 L408.00 352.98 L408.35 353.00 L408.70 353.00 L409.05 353.00 L409.40 353.00 L409.75 352.98 L410.10 352.91 L410.45 352.89 L410.80 352.75 L411.15 352.56 L411.50 352.06 L411.85 351.46 L412.20 350.41 L412.55 349.37 L412.90 348.76 L413.25 348.96 L413.60 349.81 L413.95 350.94 L414.30 351.88 L414.65 352.48 L415.00 352.84 L415.35 352.95 L415.70 352.99 L416.05 353.00 L416.40 352.90 L416.75 352.84 L417.10 352.88 L417.45 352.86 L417.80 352.93 L418.15 352.86 L418.50 353.00 L418.85 352.92 L419.20 352.93 L419.55 352.79 L419.90 352.76 L420.25 352.76 L420.60 352.78 L420.95 352.81 L421.30 352.82 L421.65 352.92 L422.00 352.95 L422.35 352.91 L422.70 352.90 L423.05 352.83 L423.40 352.89 L423.75 352.86 L424.10 353.00 L424.45 353.00 L424.80 353.00 L425.15 352.97 L425.50 352.89 L425.85 352.77 L426.20 352.78 L426.55 352.86 L426.90 352.99 L427.25 352.98 L427.60 352.95 L427.95 352.85 L428.30 352.91 L428.65 352.85 L429.00 352.93 L429.35 352.94 L429.70 353.00 L430.05 352.98 L430.40 352.88 L430.75 352.90 L431.10 352.90 L431.45 352.92 L431.80 352.91 L432.15 353.00 L432.50 353.00 L432.85 352.93 L433.20 352.80 L433.55 352.78 L433.90 352.84 L434.25 352.92 L434.60 352.95 L434.95 352.87 L435.30 352.89 L435.65 352.93 L436.00 352.98 L436.35 352.87 L436.70 352.89 L437.05 352.98 L437.40 353.00 L437.75 353.00 L438.10 352.96 L438.45 352.95 L438.80 353.00 L439.15 353.00 L439.50 352.94 L439.85 352.86 L440.20 352.84 L440.55 352.93 L440.90 352.96 L441.25 352.95 L441.60 352.80 L441.95 352.83 L442.30 352.83 L442.65 352.88 L443.00 352.78 L443.35 352.88 L443.70 352.87 L444.05 352.89 L444.40 352.85 L444.75 352.94 L445.10 353.00 L445.45 353.00 L445.80 353.00 L446.15 353.00 L446.50 353.00 L446.85 353.00 L447.20 352.93 L447.55 352.91 L447.90 352.80 L448.25 352.79 L448.60 352.79 L448.95 352.78 L449.30 352.75 L449.65 352.77 L450.00 352.76 L450.35 352.90 L450.70 352.98 L451.05 353.00 L451.40 353.00 L451.75 353.00 L452.10 353.00 L452.45 352.93 L452.80 352.87 L453.15 352.93 L453.50 352.97 L453.85 353.00 L454.20 352.96 L454.55 353.00 L454.90 352.99 L455.25 352.99 L455.60 352.90 L455.95 352.92 L456.30 352.83 L456.65 352.78 L457.00 352.85 L457.35 352.88 L457.70 352.92 L458.05 352.88 L458.40 352.99 L458.75 353.00 L459.10 353.00 L459.45 352.92 L459.80 352.85 L460.15 352.84 L460.50 352.91 L460.85 352.98 L461.20 352.93 L461.55 352.85 L461.90 352.84 L462.25 352.90 L462.60 352.97 L462.95 352.93 L463.30 352.90 L463.65 352.94 L464.00 353.00 L464.35 353.00 L464.70 352.96 L465.05 353.00 L465.40 353.00 L465.75 353.00 L466.10 353.00 L466.45 352.92 L466.80 352.85 L467.15 352.86 L467.50 352.87 L467.85 352.94 L468.20 352.95 L468.55 352.97 L468.90 352.98 L469.25 352.91 L469.60 352.99 L469.95 352.99 L470.30 353.00 L470.65 353.00 L471.00 352.99 L471.35 352.95 L471.70 353.00 L472.05 353.00 L472.40 352.97 L472.75 352.83 L473.10 351.86 L473.45 351.72 L473.80 352.87 L473.80 353.60 Z" fill="#4e2068" opacity="1.0"/>
<path d="M374.40 360.27 L374.40 359.65 L374.75 359.59 L375.10 359.55 L375.45 359.69 L375.80 359.73 L376.15 359.70 L376.50 359.64 L376.85 359.60 L377.20 359.58 L377.55 359.55 L377.90 359.54 L378.25 359.68 L378.60 359.73 L378.95 359.73 L379.30 359.70 L379.65 359.56 L380.00 359.55 L380.35 359.47 L380.70 359.55 L381.05 359.53 L381.40 359.55 L381.75 359.47 L382.10 359.61 L382.45 359.60 L382.80 359.68 L383.15 359.54 L383.50 359.51 L383.85 359.54 L384.20 359.63 L384.55 359.73 L384.90 359.71 L385.25 359.73 L385.60 359.67 L385.95 359.72 L386.30 359.73 L386.65 359.73 L387.00 359.73 L387.35 359.73 L387.70 359.68 L388.05 359.55 L388.40 359.58 L388.75 359.72 L389.10 359.73 L389.45 359.60 L389.80 359.51 L390.15 359.62 L390.50 359.73 L390.85 359.69 L391.20 359.56 L391.55 359.59 L391.90 359.71 L392.25 359.73 L392.60 359.73 L392.95 359.66 L393.30 359.67 L393.65 359.59 L394.00 359.68 L394.35 359.66 L394.70 359.63 L395.05 359.54 L395.40 359.61 L395.75 359.73 L396.10 359.73 L396.45 359.71 L396.80 359.67 L397.15 359.70 L397.50 359.66 L397.85 359.57 L398.20 359.61 L398.55 359.61 L398.90 359.72 L399.25 359.67 L399.60 359.65 L399.95 359.67 L400.30 359.68 L400.65 359.68 L401.00 359.70 L401.35 359.66 L401.70 359.70 L402.05 359.62 L402.40 359.65 L402.75 359.59 L403.10 359.66 L403.45 359.68 L403.80 359.73 L404.15 359.73 L404.50 359.73 L404.85 359.73 L405.20 359.73 L405.55 359.73 L405.90 359.67 L406.25 359.57 L406.60 359.58 L406.95 359.60 L407.30 359.63 L407.65 359.54 L408.00 359.48 L408.35 359.43 L408.70 359.53 L409.05 359.66 L409.40 359.67 L409.75 359.70 L410.10 359.66 L410.45 359.69 L410.80 359.62 L411.15 359.63 L411.50 359.60 L411.85 359.64 L412.20 359.61 L412.55 359.62 L412.90 359.65 L413.25 359.68 L413.60 359.73 L413.95 359.67 L414.30 359.69 L414.65 359.70 L415.00 359.73 L415.35 359.73 L415.70 359.73 L416.05 359.73 L416.40 359.66 L416.75 359.67 L417.10 359.65 L417.45 359.68 L417.80 359.60 L418.15 359.61 L418.50 359.60 L418.85 359.62 L419.20 359.60 L419.55 359.63 L419.90 359.69 L420.25 359.71 L420.60 359.67 L420.95 359.64 L421.30 359.54 L421.65 359.65 L422.00 359.70 L422.35 359.73 L422.70 359.73 L423.05 359.68 L423.40 359.68 L423.75 359.73 L424.10 359.73 L424.45 359.68 L424.80 359.54 L425.15 359.67 L425.50 359.65 L425.85 359.73 L426.20 359.66 L426.55 359.66 L426.90 359.58 L427.25 359.66 L427.60 359.61 L427.95 359.69 L428.30 359.71 L428.65 359.73 L429.00 359.73 L429.35 359.73 L429.70 359.73 L430.05 359.70 L430.40 359.57 L430.75 359.53 L431.10 359.62 L431.45 359.66 L431.80 359.64 L432.15 359.64 L432.50 359.62 L432.85 359.71 L433.20 359.68 L433.55 359.73 L433.90 359.72 L434.25 359.69 L434.60 359.54 L434.95 359.59 L435.30 359.65 L435.65 359.73 L436.00 359.73 L436.35 359.66 L436.70 359.67 L437.05 359.69 L437.40 359.73 L437.75 359.73 L438.10 359.73 L438.45 359.71 L438.80 359.62 L439.15 359.66 L439.50 359.73 L439.85 359.73 L440.20 359.68 L440.55 359.63 L440.90 359.62 L441.25 359.58 L441.60 359.63 L441.95 359.68 L442.30 359.73 L442.65 359.69 L443.00 359.58 L443.35 359.57 L443.70 359.55 L444.05 359.63 L444.40 359.59 L444.75 359.57 L445.10 359.59 L445.45 359.70 L445.80 359.73 L446.15 359.73 L446.50 359.65 L446.85 359.65 L447.20 359.61 L447.55 359.65 L447.90 359.54 L448.25 359.62 L448.60 359.60 L448.95 359.70 L449.30 359.70 L449.65 359.72 L450.00 359.64 L450.35 359.56 L450.70 359.66 L451.05 359.64 L451.40 359.67 L451.75 359.57 L452.10 359.61 L452.45 359.63 L452.80 359.67 L453.15 359.73 L453.50 359.73 L453.85 359.73 L454.20 359.73 L454.55 359.70 L454.90 359.57 L455.25 359.68 L455.60 359.70 L455.95 359.73 L456.30 359.67 L456.65 359.59 L457.00 359.47 L457.35 359.54 L457.70 359.65 L458.05 359.73 L458.40 359.73 L458.75 359.73 L459.10 359.73 L459.45 359.73 L459.80 359.73 L460.15 359.73 L460.50 359.64 L460.85 359.51 L461.20 359.52 L461.55 359.65 L461.90 359.68 L462.25 359.73 L462.60 359.67 L462.95 359.73 L463.30 359.64 L463.65 359.63 L464.00 359.58 L464.35 359.69 L464.70 359.69 L465.05 359.61 L465.40 359.58 L465.75 359.64 L466.10 359.71 L466.45 359.63 L466.80 359.60 L467.15 359.58 L467.50 359.58 L467.85 359.59 L468.20 359.56 L468.55 359.63 L468.90 359.66 L469.25 359.73 L469.60 359.71 L469.95 359.66 L470.30 359.60 L470.65 359.60 L471.00 359.58 L471.35 359.57 L471.70 359.68 L472.05 359.65 L472.40 359.69 L472.75 359.66 L473.10 359.66 L473.45 359.60 L473.80 359.58 L473.80 360.27 Z" fill="#f2d49a" opacity="1.0"/>
<path d="M374.40 367.50 L374.40 366.90 L374.75 366.90 L375.10 366.81 L375.45 366.82 L375.80 366.78 L376.15 366.87 L376.50 366.86 L376.85 366.90 L377.20 366.90 L377.55 366.88 L377.90 366.76 L378.25 366.81 L378.60 366.79 L378.95 366.90 L379.30 366.85 L379.65 366.90 L380.00 366.88 L380.35 366.90 L380.70 366.89 L381.05 366.90 L381.40 366.81 L381.75 366.87 L382.10 366.80 L382.45 366.82 L382.80 366.79 L383.15 366.75 L383.50 366.70 L383.85 366.74 L384.20 366.82 L384.55 366.83 L384.90 366.85 L385.25 366.84 L385.60 366.90 L385.95 366.78 L386.30 366.82 L386.65 366.79 L387.00 366.82 L387.35 366.73 L387.70 366.83 L388.05 366.80 L388.40 366.87 L388.75 366.73 L389.10 366.78 L389.45 366.76 L389.80 366.76 L390.15 366.76 L390.50 366.77 L390.85 366.79 L391.20 366.82 L391.55 366.76 L391.90 366.78 L392.25 366.73 L392.60 366.82 L392.95 366.84 L393.30 366.90 L393.65 366.86 L394.00 366.82 L394.35 366.68 L394.70 366.80 L395.05 366.84 L395.40 366.89 L395.75 366.86 L396.10 366.83 L396.45 366.70 L396.80 366.42 L397.15 366.20 L397.50 366.01 L397.85 365.96 L398.20 365.96 L398.55 366.07 L398.90 366.36 L399.25 366.59 L399.60 366.75 L399.95 366.84 L400.30 366.85 L400.65 366.74 L401.00 366.75 L401.35 366.73 L401.70 366.68 L402.05 366.39 L402.40 365.99 L402.75 365.33 L403.10 364.61 L403.45 363.98 L403.80 363.65 L404.15 363.71 L404.50 363.92 L404.85 364.08 L405.20 364.05 L405.55 363.84 L405.90 363.60 L406.25 363.52 L406.60 363.66 L406.95 363.93 L407.30 364.22 L407.65 364.25 L408.00 364.15 L408.35 363.95 L408.70 363.89 L409.05 363.94 L409.40 364.17 L409.75 364.44 L410.10 364.71 L410.45 364.87 L410.80 364.93 L411.15 364.99 L411.50 365.12 L411.85 365.38 L412.20 365.60 L412.55 365.72 L412.90 365.75 L413.25 365.73 L413.60 365.58 L413.95 365.41 L414.30 365.30 L414.65 365.29 L415.00 365.38 L415.35 365.56 L415.70 365.75 L416.05 365.90 L416.40 365.93 L416.75 365.89 L417.10 365.78 L417.45 365.59 L417.80 365.40 L418.15 365.27 L418.50 365.34 L418.85 365.47 L419.20 365.64 L419.55 365.77 L419.90 365.88 L420.25 365.91 L420.60 365.90 L420.95 365.88 L421.30 365.97 L421.65 366.06 L422.00 366.25 L422.35 366.43 L422.70 366.53 L423.05 366.60 L423.40 366.71 L423.75 366.76 L424.10 366.79 L424.45 366.72 L424.80 366.71 L425.15 366.74 L425.50 366.85 L425.85 366.90 L426.20 366.90 L426.55 366.87 L426.90 366.80 L427.25 366.81 L427.60 366.83 L427.95 366.82 L428.30 366.79 L428.65 366.86 L429.00 366.90 L429.35 366.90 L429.70 366.89 L430.05 366.90 L430.40 366.90 L430.75 366.90 L431.10 366.90 L431.45 366.90 L431.80 366.90 L432.15 366.90 L432.50 366.83 L432.85 366.69 L433.20 366.73 L433.55 366.73 L433.90 366.86 L434.25 366.88 L434.60 366.90 L434.95 366.90 L435.30 366.90 L435.65 366.84 L436.00 366.77 L436.35 366.74 L436.70 366.79 L437.05 366.72 L437.40 366.75 L437.75 366.74 L438.10 366.86 L438.45 366.89 L438.80 366.90 L439.15 366.80 L439.50 366.83 L439.85 366.85 L440.20 366.85 L440.55 366.88 L440.90 366.84 L441.25 366.90 L441.60 366.84 L441.95 366.83 L442.30 366.85 L442.65 366.84 L443.00 366.87 L443.35 366.83 L443.70 366.81 L444.05 366.76 L444.40 366.76 L444.75 366.79 L445.10 366.89 L445.45 366.86 L445.80 366.90 L446.15 366.87 L446.50 366.81 L446.85 366.72 L447.20 366.81 L447.55 366.88 L447.90 366.90 L448.25 366.84 L448.60 366.90 L448.95 366.90 L449.30 366.90 L449.65 366.90 L450.00 366.88 L450.35 366.90 L450.70 366.87 L451.05 366.90 L451.40 366.90 L451.75 366.86 L452.10 366.82 L452.45 366.86 L452.80 366.90 L453.15 366.85 L453.50 366.85 L453.85 366.85 L454.20 366.90 L454.55 366.87 L454.90 366.85 L455.25 366.87 L455.60 366.84 L455.95 366.86 L456.30 366.77 L456.65 366.83 L457.00 366.75 L457.35 366.84 L457.70 366.88 L458.05 366.89 L458.40 366.88 L458.75 366.82 L459.10 366.77 L459.45 366.73 L459.80 366.74 L460.15 366.63 L460.50 366.53 L460.85 366.46 L461.20 366.41 L461.55 366.31 L461.90 366.24 L462.25 366.20 L462.60 366.22 L462.95 366.20 L463.30 366.15 L463.65 366.16 L464.00 366.23 L464.35 366.36 L464.70 366.40 L465.05 366.52 L465.40 366.62 L465.75 366.66 L466.10 366.73 L466.45 366.78 L466.80 366.78 L467.15 366.64 L467.50 366.59 L467.85 366.61 L468.20 366.50 L468.55 366.37 L468.90 366.16 L469.25 366.12 L469.60 366.03 L469.95 366.00 L470.30 366.02 L470.65 366.08 L471.00 366.13 L471.35 366.17 L471.70 366.29 L472.05 366.39 L472.40 366.49 L472.75 366.68 L473.10 366.75 L473.45 366.86 L473.80 366.87 L473.80 367.50 Z" fill="#d98a12" opacity="1.0"/>
<path d="M374.40 374.10 L374.40 373.45 L374.75 373.41 L375.10 373.45 L375.45 373.34 L375.80 373.33 L376.15 373.24 L376.50 373.30 L376.85 373.32 L377.20 373.31 L377.55 373.35 L377.90 373.37 L378.25 373.41 L378.60 373.36 L378.95 373.43 L379.30 373.50 L379.65 373.50 L380.00 373.43 L380.35 373.39 L380.70 373.41 L381.05 373.46 L381.40 373.46 L381.75 373.40 L382.10 373.43 L382.45 373.45 L382.80 373.50 L383.15 373.49 L383.50 373.43 L383.85 373.39 L384.20 373.44 L384.55 373.46 L384.90 373.41 L385.25 373.35 L385.60 373.32 L385.95 373.35 L386.30 373.44 L386.65 373.47 L387.00 373.49 L387.35 373.39 L387.70 373.49 L388.05 373.43 L388.40 373.50 L388.75 373.46 L389.10 373.50 L389.45 373.50 L389.80 373.47 L390.15 373.35 L390.50 373.35 L390.85 373.43 L391.20 373.50 L391.55 373.50 L391.90 373.50 L392.25 373.46 L392.60 373.43 L392.95 373.42 L393.30 373.50 L393.65 373.50 L394.00 373.48 L394.35 373.37 L394.70 373.24 L395.05 373.27 L395.40 373.26 L395.75 373.37 L396.10 373.47 L396.45 373.50 L396.80 373.50 L397.15 373.50 L397.50 373.50 L397.85 373.45 L398.20 373.47 L398.55 373.50 L398.90 373.48 L399.25 373.35 L399.60 373.28 L399.95 373.30 L400.30 373.29 L400.65 373.32 L401.00 373.37 L401.35 373.42 L401.70 373.45 L402.05 373.42 L402.40 373.20 L402.75 372.67 L403.10 371.73 L403.45 370.60 L403.80 369.87 L404.15 369.95 L404.50 370.62 L404.85 371.29 L405.20 371.46 L405.55 371.24 L405.90 370.88 L406.25 370.76 L406.60 370.90 L406.95 371.16 L407.30 371.28 L407.65 371.15 L408.00 370.81 L408.35 370.56 L408.70 370.57 L409.05 370.81 L409.40 371.17 L409.75 371.44 L410.10 371.48 L410.45 371.33 L410.80 371.17 L411.15 371.19 L411.50 371.44 L411.85 371.78 L412.20 372.12 L412.55 372.32 L412.90 372.38 L413.25 372.26 L413.60 372.21 L413.95 372.13 L414.30 372.18 L414.65 372.23 L415.00 372.39 L415.35 372.52 L415.70 372.55 L416.05 372.54 L416.40 372.64 L416.75 372.55 L417.10 372.41 L417.45 372.27 L417.80 372.20 L418.15 372.17 L418.50 372.26 L418.85 372.37 L419.20 372.55 L419.55 372.60 L419.90 372.74 L420.25 372.78 L420.60 372.79 L420.95 372.65 L421.30 372.59 L421.65 372.47 L422.00 372.36 L422.35 372.28 L422.70 372.26 L423.05 372.37 L423.40 372.53 L423.75 372.70 L424.10 372.86 L424.45 373.02 L424.80 373.06 L425.15 373.07 L425.50 372.91 L425.85 372.83 L426.20 372.72 L426.55 372.69 L426.90 372.77 L427.25 372.93 L427.60 373.06 L427.95 373.23 L428.30 373.35 L428.65 373.44 L429.00 373.38 L429.35 373.45 L429.70 373.50 L430.05 373.50 L430.40 373.44 L430.75 373.41 L431.10 373.41 L431.45 373.48 L431.80 373.47 L432.15 373.49 L432.50 373.46 L432.85 373.42 L433.20 373.37 L433.55 373.39 L433.90 373.38 L434.25 373.31 L434.60 373.29 L434.95 373.41 L435.30 373.48 L435.65 373.47 L436.00 373.43 L436.35 373.40 L436.70 373.45 L437.05 373.40 L437.40 373.41 L437.75 373.36 L438.10 373.31 L438.45 373.30 L438.80 373.29 L439.15 373.33 L439.50 373.40 L439.85 373.42 L440.20 373.43 L440.55 373.46 L440.90 373.44 L441.25 373.50 L441.60 373.43 L441.95 373.47 L442.30 373.39 L442.65 373.35 L443.00 373.36 L443.35 373.32 L443.70 373.37 L444.05 373.36 L444.40 373.35 L444.75 373.37 L445.10 373.34 L445.45 373.35 L445.80 373.39 L446.15 373.38 L446.50 373.43 L446.85 373.35 L447.20 373.35 L447.55 373.32 L447.90 373.38 L448.25 373.43 L448.60 373.47 L448.95 373.38 L449.30 373.30 L449.65 373.27 L450.00 373.25 L450.35 373.40 L450.70 373.46 L451.05 373.44 L451.40 373.30 L451.75 373.25 L452.10 373.34 L452.45 373.37 L452.80 373.41 L453.15 373.35 L453.50 373.37 L453.85 373.32 L454.20 373.31 L454.55 373.26 L454.90 373.32 L455.25 373.35 L455.60 373.40 L455.95 373.39 L456.30 373.47 L456.65 373.42 L457.00 373.46 L457.35 373.38 L457.70 373.50 L458.05 373.50 L458.40 373.48 L458.75 373.44 L459.10 373.43 L459.45 373.45 L459.80 373.45 L460.15 373.39 L460.50 373.43 L460.85 373.33 L461.20 373.36 L461.55 373.40 L461.90 373.50 L462.25 373.50 L462.60 373.50 L462.95 373.50 L463.30 373.50 L463.65 373.50 L464.00 373.47 L464.35 373.34 L464.70 373.34 L465.05 373.42 L465.40 373.50 L465.75 373.48 L466.10 373.44 L466.45 373.47 L466.80 373.49 L467.15 373.50 L467.50 373.50 L467.85 373.48 L468.20 373.50 L468.55 373.46 L468.90 373.46 L469.25 373.39 L469.60 373.32 L469.95 373.39 L470.30 373.33 L470.65 373.46 L471.00 373.37 L471.35 373.45 L471.70 373.46 L472.05 373.50 L472.40 373.47 L472.75 373.35 L473.10 373.28 L473.45 373.31 L473.80 373.29 L473.80 374.10 Z" fill="#e9b81c" opacity="1.0"/>
<path d="M374.40 380.70 L374.40 380.10 L374.75 380.10 L375.10 380.00 L375.45 379.90 L375.80 379.95 L376.15 379.94 L376.50 380.00 L376.85 379.97 L377.20 380.10 L377.55 380.10 L377.90 380.10 L378.25 380.04 L378.60 380.06 L378.95 379.99 L379.30 379.99 L379.65 379.99 L380.00 380.02 L380.35 380.06 L380.70 380.04 L381.05 380.10 L381.40 380.10 L381.75 380.05 L382.10 379.97 L382.45 379.93 L382.80 379.98 L383.15 379.97 L383.50 379.97 L383.85 380.02 L384.20 380.10 L384.55 380.10 L384.90 380.10 L385.25 380.10 L385.60 380.10 L385.95 380.09 L386.30 380.10 L386.65 380.07 L387.00 380.10 L387.35 380.10 L387.70 380.10 L388.05 380.02 L388.40 380.02 L388.75 380.04 L389.10 380.10 L389.45 380.10 L389.80 380.02 L390.15 379.99 L390.50 380.01 L390.85 380.10 L391.20 380.00 L391.55 379.97 L391.90 379.87 L392.25 380.00 L392.60 380.09 L392.95 380.06 L393.30 379.97 L393.65 380.01 L394.00 380.10 L394.35 380.10 L394.70 380.10 L395.05 380.10 L395.40 380.08 L395.75 380.02 L396.10 379.91 L396.45 379.90 L396.80 379.92 L397.15 380.04 L397.50 379.97 L397.85 379.96 L398.20 379.90 L398.55 379.91 L398.90 380.00 L399.25 379.92 L399.60 380.01 L399.95 379.91 L400.30 379.93 L400.65 379.84 L401.00 379.87 L401.35 379.99 L401.70 380.10 L402.05 380.10 L402.40 379.97 L402.75 379.89 L403.10 379.61 L403.45 377.33 L403.80 374.80 L404.15 377.33 L404.50 379.70 L404.85 380.08 L405.20 380.09 L405.55 380.08 L405.90 380.10 L406.25 380.01 L406.60 379.96 L406.95 379.90 L407.30 379.90 L407.65 379.99 L408.00 379.97 L408.35 380.10 L408.70 380.08 L409.05 380.10 L409.40 380.00 L409.75 379.91 L410.10 379.83 L410.45 379.56 L410.80 379.32 L411.15 379.45 L411.50 379.77 L411.85 379.82 L412.20 379.61 L412.55 379.49 L412.90 379.56 L413.25 379.76 L413.60 379.97 L413.95 380.10 L414.30 380.03 L414.65 380.02 L415.00 380.04 L415.35 380.02 L415.70 379.95 L416.05 379.97 L416.40 380.04 L416.75 380.10 L417.10 380.06 L417.45 380.07 L417.80 380.06 L418.15 380.10 L418.50 380.07 L418.85 380.04 L419.20 380.01 L419.55 380.00 L419.90 380.01 L420.25 379.93 L420.60 379.97 L420.95 379.92 L421.30 379.92 L421.65 379.89 L422.00 379.93 L422.35 379.95 L422.70 379.93 L423.05 380.00 L423.40 380.06 L423.75 380.10 L424.10 380.10 L424.45 380.10 L424.80 380.10 L425.15 380.06 L425.50 380.10 L425.85 380.10 L426.20 380.10 L426.55 380.10 L426.90 380.03 L427.25 380.03 L427.60 379.94 L427.95 379.90 L428.30 379.98 L428.65 379.96 L429.00 380.05 L429.35 379.99 L429.70 380.04 L430.05 380.03 L430.40 379.98 L430.75 379.98 L431.10 379.91 L431.45 380.03 L431.80 380.00 L432.15 380.07 L432.50 379.99 L432.85 380.01 L433.20 380.00 L433.55 380.06 L433.90 380.10 L434.25 380.02 L434.60 379.95 L434.95 379.93 L435.30 380.00 L435.65 380.00 L436.00 380.03 L436.35 380.10 L436.70 380.10 L437.05 380.10 L437.40 380.06 L437.75 379.92 L438.10 379.92 L438.45 379.88 L438.80 379.87 L439.15 379.89 L439.50 379.96 L439.85 380.05 L440.20 380.07 L440.55 380.01 L440.90 379.99 L441.25 380.03 L441.60 380.00 L441.95 380.01 L442.30 379.91 L442.65 379.98 L443.00 379.97 L443.35 379.99 L443.70 380.06 L444.05 380.10 L444.40 380.10 L444.75 380.07 L445.10 380.07 L445.45 380.06 L445.80 380.00 L446.15 379.90 L446.50 379.96 L446.85 380.06 L447.20 380.06 L447.55 380.09 L447.90 380.01 L448.25 380.02 L448.60 380.01 L448.95 380.10 L449.30 380.10 L449.65 380.05 L450.00 379.95 L450.35 379.89 L450.70 379.98 L451.05 379.96 L451.40 380.04 L451.75 379.99 L452.10 380.06 L452.45 380.09 L452.80 380.10 L453.15 380.05 L453.50 379.94 L453.85 379.93 L454.20 379.95 L454.55 379.99 L454.90 379.98 L455.25 380.00 L455.60 380.06 L455.95 380.05 L456.30 380.05 L456.65 380.09 L457.00 380.10 L457.35 380.10 L457.70 380.07 L458.05 380.00 L458.40 379.97 L458.75 379.95 L459.10 380.01 L459.45 380.03 L459.80 380.04 L460.15 379.98 L460.50 379.97 L460.85 379.95 L461.20 380.05 L461.55 380.04 L461.90 380.04 L462.25 379.90 L462.60 379.96 L462.95 379.97 L463.30 380.02 L463.65 379.90 L464.00 379.98 L464.35 379.96 L464.70 380.01 L465.05 379.90 L465.40 379.95 L465.75 379.99 L466.10 380.10 L466.45 380.08 L466.80 380.10 L467.15 380.01 L467.50 380.10 L467.85 380.08 L468.20 380.06 L468.55 380.01 L468.90 379.92 L469.25 380.01 L469.60 380.05 L469.95 380.10 L470.30 380.01 L470.65 380.02 L471.00 379.94 L471.35 379.95 L471.70 379.87 L472.05 379.98 L472.40 380.00 L472.75 379.96 L473.10 379.91 L473.45 379.99 L473.80 380.10 L473.80 380.70 Z" fill="#2b4b8c" opacity="1.0"/>
<text x="477.10" y="338.20" font-size="5.35" stroke="#222" stroke-width="0.05">p53</text>
<text x="477.10" y="344.90" font-size="5.35" stroke="#222" stroke-width="0.05">p53 CX-5461</text>
<text x="477.10" y="352.10" font-size="5.35" stroke="#222" stroke-width="0.05">GATA1</text>
<text x="477.10" y="359.40" font-size="5.35" stroke="#222" stroke-width="0.05">H3K27me3</text>
<text x="477.10" y="366.50" font-size="5.35" stroke="#222" stroke-width="0.05">H3K27Ac</text>
<text x="477.10" y="373.90" font-size="5.35" stroke="#222" stroke-width="0.05">H3K4me3</text>
<text x="477.10" y="381.50" font-size="5.35" stroke="#222" stroke-width="0.05">RNAPII</text>
<rect x="374.40" y="385.17" width="21.60" height="0.45" fill="#b0b0dc"/>
<rect x="395.90" y="384.85" width="5.20" height="1.10" fill="#8a8ac8"/>
<rect x="401.10" y="385.17" width="2.30" height="0.45" fill="#b0b0dc"/>
<rect x="403.40" y="384.50" width="2.30" height="1.80" fill="#2b4b8c"/>
<rect x="405.70" y="385.15" width="14.50" height="0.50" fill="#5a6aaa"/>
<rect x="420.20" y="384.60" width="28.10" height="1.60" fill="#2b4b8c"/>
<text x="414.80" y="394.90" font-size="5.4" text-anchor="middle" fill="#4863a0" font-style="italic" stroke="#4863a0" stroke-width="0.05">BTG2</text>
<text x="422.30" y="408.60" font-size="4.5" text-anchor="middle">50 kb</text>
<line x1="400.20" y1="410.90" x2="446.50" y2="410.90" stroke="#777" stroke-width="0.6"/>
<text x="349.20" y="418.60" font-size="4.35" textLength="20.40" lengthAdjust="spacingAndGlyphs">hg19 chr5:</text>
<text x="391.60" y="418.60" font-size="4.35" text-anchor="middle" textLength="24.10" lengthAdjust="spacingAndGlyphs">173,310,000</text>
<text x="428.70" y="418.60" font-size="4.35" text-anchor="middle" textLength="24.10" lengthAdjust="spacingAndGlyphs">173,350,000</text>
<text x="465.80" y="418.60" font-size="4.35" text-anchor="middle" textLength="24.10" lengthAdjust="spacingAndGlyphs">173,390,000</text>
<rect x="391.45" y="421.95" width="0.70" height="0.90" fill="#333"/>
<rect x="428.35" y="421.95" width="0.70" height="0.90" fill="#333"/>
<rect x="465.45" y="421.95" width="0.70" height="0.90" fill="#333"/>
<text x="369.60" y="425.75" font-size="4.4" text-anchor="end">120</text>
<line x1="372.40" y1="424.20" x2="374.40" y2="424.20" stroke="#444" stroke-width="0.5"/>
<text x="369.60" y="432.65" font-size="4.4" text-anchor="end">120</text>
<line x1="372.40" y1="431.10" x2="374.40" y2="431.10" stroke="#444" stroke-width="0.5"/>
<text x="369.60" y="439.35" font-size="4.4" text-anchor="end">120</text>
<line x1="372.40" y1="437.80" x2="374.40" y2="437.80" stroke="#444" stroke-width="0.5"/>
<text x="369.60" y="446.45" font-size="4.4" text-anchor="end">200</text>
<line x1="372.40" y1="444.90" x2="374.40" y2="444.90" stroke="#444" stroke-width="0.5"/>
<text x="369.60" y="453.45" font-size="4.4" text-anchor="end">200</text>
<line x1="372.40" y1="451.90" x2="374.40" y2="451.90" stroke="#444" stroke-width="0.5"/>
<text x="369.60" y="460.35" font-size="4.4" text-anchor="end">200</text>
<line x1="372.40" y1="458.80" x2="374.40" y2="458.80" stroke="#444" stroke-width="0.5"/>
<text x="369.60" y="467.25" font-size="4.4" text-anchor="end">200</text>
<line x1="372.40" y1="465.70" x2="374.40" y2="465.70" stroke="#444" stroke-width="0.5"/>
<line x1="374.40" y1="424.20" x2="374.40" y2="471.70" stroke="#555" stroke-width="0.7"/>
<path d="M374.40 430.50 L374.40 429.72 L374.75 429.72 L375.10 429.80 L375.45 429.90 L375.80 429.90 L376.15 429.90 L376.50 429.90 L376.85 429.90 L377.20 429.90 L377.55 429.89 L377.90 429.90 L378.25 429.89 L378.60 429.86 L378.95 429.82 L379.30 429.82 L379.65 429.84 L380.00 429.76 L380.35 429.77 L380.70 429.75 L381.05 429.78 L381.40 429.74 L381.75 429.83 L382.10 429.90 L382.45 429.90 L382.80 429.78 L383.15 429.79 L383.50 429.79 L383.85 429.83 L384.20 429.69 L384.55 429.72 L384.90 429.76 L385.25 429.88 L385.60 429.87 L385.95 429.81 L386.30 429.76 L386.65 429.84 L387.00 429.89 L387.35 429.82 L387.70 429.79 L388.05 429.81 L388.40 429.80 L388.75 429.72 L389.10 429.73 L389.45 429.85 L389.80 429.89 L390.15 429.86 L390.50 429.81 L390.85 429.82 L391.20 429.84 L391.55 429.81 L391.90 429.48 L392.25 427.39 L392.60 427.71 L392.95 429.60 L393.30 429.76 L393.65 429.83 L394.00 429.76 L394.35 429.86 L394.70 429.82 L395.05 429.90 L395.40 429.90 L395.75 429.84 L396.10 429.80 L396.45 429.72 L396.80 429.63 L397.15 429.06 L397.50 428.99 L397.85 429.61 L398.20 429.89 L398.55 429.90 L398.90 429.90 L399.25 429.90 L399.60 429.88 L399.95 429.85 L400.30 429.83 L400.65 429.90 L401.00 429.90 L401.35 429.90 L401.70 429.90 L402.05 429.90 L402.40 429.90 L402.75 429.90 L403.10 429.82 L403.45 429.86 L403.80 429.76 L404.15 429.74 L404.50 429.63 L404.85 429.73 L405.20 429.73 L405.55 429.81 L405.90 429.70 L406.25 429.78 L406.60 429.77 L406.95 429.87 L407.30 429.82 L407.65 429.85 L408.00 429.75 L408.35 429.75 L408.70 429.74 L409.05 429.88 L409.40 429.90 L409.75 429.90 L410.10 429.90 L410.45 429.85 L410.80 429.90 L411.15 429.90 L411.50 429.85 L411.85 429.70 L412.20 429.66 L412.55 429.70 L412.90 429.75 L413.25 429.70 L413.60 429.69 L413.95 429.71 L414.30 429.79 L414.65 429.76 L415.00 429.75 L415.35 429.73 L415.70 429.83 L416.05 429.82 L416.40 429.83 L416.75 429.73 L417.10 429.68 L417.45 429.60 L417.80 429.60 L418.15 429.75 L418.50 429.90 L418.85 429.90 L419.20 429.87 L419.55 429.79 L419.90 429.81 L420.25 429.90 L420.60 429.90 L420.95 429.90 L421.30 429.90 L421.65 429.90 L422.00 429.89 L422.35 429.89 L422.70 429.90 L423.05 429.90 L423.40 429.81 L423.75 429.81 L424.10 429.69 L424.45 429.71 L424.80 429.69 L425.15 429.79 L425.50 429.84 L425.85 429.90 L426.20 429.88 L426.55 429.80 L426.90 429.79 L427.25 429.72 L427.60 429.77 L427.95 429.83 L428.30 429.90 L428.65 429.90 L429.00 429.82 L429.35 429.81 L429.70 429.86 L430.05 429.90 L430.40 429.89 L430.75 429.87 L431.10 429.78 L431.45 429.76 L431.80 429.78 L432.15 429.87 L432.50 429.89 L432.85 429.90 L433.20 429.90 L433.55 429.90 L433.90 429.89 L434.25 429.81 L434.60 429.68 L434.95 429.69 L435.30 429.77 L435.65 429.82 L436.00 429.83 L436.35 429.86 L436.70 429.86 L437.05 429.87 L437.40 429.87 L437.75 429.89 L438.10 429.83 L438.45 429.76 L438.80 429.78 L439.15 429.87 L439.50 429.88 L439.85 429.84 L440.20 429.83 L440.55 429.86 L440.90 429.88 L441.25 429.83 L441.60 429.76 L441.95 429.77 L442.30 429.78 L442.65 429.83 L443.00 429.79 L443.35 429.83 L443.70 429.88 L444.05 429.84 L444.40 429.86 L444.75 429.79 L445.10 429.89 L445.45 429.84 L445.80 429.88 L446.15 429.88 L446.50 429.90 L446.85 429.85 L447.20 429.88 L447.55 429.89 L447.90 429.90 L448.25 429.87 L448.60 429.86 L448.95 429.85 L449.30 429.76 L449.65 429.75 L450.00 429.76 L450.35 429.86 L450.70 429.73 L451.05 429.75 L451.40 429.67 L451.75 429.72 L452.10 429.80 L452.45 429.87 L452.80 429.86 L453.15 429.86 L453.50 429.90 L453.85 429.87 L454.20 429.75 L454.55 429.66 L454.90 429.81 L455.25 429.84 L455.60 429.79 L455.95 429.67 L456.30 429.67 L456.65 429.76 L457.00 429.78 L457.35 429.75 L457.70 429.74 L458.05 429.83 L458.40 429.90 L458.75 429.88 L459.10 429.78 L459.45 429.65 L459.80 429.78 L460.15 429.88 L460.50 429.90 L460.85 429.87 L461.20 429.82 L461.55 429.89 L461.90 429.83 L462.25 429.78 L462.60 429.70 L462.95 429.76 L463.30 429.80 L463.65 429.86 L464.00 429.85 L464.35 429.88 L464.70 429.87 L465.05 429.79 L465.40 429.71 L465.75 429.76 L466.10 429.81 L466.45 429.81 L466.80 429.77 L467.15 429.74 L467.50 429.72 L467.85 429.76 L468.20 429.81 L468.55 429.90 L468.90 429.83 L469.25 429.84 L469.60 429.77 L469.95 429.74 L470.30 429.69 L470.65 429.79 L471.00 429.76 L471.35 429.84 L471.70 429.85 L472.05 429.85 L472.40 429.82 L472.75 429.81 L473.10 429.80 L473.45 429.81 L473.80 429.77 L473.80 430.50 Z" fill="#d9308a" opacity="1.0"/>
<path d="M374.40 437.10 L374.40 436.29 L374.75 436.35 L375.10 436.37 L375.45 436.44 L375.80 436.45 L376.15 436.45 L376.50 436.38 L376.85 436.32 L377.20 436.36 L377.55 436.40 L377.90 436.42 L378.25 436.40 L378.60 436.40 L378.95 436.44 L379.30 436.38 L379.65 436.42 L380.00 436.35 L380.35 436.43 L380.70 436.46 L381.05 436.50 L381.40 436.50 L381.75 436.46 L382.10 436.35 L382.45 436.30 L382.80 436.40 L383.15 436.42 L383.50 436.35 L383.85 436.35 L384.20 436.44 L384.55 436.50 L384.90 436.50 L385.25 436.50 L385.60 436.50 L385.95 436.50 L386.30 436.50 L386.65 436.50 L387.00 436.50 L387.35 436.38 L387.70 436.32 L388.05 436.26 L388.40 436.36 L388.75 436.40 L389.10 436.45 L389.45 436.35 L389.80 436.41 L390.15 436.35 L390.50 436.37 L390.85 436.32 L391.20 436.31 L391.55 436.37 L391.90 435.86 L392.25 432.82 L392.60 433.26 L392.95 436.05 L393.30 436.46 L393.65 436.50 L394.00 436.50 L394.35 436.41 L394.70 436.43 L395.05 436.48 L395.40 436.50 L395.75 436.50 L396.10 436.49 L396.45 436.42 L396.80 436.38 L397.15 436.41 L397.50 436.42 L397.85 436.46 L398.20 436.50 L398.55 436.44 L398.90 436.39 L399.25 436.38 L399.60 436.50 L399.95 436.49 L400.30 436.43 L400.65 436.34 L401.00 436.35 L401.35 436.40 L401.70 436.39 L402.05 436.48 L402.40 436.48 L402.75 436.49 L403.10 436.40 L403.45 436.37 L403.80 436.43 L404.15 436.44 L404.50 436.44 L404.85 436.43 L405.20 436.39 L405.55 436.42 L405.90 436.34 L406.25 436.35 L406.60 436.22 L406.95 436.33 L407.30 436.44 L407.65 436.50 L408.00 436.50 L408.35 436.42 L408.70 436.40 L409.05 436.29 L409.40 436.36 L409.75 436.37 L410.10 436.36 L410.45 436.42 L410.80 436.46 L411.15 436.47 L411.50 436.40 L411.85 436.31 L412.20 436.29 L412.55 436.26 L412.90 436.29 L413.25 436.33 L413.60 436.37 L413.95 436.43 L414.30 436.50 L414.65 436.43 L415.00 436.38 L415.35 436.43 L415.70 436.48 L416.05 436.40 L416.40 436.31 L416.75 436.33 L417.10 436.42 L417.45 436.42 L417.80 436.40 L418.15 436.39 L418.50 436.35 L418.85 436.30 L419.20 436.26 L419.55 436.28 L419.90 436.31 L420.25 436.41 L420.60 436.44 L420.95 436.50 L421.30 436.50 L421.65 436.44 L422.00 436.45 L422.35 436.35 L422.70 436.37 L423.05 436.34 L423.40 436.47 L423.75 436.50 L424.10 436.50 L424.45 436.42 L424.80 436.39 L425.15 436.40 L425.50 436.49 L425.85 436.44 L426.20 436.41 L426.55 436.31 L426.90 436.33 L427.25 436.36 L427.60 436.49 L427.95 436.50 L428.30 436.50 L428.65 436.50 L429.00 436.50 L429.35 436.49 L429.70 436.39 L430.05 436.32 L430.40 436.36 L430.75 436.33 L431.10 436.32 L431.45 436.36 L431.80 436.44 L432.15 436.38 L432.50 436.30 L432.85 436.34 L433.20 436.36 L433.55 436.41 L433.90 436.38 L434.25 436.40 L434.60 436.46 L434.95 436.39 L435.30 436.42 L435.65 436.37 L436.00 436.48 L436.35 436.42 L436.70 436.36 L437.05 436.25 L437.40 436.35 L437.75 436.38 L438.10 436.49 L438.45 436.45 L438.80 436.50 L439.15 436.45 L439.50 436.49 L439.85 436.50 L440.20 436.50 L440.55 436.50 L440.90 436.50 L441.25 436.50 L441.60 436.50 L441.95 436.50 L442.30 436.49 L442.65 436.50 L443.00 436.36 L443.35 436.45 L443.70 436.44 L444.05 436.50 L444.40 436.50 L444.75 436.50 L445.10 436.49 L445.45 436.50 L445.80 436.50 L446.15 436.50 L446.50 436.37 L446.85 436.39 L447.20 436.44 L447.55 436.42 L447.90 436.40 L448.25 436.45 L448.60 436.50 L448.95 436.47 L449.30 436.43 L449.65 436.37 L450.00 436.36 L450.35 436.31 L450.70 436.39 L451.05 436.46 L451.40 436.50 L451.75 436.46 L452.10 436.44 L452.45 436.34 L452.80 436.30 L453.15 436.32 L453.50 436.35 L453.85 436.38 L454.20 436.43 L454.55 436.45 L454.90 436.49 L455.25 436.48 L455.60 436.50 L455.95 436.49 L456.30 436.50 L456.65 436.50 L457.00 436.45 L457.35 436.37 L457.70 436.37 L458.05 436.45 L458.40 436.42 L458.75 436.40 L459.10 436.41 L459.45 436.43 L459.80 436.47 L460.15 436.42 L460.50 436.45 L460.85 436.38 L461.20 436.43 L461.55 436.40 L461.90 436.48 L462.25 436.46 L462.60 436.48 L462.95 436.50 L463.30 436.50 L463.65 436.50 L464.00 436.45 L464.35 436.34 L464.70 436.28 L465.05 436.27 L465.40 436.25 L465.75 436.35 L466.10 436.46 L466.45 436.50 L466.80 436.49 L467.15 436.49 L467.50 436.46 L467.85 436.50 L468.20 436.45 L468.55 436.47 L468.90 436.45 L469.25 436.50 L469.60 436.42 L469.95 436.45 L470.30 436.46 L470.65 436.48 L471.00 436.40 L471.35 436.41 L471.70 436.37 L472.05 436.33 L472.40 436.27 L472.75 436.35 L473.10 436.47 L473.45 436.50 L473.80 436.50 L473.80 437.10 Z" fill="#b3143c" opacity="1.0"/>
<path d="M374.40 444.20 L374.40 443.60 L374.75 443.59 L375.10 443.47 L375.45 443.44 L375.80 443.40 L376.15 443.41 L376.50 443.49 L376.85 443.49 L377.20 443.50 L377.55 443.51 L377.90 443.49 L378.25 443.52 L378.60 443.47 L378.95 443.58 L379.30 443.52 L379.65 443.53 L380.00 443.44 L380.35 443.44 L380.70 443.43 L381.05 443.46 L381.40 443.52 L381.75 443.56 L382.10 443.53 L382.45 443.45 L382.80 443.49 L383.15 443.60 L383.50 443.60 L383.85 443.60 L384.20 443.60 L384.55 443.60 L384.90 443.60 L385.25 443.55 L385.60 443.51 L385.95 443.40 L386.30 443.50 L386.65 443.44 L387.00 440.86 L387.35 440.11 L387.70 443.30 L388.05 443.55 L388.40 443.60 L388.75 443.59 L389.10 443.46 L389.45 443.42 L389.80 443.37 L390.15 443.40 L390.50 443.43 L390.85 443.49 L391.20 443.49 L391.55 443.44 L391.90 443.45 L392.25 443.56 L392.60 443.44 L392.95 441.23 L393.30 439.60 L393.65 443.02 L394.00 443.56 L394.35 442.83 L394.70 440.10 L395.05 442.73 L395.40 443.44 L395.75 443.25 L396.10 441.02 L396.45 442.27 L396.80 443.47 L397.15 443.46 L397.50 443.53 L397.85 443.60 L398.20 443.60 L398.55 443.60 L398.90 443.58 L399.25 443.45 L399.60 443.44 L399.95 443.50 L400.30 443.58 L400.65 443.60 L401.00 443.60 L401.35 443.60 L401.70 443.60 L402.05 443.60 L402.40 443.60 L402.75 443.56 L403.10 443.45 L403.45 443.51 L403.80 443.57 L404.15 443.58 L404.50 443.56 L404.85 443.49 L405.20 443.59 L405.55 443.49 L405.90 443.43 L406.25 443.38 L406.60 443.51 L406.95 443.60 L407.30 443.58 L407.65 443.51 L408.00 443.52 L408.35 443.57 L408.70 443.60 L409.05 443.60 L409.40 443.56 L409.75 443.51 L410.10 443.50 L410.45 443.60 L410.80 443.55 L411.15 443.56 L411.50 443.53 L411.85 443.52 L412.20 443.54 L412.55 443.58 L412.90 443.60 L413.25 443.53 L413.60 443.54 L413.95 443.59 L414.30 443.56 L414.65 443.49 L415.00 443.48 L415.35 443.60 L415.70 443.60 L416.05 443.60 L416.40 443.48 L416.75 443.42 L417.10 443.36 L417.45 443.44 L417.80 443.54 L418.15 443.60 L418.50 443.60 L418.85 443.60 L419.20 443.60 L419.55 443.60 L419.90 443.47 L420.25 443.46 L420.60 443.59 L420.95 443.58 L421.30 443.57 L421.65 443.54 L422.00 443.60 L422.35 443.60 L422.70 443.60 L423.05 443.60 L423.40 443.57 L423.75 443.56 L424.10 443.55 L424.45 443.60 L424.80 443.54 L425.15 443.48 L425.50 443.36 L425.85 443.40 L426.20 443.52 L426.55 443.55 L426.90 443.60 L427.25 443.52 L427.60 443.58 L427.95 443.45 L428.30 443.53 L428.65 443.46 L429.00 443.52 L429.35 443.53 L429.70 443.57 L430.05 443.58 L430.40 443.60 L430.75 443.59 L431.10 443.57 L431.45 443.48 L431.80 443.52 L432.15 443.50 L432.50 443.58 L432.85 443.55 L433.20 443.60 L433.55 443.52 L433.90 443.57 L434.25 443.57 L434.60 443.60 L434.95 443.60 L435.30 443.60 L435.65 443.60 L436.00 443.60 L436.35 443.57 L436.70 443.56 L437.05 443.54 L437.40 443.60 L437.75 443.53 L438.10 443.45 L438.45 443.37 L438.80 443.42 L439.15 443.48 L439.50 443.55 L439.85 443.60 L440.20 443.57 L440.55 443.52 L440.90 443.38 L441.25 443.35 L441.60 443.39 L441.95 443.40 L442.30 443.49 L442.65 443.50 L443.00 443.60 L443.35 443.50 L443.70 443.51 L444.05 443.51 L444.40 443.50 L444.75 443.48 L445.10 443.48 L445.45 443.50 L445.80 443.50 L446.15 443.43 L446.50 443.43 L446.85 443.48 L447.20 443.53 L447.55 443.58 L447.90 443.60 L448.25 443.53 L448.60 443.55 L448.95 443.55 L449.30 443.60 L449.65 443.60 L450.00 443.60 L450.35 443.50 L450.70 443.40 L451.05 443.36 L451.40 443.41 L451.75 443.41 L452.10 443.50 L452.45 443.53 L452.80 443.51 L453.15 443.52 L453.50 443.48 L453.85 443.54 L454.20 443.57 L454.55 443.58 L454.90 443.54 L455.25 443.41 L455.60 443.43 L455.95 443.42 L456.30 443.55 L456.65 443.47 L457.00 443.51 L457.35 443.38 L457.70 443.46 L458.05 443.47 L458.40 443.47 L458.75 443.51 L459.10 443.57 L459.45 443.58 L459.80 443.48 L460.15 443.47 L460.50 443.50 L460.85 443.56 L461.20 443.55 L461.55 443.50 L461.90 443.54 L462.25 443.46 L462.60 443.53 L462.95 443.55 L463.30 443.52 L463.65 443.57 L464.00 443.57 L464.35 443.60 L464.70 443.60 L465.05 443.60 L465.40 443.60 L465.75 443.59 L466.10 443.55 L466.45 443.46 L466.80 443.58 L467.15 443.60 L467.50 443.60 L467.85 443.60 L468.20 443.59 L468.55 443.52 L468.90 443.50 L469.25 443.60 L469.60 443.60 L469.95 443.60 L470.30 443.59 L470.65 443.60 L471.00 443.56 L471.35 443.53 L471.70 443.51 L472.05 443.59 L472.40 443.56 L472.75 443.60 L473.10 443.52 L473.45 443.47 L473.80 443.32 L473.80 444.20 Z" fill="#4e2068" opacity="1.0"/>
<path d="M374.40 450.97 L374.40 450.33 L374.75 450.36 L375.10 450.33 L375.45 450.32 L375.80 450.27 L376.15 450.32 L376.50 450.34 L376.85 450.34 L377.20 450.38 L377.55 450.39 L377.90 450.43 L378.25 450.43 L378.60 450.38 L378.95 450.37 L379.30 450.29 L379.65 450.42 L380.00 450.32 L380.35 450.36 L380.70 450.25 L381.05 450.38 L381.40 450.36 L381.75 450.35 L382.10 450.32 L382.45 450.40 L382.80 450.43 L383.15 450.39 L383.50 450.29 L383.85 450.34 L384.20 450.41 L384.55 450.38 L384.90 450.35 L385.25 450.39 L385.60 450.39 L385.95 450.31 L386.30 450.25 L386.65 450.28 L387.00 450.29 L387.35 450.23 L387.70 450.31 L388.05 450.31 L388.40 450.30 L388.75 450.20 L389.10 450.24 L389.45 450.32 L389.80 450.29 L390.15 450.21 L390.50 450.15 L390.85 450.22 L391.20 450.24 L391.55 450.23 L391.90 450.23 L392.25 450.35 L392.60 450.39 L392.95 450.43 L393.30 450.42 L393.65 450.43 L394.00 450.37 L394.35 450.32 L394.70 450.28 L395.05 450.21 L395.40 450.26 L395.75 450.24 L396.10 450.34 L396.45 450.33 L396.80 450.36 L397.15 450.26 L397.50 450.23 L397.85 450.23 L398.20 450.25 L398.55 450.28 L398.90 450.31 L399.25 450.29 L399.60 450.34 L399.95 450.42 L400.30 450.43 L400.65 450.34 L401.00 450.30 L401.35 450.31 L401.70 450.33 L402.05 450.37 L402.40 450.43 L402.75 450.39 L403.10 450.31 L403.45 450.29 L403.80 450.41 L404.15 450.35 L404.50 450.42 L404.85 450.38 L405.20 450.41 L405.55 450.27 L405.90 450.21 L406.25 450.27 L406.60 450.30 L406.95 450.31 L407.30 450.27 L407.65 450.27 L408.00 450.29 L408.35 450.29 L408.70 450.38 L409.05 450.34 L409.40 450.41 L409.75 450.43 L410.10 450.43 L410.45 450.43 L410.80 450.34 L411.15 450.41 L411.50 450.35 L411.85 450.43 L412.20 450.40 L412.55 450.38 L412.90 450.39 L413.25 450.38 L413.60 450.32 L413.95 450.33 L414.30 450.38 L414.65 450.43 L415.00 450.43 L415.35 450.43 L415.70 450.42 L416.05 450.28 L416.40 450.28 L416.75 450.30 L417.10 450.36 L417.45 450.33 L417.80 450.33 L418.15 450.40 L418.50 450.33 L418.85 450.36 L419.20 450.27 L419.55 450.34 L419.90 450.42 L420.25 450.43 L420.60 450.42 L420.95 450.35 L421.30 450.33 L421.65 450.37 L422.00 450.35 L422.35 450.32 L422.70 450.26 L423.05 450.28 L423.40 450.38 L423.75 450.31 L424.10 450.36 L424.45 450.40 L424.80 450.43 L425.15 450.43 L425.50 450.35 L425.85 450.40 L426.20 450.32 L426.55 450.33 L426.90 450.30 L427.25 450.33 L427.60 450.41 L427.95 450.32 L428.30 450.31 L428.65 450.27 L429.00 450.35 L429.35 450.43 L429.70 450.39 L430.05 450.30 L430.40 450.22 L430.75 450.19 L431.10 450.27 L431.45 450.22 L431.80 450.24 L432.15 450.17 L432.50 450.24 L432.85 450.29 L433.20 450.43 L433.55 450.35 L433.90 450.42 L434.25 450.33 L434.60 450.39 L434.95 450.38 L435.30 450.41 L435.65 450.43 L436.00 450.43 L436.35 450.43 L436.70 450.43 L437.05 450.35 L437.40 450.31 L437.75 450.21 L438.10 450.19 L438.45 450.26 L438.80 450.31 L439.15 450.34 L439.50 450.26 L439.85 450.33 L440.20 450.39 L440.55 450.42 L440.90 450.39 L441.25 450.30 L441.60 450.33 L441.95 450.27 L442.30 450.40 L442.65 450.33 L443.00 450.28 L443.35 450.14 L443.70 450.23 L444.05 450.25 L444.40 450.25 L444.75 450.29 L445.10 450.41 L445.45 450.43 L445.80 450.32 L446.15 450.32 L446.50 450.30 L446.85 450.35 L447.20 450.28 L447.55 450.39 L447.90 450.41 L448.25 450.41 L448.60 450.40 L448.95 450.34 L449.30 450.30 L449.65 450.30 L450.00 450.35 L450.35 450.37 L450.70 450.25 L451.05 450.19 L451.40 450.14 L451.75 450.28 L452.10 450.37 L452.45 450.43 L452.80 450.38 L453.15 450.43 L453.50 450.33 L453.85 450.35 L454.20 450.26 L454.55 450.24 L454.90 450.20 L455.25 450.19 L455.60 450.24 L455.95 450.29 L456.30 450.32 L456.65 450.42 L457.00 450.43 L457.35 450.43 L457.70 450.39 L458.05 450.34 L458.40 450.32 L458.75 450.32 L459.10 450.28 L459.45 450.29 L459.80 450.21 L460.15 450.29 L460.50 450.33 L460.85 450.38 L461.20 450.33 L461.55 450.41 L461.90 450.43 L462.25 450.43 L462.60 450.40 L462.95 450.30 L463.30 450.28 L463.65 450.31 L464.00 450.36 L464.35 450.34 L464.70 450.39 L465.05 450.41 L465.40 450.34 L465.75 450.24 L466.10 450.28 L466.45 450.41 L466.80 450.42 L467.15 450.36 L467.50 450.28 L467.85 450.32 L468.20 450.30 L468.55 450.25 L468.90 450.33 L469.25 450.29 L469.60 450.39 L469.95 450.40 L470.30 450.43 L470.65 450.43 L471.00 450.33 L471.35 450.29 L471.70 450.22 L472.05 450.31 L472.40 450.35 L472.75 450.41 L473.10 450.35 L473.45 450.30 L473.80 450.28 L473.80 450.97 Z" fill="#f2d49a" opacity="1.0"/>
<path d="M374.40 457.80 L374.40 457.19 L374.75 457.15 L375.10 457.10 L375.45 457.10 L375.80 457.10 L376.15 457.20 L376.50 457.13 L376.85 457.16 L377.20 457.11 L377.55 457.20 L377.90 457.20 L378.25 457.20 L378.60 457.14 L378.95 457.05 L379.30 457.12 L379.65 457.11 L380.00 457.19 L380.35 457.20 L380.70 457.20 L381.05 457.20 L381.40 457.20 L381.75 457.20 L382.10 457.18 L382.45 457.15 L382.80 457.03 L383.15 457.12 L383.50 457.10 L383.85 457.18 L384.20 457.09 L384.55 457.14 L384.90 457.03 L385.25 457.05 L385.60 456.93 L385.95 457.00 L386.30 456.76 L386.65 456.41 L387.00 456.07 L387.35 456.08 L387.70 456.38 L388.05 456.71 L388.40 456.88 L388.75 456.88 L389.10 457.03 L389.45 457.11 L389.80 457.15 L390.15 457.14 L390.50 457.08 L390.85 457.08 L391.20 457.09 L391.55 457.18 L391.90 457.18 L392.25 457.03 L392.60 456.83 L392.95 456.70 L393.30 456.39 L393.65 456.19 L394.00 456.04 L394.35 456.23 L394.70 456.56 L395.05 456.88 L395.40 457.07 L395.75 456.48 L396.10 452.49 L396.45 454.42 L396.80 457.06 L397.15 457.20 L397.50 457.20 L397.85 457.14 L398.20 457.10 L398.55 457.05 L398.90 457.11 L399.25 457.03 L399.60 457.00 L399.95 456.93 L400.30 456.95 L400.65 456.96 L401.00 456.97 L401.35 457.06 L401.70 457.08 L402.05 457.16 L402.40 457.07 L402.75 457.12 L403.10 457.02 L403.45 457.13 L403.80 457.12 L404.15 457.16 L404.50 457.10 L404.85 457.12 L405.20 457.20 L405.55 457.17 L405.90 457.17 L406.25 457.11 L406.60 457.12 L406.95 457.07 L407.30 457.08 L407.65 457.19 L408.00 457.12 L408.35 457.10 L408.70 457.02 L409.05 457.10 L409.40 457.08 L409.75 457.13 L410.10 457.16 L410.45 457.20 L410.80 457.16 L411.15 457.05 L411.50 457.03 L411.85 457.04 L412.20 457.03 L412.55 457.01 L412.90 456.96 L413.25 457.07 L413.60 457.03 L413.95 457.07 L414.30 457.02 L414.65 457.06 L415.00 457.16 L415.35 457.20 L415.70 457.20 L416.05 457.20 L416.40 457.16 L416.75 457.07 L417.10 457.14 L417.45 457.06 L417.80 457.04 L418.15 457.05 L418.50 457.09 L418.85 457.17 L419.20 457.08 L419.55 457.16 L419.90 457.05 L420.25 457.11 L420.60 457.11 L420.95 457.10 L421.30 457.16 L421.65 457.07 L422.00 457.19 L422.35 457.20 L422.70 457.18 L423.05 457.02 L423.40 456.50 L423.75 455.82 L424.10 455.94 L424.45 456.77 L424.80 457.04 L425.15 457.13 L425.50 457.05 L425.85 457.20 L426.20 457.20 L426.55 457.20 L426.90 457.16 L427.25 457.14 L427.60 457.16 L427.95 457.20 L428.30 457.20 L428.65 457.20 L429.00 457.19 L429.35 457.20 L429.70 457.18 L430.05 457.08 L430.40 457.08 L430.75 457.16 L431.10 457.18 L431.45 457.15 L431.80 457.09 L432.15 457.04 L432.50 457.08 L432.85 457.07 L433.20 457.20 L433.55 457.20 L433.90 457.20 L434.25 457.20 L434.60 457.20 L434.95 457.20 L435.30 457.18 L435.65 457.11 L436.00 457.05 L436.35 457.11 L436.70 457.15 L437.05 457.09 L437.40 457.07 L437.75 457.04 L438.10 457.18 L438.45 457.20 L438.80 457.20 L439.15 457.20 L439.50 457.20 L439.85 457.17 L440.20 457.20 L440.55 457.15 L440.90 457.18 L441.25 457.11 L441.60 457.02 L441.95 456.94 L442.30 457.01 L442.65 457.01 L443.00 457.02 L443.35 457.07 L443.70 457.20 L444.05 457.20 L444.40 457.20 L444.75 457.20 L445.10 457.19 L445.45 457.18 L445.80 457.20 L446.15 457.20 L446.50 457.20 L446.85 457.10 L447.20 457.01 L447.55 456.95 L447.90 457.05 L448.25 457.06 L448.60 457.15 L448.95 457.10 L449.30 457.14 L449.65 457.15 L450.00 457.16 L450.35 457.20 L450.70 457.11 L451.05 457.16 L451.40 457.08 L451.75 457.18 L452.10 457.20 L452.45 457.20 L452.80 457.16 L453.15 457.06 L453.50 457.08 L453.85 457.15 L454.20 457.19 L454.55 457.13 L454.90 457.16 L455.25 457.19 L455.60 457.14 L455.95 457.18 L456.30 457.18 L456.65 457.20 L457.00 457.20 L457.35 457.18 L457.70 457.15 L458.05 457.18 L458.40 457.13 L458.75 457.10 L459.10 457.09 L459.45 457.20 L459.80 457.20 L460.15 457.20 L460.50 457.17 L460.85 457.07 L461.20 457.11 L461.55 457.08 L461.90 457.05 L462.25 457.01 L462.60 457.13 L462.95 457.20 L463.30 457.20 L463.65 457.20 L464.00 457.14 L464.35 457.14 L464.70 457.15 L465.05 457.20 L465.40 457.20 L465.75 457.20 L466.10 457.12 L466.45 457.03 L466.80 457.04 L467.15 457.18 L467.50 457.20 L467.85 457.20 L468.20 457.20 L468.55 457.14 L468.90 457.13 L469.25 457.11 L469.60 457.15 L469.95 457.05 L470.30 457.10 L470.65 457.11 L471.00 457.16 L471.35 457.15 L471.70 457.20 L472.05 457.20 L472.40 457.20 L472.75 457.15 L473.10 457.05 L473.45 457.00 L473.80 457.00 L473.80 457.80 Z" fill="#d98a12" opacity="1.0"/>
<path d="M374.40 464.80 L374.40 464.07 L374.75 463.99 L375.10 463.99 L375.45 464.07 L375.80 464.14 L376.15 464.19 L376.50 464.17 L376.85 464.13 L377.20 464.07 L377.55 464.08 L377.90 464.05 L378.25 464.03 L378.60 464.01 L378.95 464.02 L379.30 464.00 L379.65 464.04 L380.00 464.02 L380.35 463.99 L380.70 464.05 L381.05 464.04 L381.40 464.17 L381.75 464.04 L382.10 464.10 L382.45 464.00 L382.80 464.08 L383.15 464.14 L383.50 464.20 L383.85 464.20 L384.20 464.20 L384.55 464.20 L384.90 464.19 L385.25 464.12 L385.60 464.01 L385.95 463.99 L386.30 464.00 L386.65 464.11 L387.00 464.13 L387.35 464.18 L387.70 464.12 L388.05 464.13 L388.40 464.13 L388.75 464.17 L389.10 464.20 L389.45 464.20 L389.80 464.11 L390.15 464.09 L390.50 464.02 L390.85 464.04 L391.20 464.13 L391.55 464.09 L391.90 464.12 L392.25 464.08 L392.60 464.09 L392.95 464.10 L393.30 464.16 L393.65 464.18 L394.00 464.20 L394.35 464.16 L394.70 464.20 L395.05 464.17 L395.40 464.06 L395.75 462.86 L396.10 459.96 L396.45 459.62 L396.80 462.54 L397.15 463.92 L397.50 463.93 L397.85 463.06 L398.20 461.62 L398.55 460.95 L398.90 462.01 L399.25 463.24 L399.60 463.22 L399.95 462.09 L400.30 461.32 L400.65 462.03 L401.00 463.28 L401.35 463.85 L401.70 464.01 L402.05 464.11 L402.40 464.16 L402.75 464.20 L403.10 464.20 L403.45 464.20 L403.80 464.19 L404.15 464.16 L404.50 464.15 L404.85 464.17 L405.20 464.08 L405.55 464.05 L405.90 464.00 L406.25 464.00 L406.60 464.11 L406.95 464.15 L407.30 464.15 L407.65 464.14 L408.00 464.17 L408.35 464.19 L408.70 464.18 L409.05 464.20 L409.40 464.20 L409.75 464.20 L410.10 464.13 L410.45 464.02 L410.80 463.95 L411.15 463.93 L411.50 463.93 L411.85 463.99 L412.20 464.03 L412.55 464.18 L412.90 464.15 L413.25 464.11 L413.60 464.06 L413.95 464.08 L414.30 464.20 L414.65 464.11 L415.00 464.13 L415.35 464.08 L415.70 464.19 L416.05 464.12 L416.40 464.04 L416.75 464.01 L417.10 464.07 L417.45 464.17 L417.80 464.13 L418.15 464.11 L418.50 464.02 L418.85 464.13 L419.20 464.15 L419.55 464.13 L419.90 464.13 L420.25 464.11 L420.60 464.20 L420.95 464.19 L421.30 464.20 L421.65 464.15 L422.00 464.13 L422.35 464.10 L422.70 464.12 L423.05 464.14 L423.40 464.20 L423.75 463.93 L424.10 462.00 L424.45 461.67 L424.80 463.71 L425.15 464.10 L425.50 464.02 L425.85 464.11 L426.20 464.09 L426.55 464.15 L426.90 464.03 L427.25 464.08 L427.60 463.97 L427.95 464.05 L428.30 464.04 L428.65 464.03 L429.00 464.05 L429.35 464.10 L429.70 464.09 L430.05 464.00 L430.40 464.03 L430.75 464.05 L431.10 464.09 L431.45 464.08 L431.80 464.18 L432.15 464.20 L432.50 464.19 L432.85 464.20 L433.20 464.09 L433.55 464.09 L433.90 463.95 L434.25 464.06 L434.60 464.06 L434.95 464.20 L435.30 464.20 L435.65 464.20 L436.00 464.19 L436.35 464.09 L436.70 464.07 L437.05 464.02 L437.40 464.07 L437.75 464.08 L438.10 464.06 L438.45 463.97 L438.80 464.00 L439.15 464.03 L439.50 464.18 L439.85 464.15 L440.20 464.10 L440.55 464.08 L440.90 464.11 L441.25 464.19 L441.60 464.14 L441.95 464.20 L442.30 464.20 L442.65 464.20 L443.00 464.17 L443.35 464.07 L443.70 464.00 L444.05 463.97 L444.40 463.97 L444.75 464.06 L445.10 464.08 L445.45 464.09 L445.80 464.11 L446.15 464.20 L446.50 464.20 L446.85 464.19 L447.20 464.06 L447.55 464.05 L447.90 464.01 L448.25 464.06 L448.60 464.20 L448.95 464.20 L449.30 464.20 L449.65 464.12 L450.00 464.09 L450.35 464.20 L450.70 464.20 L451.05 464.20 L451.40 464.19 L451.75 464.19 L452.10 464.18 L452.45 464.18 L452.80 464.16 L453.15 464.20 L453.50 464.19 L453.85 464.13 L454.20 464.15 L454.55 464.12 L454.90 464.17 L455.25 464.16 L455.60 464.09 L455.95 464.10 L456.30 464.11 L456.65 464.19 L457.00 464.15 L457.35 464.17 L457.70 464.14 L458.05 464.06 L458.40 464.09 L458.75 464.12 L459.10 464.12 L459.45 464.14 L459.80 464.10 L460.15 464.20 L460.50 464.12 L460.85 464.11 L461.20 464.13 L461.55 464.20 L461.90 464.20 L462.25 464.10 L462.60 464.03 L462.95 463.99 L463.30 464.06 L463.65 464.03 L464.00 464.07 L464.35 464.03 L464.70 464.04 L465.05 464.03 L465.40 464.04 L465.75 464.10 L466.10 464.07 L466.45 464.09 L466.80 464.05 L467.15 464.09 L467.50 464.13 L467.85 464.17 L468.20 464.13 L468.55 464.15 L468.90 464.13 L469.25 464.18 L469.60 464.14 L469.95 464.18 L470.30 464.20 L470.65 464.19 L471.00 464.18 L471.35 464.15 L471.70 464.20 L472.05 464.20 L472.40 464.18 L472.75 464.13 L473.10 464.07 L473.45 464.20 L473.80 464.20 L473.80 464.80 Z" fill="#e9b81c" opacity="1.0"/>
<path d="M374.40 471.70 L374.40 471.10 L374.75 471.01 L375.10 470.89 L375.45 470.91 L375.80 470.97 L376.15 471.09 L376.50 471.02 L376.85 471.08 L377.20 471.06 L377.55 471.10 L377.90 471.07 L378.25 470.98 L378.60 470.94 L378.95 471.01 L379.30 471.00 L379.65 471.05 L380.00 470.98 L380.35 471.08 L380.70 470.95 L381.05 471.03 L381.40 470.94 L381.75 470.95 L382.10 470.94 L382.45 471.05 L382.80 471.08 L383.15 471.10 L383.50 471.06 L383.85 471.10 L384.20 471.02 L384.55 471.10 L384.90 471.03 L385.25 471.10 L385.60 471.02 L385.95 471.02 L386.30 471.03 L386.65 471.07 L387.00 471.07 L387.35 470.99 L387.70 470.90 L388.05 471.01 L388.40 471.06 L388.75 471.10 L389.10 471.01 L389.45 470.99 L389.80 470.99 L390.15 471.10 L390.50 471.10 L390.85 471.10 L391.20 471.10 L391.55 471.10 L391.90 471.02 L392.25 470.96 L392.60 470.99 L392.95 470.99 L393.30 470.90 L393.65 470.82 L394.00 470.84 L394.35 470.97 L394.70 471.06 L395.05 471.10 L395.40 471.02 L395.75 470.22 L396.10 465.92 L396.45 468.05 L396.80 470.92 L397.15 471.05 L397.50 471.02 L397.85 470.96 L398.20 471.05 L398.55 470.99 L398.90 471.08 L399.25 471.02 L399.60 470.99 L399.95 470.88 L400.30 470.96 L400.65 470.99 L401.00 471.07 L401.35 471.00 L401.70 470.98 L402.05 470.92 L402.40 470.92 L402.75 470.94 L403.10 470.91 L403.45 470.89 L403.80 470.88 L404.15 470.86 L404.50 470.89 L404.85 470.99 L405.20 471.10 L405.55 471.08 L405.90 471.08 L406.25 470.97 L406.60 471.00 L406.95 470.99 L407.30 470.99 L407.65 470.99 L408.00 470.98 L408.35 471.06 L408.70 471.07 L409.05 471.00 L409.40 470.97 L409.75 470.94 L410.10 470.99 L410.45 470.94 L410.80 470.93 L411.15 470.84 L411.50 470.91 L411.85 471.02 L412.20 471.08 L412.55 471.09 L412.90 471.02 L413.25 471.08 L413.60 471.10 L413.95 471.10 L414.30 471.10 L414.65 471.10 L415.00 471.10 L415.35 471.01 L415.70 470.99 L416.05 470.94 L416.40 470.99 L416.75 470.89 L417.10 470.98 L417.45 471.01 L417.80 471.10 L418.15 471.06 L418.50 471.02 L418.85 470.89 L419.20 470.94 L419.55 470.91 L419.90 471.04 L420.25 470.97 L420.60 471.08 L420.95 471.08 L421.30 471.07 L421.65 471.07 L422.00 470.95 L422.35 470.94 L422.70 470.93 L423.05 470.70 L423.40 469.96 L423.75 470.21 L424.10 470.78 L424.45 470.88 L424.80 470.97 L425.15 470.94 L425.50 471.07 L425.85 471.03 L426.20 471.10 L426.55 471.01 L426.90 471.07 L427.25 471.10 L427.60 471.10 L427.95 471.10 L428.30 471.08 L428.65 471.10 L429.00 471.10 L429.35 471.10 L429.70 471.10 L430.05 471.08 L430.40 470.99 L430.75 470.97 L431.10 471.00 L431.45 471.08 L431.80 471.06 L432.15 471.01 L432.50 471.01 L432.85 471.09 L433.20 471.10 L433.55 471.09 L433.90 470.99 L434.25 471.02 L434.60 471.04 L434.95 471.10 L435.30 471.05 L435.65 470.93 L436.00 470.88 L436.35 470.87 L436.70 470.85 L437.05 470.82 L437.40 470.84 L437.75 470.92 L438.10 470.91 L438.45 471.00 L438.80 470.93 L439.15 470.91 L439.50 470.83 L439.85 470.83 L440.20 470.87 L440.55 470.90 L440.90 471.03 L441.25 471.03 L441.60 471.10 L441.95 470.99 L442.30 470.98 L442.65 470.85 L443.00 470.88 L443.35 470.96 L443.70 471.01 L444.05 471.05 L444.40 470.95 L444.75 470.95 L445.10 470.97 L445.45 470.99 L445.80 470.96 L446.15 470.93 L446.50 470.98 L446.85 471.00 L447.20 471.01 L447.55 471.05 L447.90 471.10 L448.25 471.10 L448.60 471.10 L448.95 471.10 L449.30 471.05 L449.65 471.03 L450.00 471.03 L450.35 471.04 L450.70 471.01 L451.05 471.02 L451.40 471.02 L451.75 471.07 L452.10 470.93 L452.45 470.90 L452.80 470.88 L453.15 470.90 L453.50 471.01 L453.85 470.99 L454.20 471.01 L454.55 470.92 L454.90 470.96 L455.25 471.04 L455.60 471.10 L455.95 471.10 L456.30 471.07 L456.65 471.03 L457.00 470.95 L457.35 470.93 L457.70 471.00 L458.05 471.00 L458.40 471.00 L458.75 470.94 L459.10 471.01 L459.45 471.09 L459.80 471.10 L460.15 471.10 L460.50 471.06 L460.85 471.05 L461.20 471.06 L461.55 471.02 L461.90 470.99 L462.25 470.88 L462.60 470.96 L462.95 471.03 L463.30 471.10 L463.65 471.09 L464.00 471.10 L464.35 471.10 L464.70 471.10 L465.05 471.05 L465.40 470.86 L465.75 470.38 L466.10 469.93 L466.45 470.07 L466.80 470.60 L467.15 470.97 L467.50 471.07 L467.85 471.00 L468.20 470.95 L468.55 470.91 L468.90 470.92 L469.25 471.01 L469.60 471.10 L469.95 471.10 L470.30 471.04 L470.65 470.99 L471.00 470.98 L471.35 471.02 L471.70 471.01 L472.05 471.02 L472.40 470.95 L472.75 471.02 L473.10 471.10 L473.45 471.08 L473.80 470.95 L473.80 471.70 Z" fill="#2b4b8c" opacity="1.0"/>
<text x="477.10" y="428.90" font-size="5.35" stroke="#222" stroke-width="0.05">p53</text>
<text x="477.10" y="435.60" font-size="5.35" stroke="#222" stroke-width="0.05">p53 CX-5461</text>
<text x="477.10" y="442.90" font-size="5.35" stroke="#222" stroke-width="0.05">GATA1</text>
<text x="477.10" y="450.60" font-size="5.35" stroke="#222" stroke-width="0.05">H3K27me3</text>
<text x="477.10" y="457.70" font-size="5.35" stroke="#222" stroke-width="0.05">H3K27Ac</text>
<text x="477.10" y="464.40" font-size="5.35" stroke="#222" stroke-width="0.05">H3K4me3</text>
<text x="477.10" y="470.70" font-size="5.35" stroke="#222" stroke-width="0.05">RNAPII</text>
<rect x="396.20" y="475.10" width="3.00" height="1.60" fill="#2b4b8c"/>
<rect x="399.20" y="475.65" width="60.20" height="0.50" fill="#b8b8e0"/>
<rect x="459.40" y="475.20" width="3.90" height="1.40" fill="#2b4b8c"/>
<text x="426.50" y="484.60" font-size="5.4" text-anchor="middle" fill="#4863a0" font-style="italic" stroke="#4863a0" stroke-width="0.05">CPEB4</text>
<text x="423.80" y="495.00" font-size="4.5" text-anchor="middle">20 kb</text>
<line x1="403.90" y1="498.00" x2="444.60" y2="498.00" stroke="#777" stroke-width="0.6"/>
<text x="349.20" y="505.80" font-size="4.35" textLength="20.40" lengthAdjust="spacingAndGlyphs">hg19 chr3:</text>
<text x="387.60" y="505.80" font-size="4.35" text-anchor="middle" textLength="24.10" lengthAdjust="spacingAndGlyphs">14,185,000</text>
<text x="427.30" y="505.80" font-size="4.35" text-anchor="middle" textLength="24.10" lengthAdjust="spacingAndGlyphs">14,205,000</text>
<text x="467.10" y="505.80" font-size="4.35" text-anchor="middle" textLength="24.10" lengthAdjust="spacingAndGlyphs">14,225,000</text>
<rect x="387.15" y="509.95" width="0.70" height="0.90" fill="#333"/>
<rect x="427.15" y="509.95" width="0.70" height="0.90" fill="#333"/>
<rect x="466.95" y="509.95" width="0.70" height="0.90" fill="#333"/>
<text x="369.60" y="513.95" font-size="4.4" text-anchor="end">200</text>
<line x1="372.40" y1="512.40" x2="374.40" y2="512.40" stroke="#444" stroke-width="0.5"/>
<text x="369.60" y="520.95" font-size="4.4" text-anchor="end">200</text>
<line x1="372.40" y1="519.40" x2="374.40" y2="519.40" stroke="#444" stroke-width="0.5"/>
<text x="369.60" y="527.55" font-size="4.4" text-anchor="end">50</text>
<line x1="372.40" y1="526.00" x2="374.40" y2="526.00" stroke="#444" stroke-width="0.5"/>
<text x="369.60" y="534.45" font-size="4.4" text-anchor="end">200</text>
<line x1="372.40" y1="532.90" x2="374.40" y2="532.90" stroke="#444" stroke-width="0.5"/>
<text x="369.60" y="541.55" font-size="4.4" text-anchor="end">200</text>
<line x1="372.40" y1="540.00" x2="374.40" y2="540.00" stroke="#444" stroke-width="0.5"/>
<text x="369.60" y="548.45" font-size="4.4" text-anchor="end">200</text>
<line x1="372.40" y1="546.90" x2="374.40" y2="546.90" stroke="#444" stroke-width="0.5"/>
<text x="369.60" y="555.45" font-size="4.4" text-anchor="end">200</text>
<line x1="372.40" y1="553.90" x2="374.40" y2="553.90" stroke="#444" stroke-width="0.5"/>
<line x1="374.40" y1="512.40" x2="374.40" y2="559.70" stroke="#555" stroke-width="0.7"/>
<path d="M374.40 518.40 L374.40 517.71 L374.75 517.66 L375.10 517.68 L375.45 517.60 L375.80 517.70 L376.15 517.69 L376.50 517.77 L376.85 517.80 L377.20 517.80 L377.55 517.78 L377.90 517.73 L378.25 517.78 L378.60 517.80 L378.95 517.75 L379.30 517.65 L379.65 517.60 L380.00 517.55 L380.35 517.65 L380.70 517.76 L381.05 517.80 L381.40 517.80 L381.75 517.79 L382.10 517.70 L382.45 517.67 L382.80 517.56 L383.15 517.61 L383.50 517.73 L383.85 517.72 L384.20 517.77 L384.55 517.80 L384.90 517.80 L385.25 517.74 L385.60 517.58 L385.95 517.58 L386.30 517.72 L386.65 517.80 L387.00 517.80 L387.35 517.72 L387.70 517.73 L388.05 517.74 L388.40 517.71 L388.75 517.64 L389.10 517.66 L389.45 517.71 L389.80 517.80 L390.15 517.79 L390.50 517.80 L390.85 517.78 L391.20 517.80 L391.55 517.66 L391.90 517.68 L392.25 517.71 L392.60 517.74 L392.95 517.76 L393.30 517.70 L393.65 517.70 L394.00 517.70 L394.35 517.70 L394.70 517.80 L395.05 517.80 L395.40 517.80 L395.75 517.80 L396.10 517.80 L396.45 517.78 L396.80 517.80 L397.15 517.80 L397.50 517.76 L397.85 517.68 L398.20 517.63 L398.55 517.62 L398.90 517.64 L399.25 517.61 L399.60 517.72 L399.95 517.73 L400.30 517.67 L400.65 517.60 L401.00 517.64 L401.35 517.63 L401.70 517.72 L402.05 517.67 L402.40 517.65 L402.75 517.68 L403.10 517.78 L403.45 517.80 L403.80 517.73 L404.15 517.73 L404.50 517.80 L404.85 517.79 L405.20 517.66 L405.55 517.52 L405.90 517.65 L406.25 517.69 L406.60 517.77 L406.95 517.72 L407.30 517.79 L407.65 517.75 L408.00 517.74 L408.35 517.76 L408.70 517.80 L409.05 517.80 L409.40 517.80 L409.75 517.78 L410.10 517.69 L410.45 517.61 L410.80 517.58 L411.15 517.53 L411.50 517.60 L411.85 517.66 L412.20 517.69 L412.55 517.67 L412.90 517.73 L413.25 517.75 L413.60 517.78 L413.95 517.73 L414.30 517.74 L414.65 517.73 L415.00 517.71 L415.35 517.74 L415.70 517.80 L416.05 517.73 L416.40 517.66 L416.75 517.64 L417.10 517.67 L417.45 517.67 L417.80 517.66 L418.15 517.74 L418.50 517.80 L418.85 517.80 L419.20 517.80 L419.55 517.78 L419.90 517.63 L420.25 517.57 L420.60 517.56 L420.95 517.70 L421.30 517.72 L421.65 517.72 L422.00 517.68 L422.35 517.77 L422.70 517.77 L423.05 517.72 L423.40 517.57 L423.75 517.71 L424.10 517.67 L424.45 517.73 L424.80 517.60 L425.15 517.69 L425.50 517.77 L425.85 517.80 L426.20 517.80 L426.55 517.79 L426.90 517.80 L427.25 517.80 L427.60 517.80 L427.95 517.73 L428.30 517.73 L428.65 517.80 L429.00 517.79 L429.35 517.77 L429.70 517.70 L430.05 517.80 L430.40 517.71 L430.75 517.71 L431.10 517.73 L431.45 517.80 L431.80 517.79 L432.15 517.77 L432.50 517.80 L432.85 517.80 L433.20 517.80 L433.55 517.80 L433.90 517.80 L434.25 517.80 L434.60 517.77 L434.95 517.65 L435.30 517.63 L435.65 517.64 L436.00 517.65 L436.35 517.56 L436.70 517.64 L437.05 517.66 L437.40 517.68 L437.75 517.59 L438.10 517.70 L438.45 517.71 L438.80 517.70 L439.15 517.62 L439.50 517.74 L439.85 517.80 L440.20 517.80 L440.55 517.80 L440.90 517.78 L441.25 517.77 L441.60 517.72 L441.95 517.75 L442.30 517.75 L442.65 517.79 L443.00 517.80 L443.35 517.80 L443.70 517.80 L444.05 517.77 L444.40 517.79 L444.75 517.79 L445.10 517.80 L445.45 517.80 L445.80 517.73 L446.15 517.68 L446.50 517.77 L446.85 517.80 L447.20 517.79 L447.55 517.72 L447.90 517.71 L448.25 517.76 L448.60 517.72 L448.95 517.70 L449.30 517.65 L449.65 517.76 L450.00 517.72 L450.35 517.80 L450.70 517.67 L451.05 517.67 L451.40 517.62 L451.75 517.66 L452.10 517.69 L452.45 517.73 L452.80 517.78 L453.15 517.77 L453.50 517.80 L453.85 517.80 L454.20 517.75 L454.55 517.64 L454.90 517.64 L455.25 517.64 L455.60 517.73 L455.95 517.63 L456.30 517.72 L456.65 517.68 L457.00 516.23 L457.35 512.96 L457.70 517.18 L458.05 517.80 L458.40 517.70 L458.75 517.68 L459.10 517.67 L459.45 517.69 L459.80 517.70 L460.15 517.64 L460.50 517.66 L460.85 517.63 L461.20 517.70 L461.55 517.68 L461.90 517.68 L462.25 517.59 L462.60 517.61 L462.95 517.69 L463.30 517.65 L463.65 517.66 L464.00 517.55 L464.35 517.66 L464.70 517.73 L465.05 517.73 L465.40 517.62 L465.75 517.56 L466.10 517.67 L466.45 517.79 L466.80 517.80 L467.15 517.80 L467.50 517.80 L467.85 517.80 L468.20 517.68 L468.55 517.62 L468.90 517.57 L469.25 517.68 L469.60 517.65 L469.95 517.76 L470.30 517.75 L470.65 517.79 L471.00 517.78 L471.35 517.80 L471.70 517.80 L472.05 517.80 L472.40 517.74 L472.75 517.80 L473.10 517.77 L473.45 517.73 L473.80 517.60 L473.80 518.40 Z" fill="#d9308a" opacity="1.0"/>
<path d="M374.40 525.10 L374.40 524.50 L374.75 524.43 L375.10 524.35 L375.45 524.30 L375.80 524.33 L376.15 524.43 L376.50 524.50 L376.85 524.50 L377.20 524.50 L377.55 524.41 L377.90 524.42 L378.25 524.50 L378.60 524.50 L378.95 524.50 L379.30 524.50 L379.65 524.45 L380.00 524.43 L380.35 524.37 L380.70 524.39 L381.05 524.30 L381.40 524.32 L381.75 524.27 L382.10 524.36 L382.45 524.37 L382.80 524.49 L383.15 524.50 L383.50 524.50 L383.85 524.44 L384.20 524.33 L384.55 524.31 L384.90 524.39 L385.25 524.49 L385.60 524.47 L385.95 524.45 L386.30 524.35 L386.65 524.33 L387.00 524.34 L387.35 524.41 L387.70 524.45 L388.05 524.35 L388.40 524.41 L388.75 524.36 L389.10 524.46 L389.45 524.43 L389.80 524.50 L390.15 524.50 L390.50 524.50 L390.85 524.50 L391.20 524.47 L391.55 524.50 L391.90 524.50 L392.25 524.50 L392.60 524.45 L392.95 524.40 L393.30 524.46 L393.65 524.50 L394.00 524.48 L394.35 524.34 L394.70 524.36 L395.05 524.47 L395.40 524.49 L395.75 524.35 L396.10 524.30 L396.45 524.29 L396.80 524.35 L397.15 524.27 L397.50 524.42 L397.85 524.50 L398.20 524.50 L398.55 524.46 L398.90 524.44 L399.25 524.45 L399.60 524.50 L399.95 524.50 L400.30 524.50 L400.65 524.40 L401.00 524.35 L401.35 524.37 L401.70 524.39 L402.05 524.43 L402.40 524.48 L402.75 524.47 L403.10 524.47 L403.45 524.40 L403.80 524.36 L404.15 524.29 L404.50 524.39 L404.85 524.50 L405.20 524.50 L405.55 524.46 L405.90 524.44 L406.25 524.50 L406.60 524.50 L406.95 524.50 L407.30 524.50 L407.65 524.43 L408.00 524.37 L408.35 524.23 L408.70 524.35 L409.05 524.36 L409.40 524.40 L409.75 524.40 L410.10 524.42 L410.45 524.42 L410.80 524.36 L411.15 524.37 L411.50 524.45 L411.85 524.50 L412.20 524.50 L412.55 524.49 L412.90 524.47 L413.25 524.49 L413.60 524.50 L413.95 524.47 L414.30 524.44 L414.65 524.31 L415.00 524.33 L415.35 524.36 L415.70 524.47 L416.05 524.50 L416.40 524.50 L416.75 524.50 L417.10 524.50 L417.45 524.42 L417.80 524.43 L418.15 524.44 L418.50 524.45 L418.85 524.37 L419.20 524.34 L419.55 524.32 L419.90 524.42 L420.25 524.50 L420.60 524.50 L420.95 524.46 L421.30 524.37 L421.65 524.37 L422.00 524.31 L422.35 524.31 L422.70 524.36 L423.05 524.34 L423.40 524.35 L423.75 524.34 L424.10 524.35 L424.45 524.40 L424.80 524.43 L425.15 524.46 L425.50 524.36 L425.85 524.39 L426.20 524.43 L426.55 524.50 L426.90 524.50 L427.25 524.47 L427.60 524.41 L427.95 524.46 L428.30 524.48 L428.65 524.46 L429.00 524.49 L429.35 524.47 L429.70 524.50 L430.05 524.49 L430.40 524.48 L430.75 524.44 L431.10 524.47 L431.45 524.42 L431.80 524.45 L432.15 524.42 L432.50 524.39 L432.85 524.37 L433.20 524.39 L433.55 524.43 L433.90 524.41 L434.25 524.35 L434.60 524.32 L434.95 524.36 L435.30 524.41 L435.65 524.47 L436.00 524.44 L436.35 524.42 L436.70 524.46 L437.05 524.49 L437.40 524.50 L437.75 524.50 L438.10 524.50 L438.45 524.50 L438.80 524.42 L439.15 524.37 L439.50 524.37 L439.85 524.50 L440.20 524.50 L440.55 524.45 L440.90 524.38 L441.25 524.47 L441.60 524.47 L441.95 524.44 L442.30 524.35 L442.65 524.34 L443.00 524.41 L443.35 524.44 L443.70 524.50 L444.05 524.44 L444.40 524.39 L444.75 524.34 L445.10 524.38 L445.45 524.45 L445.80 524.38 L446.15 524.46 L446.50 524.42 L446.85 524.50 L447.20 524.40 L447.55 524.34 L447.90 524.29 L448.25 524.30 L448.60 524.43 L448.95 524.36 L449.30 524.40 L449.65 524.30 L450.00 524.45 L450.35 524.47 L450.70 524.50 L451.05 524.48 L451.40 524.50 L451.75 524.50 L452.10 524.50 L452.45 524.37 L452.80 524.39 L453.15 524.41 L453.50 524.40 L453.85 524.31 L454.20 524.30 L454.55 524.37 L454.90 524.45 L455.25 524.50 L455.60 524.50 L455.95 524.49 L456.30 524.42 L456.65 524.45 L457.00 523.35 L457.35 521.01 L457.70 523.98 L458.05 524.38 L458.40 524.27 L458.75 524.32 L459.10 524.31 L459.45 524.43 L459.80 524.43 L460.15 524.50 L460.50 524.50 L460.85 524.50 L461.20 524.50 L461.55 524.50 L461.90 524.39 L462.25 524.38 L462.60 524.33 L462.95 524.34 L463.30 524.29 L463.65 524.31 L464.00 524.36 L464.35 524.35 L464.70 524.41 L465.05 524.42 L465.40 524.44 L465.75 524.40 L466.10 524.44 L466.45 524.43 L466.80 524.39 L467.15 524.40 L467.50 524.36 L467.85 524.44 L468.20 524.30 L468.55 524.39 L468.90 524.38 L469.25 524.43 L469.60 524.44 L469.95 524.48 L470.30 524.48 L470.65 524.47 L471.00 524.50 L471.35 524.50 L471.70 524.47 L472.05 524.36 L472.40 524.39 L472.75 524.45 L473.10 524.47 L473.45 524.46 L473.80 524.50 L473.80 525.10 Z" fill="#b3143c" opacity="1.0"/>
<path d="M374.40 532.20 L374.40 531.35 L374.75 531.38 L375.10 531.38 L375.45 531.47 L375.80 531.54 L376.15 531.56 L376.50 531.48 L376.85 531.40 L377.20 531.49 L377.55 531.47 L377.90 531.44 L378.25 531.35 L378.60 531.48 L378.95 531.60 L379.30 531.60 L379.65 531.60 L380.00 531.54 L380.35 531.40 L380.70 531.49 L381.05 531.52 L381.40 531.60 L381.75 531.53 L382.10 531.46 L382.45 531.39 L382.80 531.45 L383.15 531.53 L383.50 531.58 L383.85 531.60 L384.20 531.40 L384.55 528.70 L384.90 530.87 L385.25 531.44 L385.60 531.52 L385.95 531.51 L386.30 531.60 L386.65 531.60 L387.00 531.60 L387.35 531.54 L387.70 531.44 L388.05 531.51 L388.40 531.53 L388.75 531.60 L389.10 531.60 L389.45 531.55 L389.80 531.56 L390.15 531.54 L390.50 531.52 L390.85 531.57 L391.20 531.53 L391.55 531.57 L391.90 531.52 L392.25 531.55 L392.60 531.60 L392.95 531.60 L393.30 531.60 L393.65 531.58 L394.00 531.56 L394.35 531.60 L394.70 531.59 L395.05 531.52 L395.40 531.46 L395.75 531.56 L396.10 531.60 L396.45 531.60 L396.80 531.60 L397.15 531.55 L397.50 531.56 L397.85 531.45 L398.20 531.49 L398.55 531.52 L398.90 531.51 L399.25 531.58 L399.60 531.56 L399.95 531.60 L400.30 531.60 L400.65 531.59 L401.00 531.60 L401.35 531.47 L401.70 531.42 L402.05 531.46 L402.40 531.58 L402.75 531.60 L403.10 531.52 L403.45 531.51 L403.80 531.56 L404.15 531.52 L404.50 531.41 L404.85 531.40 L405.20 531.45 L405.55 531.44 L405.90 531.40 L406.25 531.44 L406.60 531.45 L406.95 531.46 L407.30 531.42 L407.65 531.42 L408.00 531.51 L408.35 531.60 L408.70 531.60 L409.05 531.60 L409.40 531.56 L409.75 531.45 L410.10 531.44 L410.45 531.50 L410.80 531.54 L411.15 531.52 L411.50 531.56 L411.85 531.49 L412.20 531.44 L412.55 531.49 L412.90 531.54 L413.25 531.51 L413.60 531.46 L413.95 531.54 L414.30 531.60 L414.65 531.60 L415.00 531.60 L415.35 531.53 L415.70 531.51 L416.05 531.50 L416.40 531.49 L416.75 531.51 L417.10 531.48 L417.45 531.50 L417.80 531.56 L418.15 531.60 L418.50 531.58 L418.85 531.47 L419.20 531.49 L419.55 531.59 L419.90 531.60 L420.25 531.54 L420.60 531.40 L420.95 531.44 L421.30 531.49 L421.65 531.60 L422.00 531.53 L422.35 531.60 L422.70 531.48 L423.05 531.55 L423.40 531.51 L423.75 531.60 L424.10 531.60 L424.45 531.60 L424.80 531.60 L425.15 531.60 L425.50 531.60 L425.85 531.55 L426.20 531.44 L426.55 531.43 L426.90 531.54 L427.25 531.59 L427.60 531.60 L427.95 531.58 L428.30 531.51 L428.65 531.52 L429.00 531.51 L429.35 531.58 L429.70 531.54 L430.05 531.60 L430.40 531.54 L430.75 531.47 L431.10 531.44 L431.45 531.45 L431.80 531.52 L432.15 531.42 L432.50 531.51 L432.85 531.57 L433.20 531.55 L433.55 531.54 L433.90 531.55 L434.25 531.60 L434.60 531.60 L434.95 531.55 L435.30 531.43 L435.65 531.44 L436.00 531.55 L436.35 531.60 L436.70 531.57 L437.05 531.52 L437.40 531.51 L437.75 531.60 L438.10 531.60 L438.45 531.54 L438.80 531.50 L439.15 531.46 L439.50 531.49 L439.85 531.44 L440.20 531.45 L440.55 531.43 L440.90 531.55 L441.25 531.60 L441.60 531.60 L441.95 531.53 L442.30 531.44 L442.65 531.38 L443.00 531.41 L443.35 531.52 L443.70 531.60 L444.05 531.60 L444.40 531.60 L444.75 531.60 L445.10 531.49 L445.45 531.55 L445.80 531.49 L446.15 531.60 L446.50 531.59 L446.85 531.56 L447.20 531.48 L447.55 531.43 L447.90 531.48 L448.25 531.60 L448.60 531.58 L448.95 531.53 L449.30 531.41 L449.65 531.38 L450.00 531.37 L450.35 531.48 L450.70 531.46 L451.05 531.58 L451.40 531.57 L451.75 531.60 L452.10 531.53 L452.45 531.46 L452.80 531.45 L453.15 531.45 L453.50 531.49 L453.85 531.58 L454.20 531.60 L454.55 531.60 L454.90 531.52 L455.25 531.50 L455.60 531.50 L455.95 531.48 L456.30 531.44 L456.65 531.32 L457.00 530.44 L457.35 529.63 L457.70 530.88 L458.05 531.48 L458.40 531.47 L458.75 531.46 L459.10 531.51 L459.45 531.55 L459.80 531.56 L460.15 531.60 L460.50 531.57 L460.85 531.56 L461.20 531.48 L461.55 531.44 L461.90 531.46 L462.25 531.43 L462.60 531.46 L462.95 531.46 L463.30 531.59 L463.65 531.60 L464.00 531.60 L464.35 531.60 L464.70 531.57 L465.05 531.60 L465.40 531.60 L465.75 531.60 L466.10 531.60 L466.45 531.60 L466.80 531.54 L467.15 531.52 L467.50 531.49 L467.85 531.55 L468.20 531.58 L468.55 531.57 L468.90 531.51 L469.25 531.43 L469.60 531.44 L469.95 531.46 L470.30 531.56 L470.65 531.60 L471.00 531.60 L471.35 531.55 L471.70 531.57 L472.05 531.54 L472.40 531.50 L472.75 531.41 L473.10 531.38 L473.45 531.45 L473.80 531.47 L473.80 532.20 Z" fill="#4e2068" opacity="1.0"/>
<path d="M374.40 539.27 L374.40 538.65 L374.75 538.68 L375.10 538.68 L375.45 538.56 L375.80 538.50 L376.15 538.55 L376.50 538.67 L376.85 538.70 L377.20 538.61 L377.55 538.47 L377.90 538.45 L378.25 538.60 L378.60 538.64 L378.95 538.63 L379.30 538.59 L379.65 538.60 L380.00 538.65 L380.35 538.64 L380.70 538.59 L381.05 538.67 L381.40 538.70 L381.75 538.73 L382.10 538.62 L382.45 538.57 L382.80 538.55 L383.15 538.65 L383.50 538.68 L383.85 538.73 L384.20 538.71 L384.55 538.70 L384.90 538.61 L385.25 538.67 L385.60 538.63 L385.95 538.69 L386.30 538.73 L386.65 538.70 L387.00 538.67 L387.35 538.64 L387.70 538.68 L388.05 538.73 L388.40 538.68 L388.75 538.71 L389.10 538.67 L389.45 538.73 L389.80 538.73 L390.15 538.73 L390.50 538.66 L390.85 538.54 L391.20 538.58 L391.55 538.55 L391.90 538.61 L392.25 538.60 L392.60 538.61 L392.95 538.63 L393.30 538.64 L393.65 538.71 L394.00 538.73 L394.35 538.67 L394.70 538.59 L395.05 538.48 L395.40 538.63 L395.75 538.62 L396.10 538.73 L396.45 538.58 L396.80 538.67 L397.15 538.69 L397.50 538.71 L397.85 538.73 L398.20 538.64 L398.55 538.73 L398.90 538.61 L399.25 538.73 L399.60 538.73 L399.95 538.73 L400.30 538.67 L400.65 538.57 L401.00 538.66 L401.35 538.67 L401.70 538.65 L402.05 538.54 L402.40 538.49 L402.75 538.52 L403.10 538.51 L403.45 538.57 L403.80 538.60 L404.15 538.64 L404.50 538.59 L404.85 538.64 L405.20 538.69 L405.55 538.69 L405.90 538.68 L406.25 538.70 L406.60 538.71 L406.95 538.59 L407.30 538.59 L407.65 538.71 L408.00 538.73 L408.35 538.71 L408.70 538.62 L409.05 538.60 L409.40 538.61 L409.75 538.70 L410.10 538.73 L410.45 538.73 L410.80 538.60 L411.15 538.58 L411.50 538.55 L411.85 538.60 L412.20 538.58 L412.55 538.58 L412.90 538.67 L413.25 538.73 L413.60 538.73 L413.95 538.73 L414.30 538.73 L414.65 538.63 L415.00 538.69 L415.35 538.73 L415.70 538.73 L416.05 538.73 L416.40 538.73 L416.75 538.73 L417.10 538.73 L417.45 538.71 L417.80 538.66 L418.15 538.60 L418.50 538.53 L418.85 538.58 L419.20 538.63 L419.55 538.72 L419.90 538.73 L420.25 538.71 L420.60 538.64 L420.95 538.63 L421.30 538.70 L421.65 538.73 L422.00 538.73 L422.35 538.66 L422.70 538.57 L423.05 538.61 L423.40 538.62 L423.75 538.69 L424.10 538.63 L424.45 538.69 L424.80 538.57 L425.15 538.50 L425.50 538.54 L425.85 538.54 L426.20 538.59 L426.55 538.51 L426.90 538.62 L427.25 538.61 L427.60 538.63 L427.95 538.52 L428.30 538.48 L428.65 538.50 L429.00 538.65 L429.35 538.67 L429.70 538.73 L430.05 538.61 L430.40 538.57 L430.75 538.45 L431.10 538.59 L431.45 538.64 L431.80 538.68 L432.15 538.57 L432.50 538.53 L432.85 538.61 L433.20 538.70 L433.55 538.73 L433.90 538.70 L434.25 538.66 L434.60 538.56 L434.95 538.58 L435.30 538.63 L435.65 538.67 L436.00 538.71 L436.35 538.68 L436.70 538.62 L437.05 538.65 L437.40 538.62 L437.75 538.65 L438.10 538.65 L438.45 538.59 L438.80 538.54 L439.15 538.56 L439.50 538.63 L439.85 538.66 L440.20 538.67 L440.55 538.73 L440.90 538.73 L441.25 538.71 L441.60 538.60 L441.95 538.58 L442.30 538.59 L442.65 538.65 L443.00 538.73 L443.35 538.73 L443.70 538.71 L444.05 538.62 L444.40 538.65 L444.75 538.63 L445.10 538.60 L445.45 538.47 L445.80 538.50 L446.15 538.58 L446.50 538.68 L446.85 538.73 L447.20 538.72 L447.55 538.73 L447.90 538.73 L448.25 538.73 L448.60 538.62 L448.95 538.64 L449.30 538.72 L449.65 538.73 L450.00 538.69 L450.35 538.65 L450.70 538.64 L451.05 538.67 L451.40 538.63 L451.75 538.59 L452.10 538.59 L452.45 538.58 L452.80 538.58 L453.15 538.58 L453.50 538.63 L453.85 538.58 L454.20 538.54 L454.55 538.52 L454.90 538.56 L455.25 538.56 L455.60 538.63 L455.95 538.68 L456.30 538.73 L456.65 538.69 L457.00 538.62 L457.35 538.58 L457.70 538.58 L458.05 538.58 L458.40 538.62 L458.75 538.60 L459.10 538.61 L459.45 538.59 L459.80 538.57 L460.15 538.69 L460.50 538.67 L460.85 538.68 L461.20 538.57 L461.55 538.65 L461.90 538.68 L462.25 538.69 L462.60 538.59 L462.95 538.53 L463.30 538.61 L463.65 538.69 L464.00 538.73 L464.35 538.73 L464.70 538.71 L465.05 538.73 L465.40 538.71 L465.75 538.68 L466.10 538.67 L466.45 538.73 L466.80 538.73 L467.15 538.73 L467.50 538.71 L467.85 538.67 L468.20 538.67 L468.55 538.73 L468.90 538.73 L469.25 538.73 L469.60 538.72 L469.95 538.57 L470.30 538.64 L470.65 538.65 L471.00 538.71 L471.35 538.73 L471.70 538.73 L472.05 538.73 L472.40 538.70 L472.75 538.73 L473.10 538.72 L473.45 538.73 L473.80 538.71 L473.80 539.27 Z" fill="#f2d49a" opacity="1.0"/>
<path d="M374.40 546.10 L374.40 545.33 L374.75 545.46 L375.10 545.50 L375.45 545.47 L375.80 545.35 L376.15 545.27 L376.50 545.36 L376.85 545.44 L377.20 545.48 L377.55 545.43 L377.90 545.35 L378.25 545.31 L378.60 545.31 L378.95 545.44 L379.30 545.41 L379.65 545.33 L380.00 545.22 L380.35 545.26 L380.70 545.30 L381.05 545.28 L381.40 545.28 L381.75 545.30 L382.10 545.37 L382.45 545.39 L382.80 545.47 L383.15 545.46 L383.50 545.50 L383.85 545.41 L384.20 545.50 L384.55 545.47 L384.90 545.49 L385.25 545.48 L385.60 545.49 L385.95 545.50 L386.30 545.41 L386.65 545.28 L387.00 545.35 L387.35 545.50 L387.70 545.50 L388.05 545.50 L388.40 545.41 L388.75 545.30 L389.10 545.35 L389.45 545.38 L389.80 545.39 L390.15 545.41 L390.50 545.34 L390.85 545.38 L391.20 545.43 L391.55 545.50 L391.90 545.50 L392.25 545.50 L392.60 545.38 L392.95 545.45 L393.30 545.43 L393.65 545.46 L394.00 545.42 L394.35 545.39 L394.70 545.45 L395.05 545.46 L395.40 545.50 L395.75 545.50 L396.10 545.45 L396.45 545.38 L396.80 545.42 L397.15 545.50 L397.50 545.50 L397.85 545.48 L398.20 545.44 L398.55 545.37 L398.90 545.48 L399.25 545.50 L399.60 545.50 L399.95 545.46 L400.30 545.46 L400.65 545.40 L401.00 545.50 L401.35 545.50 L401.70 545.42 L402.05 545.38 L402.40 545.45 L402.75 545.50 L403.10 545.50 L403.45 545.45 L403.80 545.50 L404.15 545.50 L404.50 545.48 L404.85 545.35 L405.20 545.30 L405.55 545.27 L405.90 545.29 L406.25 545.33 L406.60 545.42 L406.95 545.44 L407.30 545.44 L407.65 545.32 L408.00 545.33 L408.35 545.33 L408.70 545.33 L409.05 545.29 L409.40 545.37 L409.75 545.34 L410.10 545.33 L410.45 545.35 L410.80 545.46 L411.15 545.50 L411.50 545.50 L411.85 545.50 L412.20 545.49 L412.55 545.50 L412.90 545.45 L413.25 545.47 L413.60 545.50 L413.95 545.50 L414.30 545.50 L414.65 545.46 L415.00 545.36 L415.35 545.49 L415.70 545.50 L416.05 545.50 L416.40 545.47 L416.75 545.33 L417.10 545.38 L417.45 545.34 L417.80 545.33 L418.15 545.31 L418.50 545.36 L418.85 545.50 L419.20 545.46 L419.55 545.42 L419.90 545.30 L420.25 545.31 L420.60 545.38 L420.95 545.50 L421.30 545.50 L421.65 545.48 L422.00 545.49 L422.35 545.50 L422.70 545.47 L423.05 545.38 L423.40 545.29 L423.75 545.41 L424.10 545.42 L424.45 545.50 L424.80 545.45 L425.15 545.37 L425.50 545.31 L425.85 545.26 L426.20 545.29 L426.55 545.36 L426.90 545.38 L427.25 545.39 L427.60 545.32 L427.95 545.31 L428.30 545.39 L428.65 545.38 L429.00 545.39 L429.35 545.41 L429.70 545.44 L430.05 545.49 L430.40 545.42 L430.75 545.46 L431.10 545.50 L431.45 545.50 L431.80 545.43 L432.15 545.32 L432.50 545.40 L432.85 545.45 L433.20 545.50 L433.55 545.38 L433.90 545.34 L434.25 545.33 L434.60 545.43 L434.95 545.50 L435.30 545.50 L435.65 545.50 L436.00 545.45 L436.35 545.44 L436.70 545.38 L437.05 545.49 L437.40 545.50 L437.75 545.50 L438.10 545.50 L438.45 545.50 L438.80 545.50 L439.15 545.50 L439.50 545.45 L439.85 545.43 L440.20 545.44 L440.55 545.50 L440.90 545.50 L441.25 545.49 L441.60 545.49 L441.95 545.45 L442.30 545.41 L442.65 545.26 L443.00 545.21 L443.35 545.31 L443.70 545.41 L444.05 545.50 L444.40 545.50 L444.75 545.50 L445.10 545.47 L445.45 545.48 L445.80 545.47 L446.15 545.41 L446.50 545.32 L446.85 545.37 L447.20 545.45 L447.55 545.50 L447.90 545.50 L448.25 545.46 L448.60 545.33 L448.95 545.35 L449.30 545.37 L449.65 545.50 L450.00 545.50 L450.35 545.50 L450.70 545.50 L451.05 545.45 L451.40 545.38 L451.75 545.29 L452.10 545.32 L452.45 545.34 L452.80 545.32 L453.15 545.29 L453.50 545.28 L453.85 545.27 L454.20 545.40 L454.55 545.44 L454.90 545.50 L455.25 545.39 L455.60 545.40 L455.95 545.24 L456.30 544.80 L456.65 543.84 L457.00 542.68 L457.35 542.05 L457.70 542.39 L458.05 543.51 L458.40 544.52 L458.75 545.10 L459.10 545.24 L459.45 545.29 L459.80 545.26 L460.15 545.25 L460.50 545.33 L460.85 545.43 L461.20 545.50 L461.55 545.49 L461.90 545.43 L462.25 545.39 L462.60 545.32 L462.95 545.40 L463.30 545.49 L463.65 545.50 L464.00 545.50 L464.35 545.50 L464.70 545.50 L465.05 545.50 L465.40 545.50 L465.75 545.50 L466.10 545.50 L466.45 545.40 L466.80 545.48 L467.15 545.42 L467.50 545.50 L467.85 545.37 L468.20 545.45 L468.55 545.36 L468.90 545.45 L469.25 545.46 L469.60 545.47 L469.95 545.39 L470.30 545.29 L470.65 545.37 L471.00 545.33 L471.35 545.31 L471.70 545.24 L472.05 545.26 L472.40 545.26 L472.75 545.37 L473.10 545.36 L473.45 545.49 L473.80 545.49 L473.80 546.10 Z" fill="#d98a12" opacity="1.0"/>
<path d="M374.40 552.80 L374.40 552.11 L374.75 552.16 L375.10 552.20 L375.45 552.20 L375.80 552.20 L376.15 552.12 L376.50 552.09 L376.85 552.14 L377.20 552.15 L377.55 552.17 L377.90 552.18 L378.25 552.20 L378.60 552.20 L378.95 552.09 L379.30 551.99 L379.65 552.01 L380.00 552.05 L380.35 552.04 L380.70 551.98 L381.05 551.99 L381.40 552.08 L381.75 552.08 L382.10 552.07 L382.45 552.03 L382.80 552.05 L383.15 552.02 L383.50 552.02 L383.85 552.10 L384.20 552.20 L384.55 552.12 L384.90 552.08 L385.25 552.00 L385.60 552.12 L385.95 552.11 L386.30 552.06 L386.65 551.96 L387.00 552.00 L387.35 552.14 L387.70 552.18 L388.05 552.20 L388.40 552.19 L388.75 552.20 L389.10 552.08 L389.45 552.03 L389.80 552.08 L390.15 552.14 L390.50 552.16 L390.85 552.14 L391.20 552.13 L391.55 552.20 L391.90 552.15 L392.25 552.15 L392.60 552.01 L392.95 551.98 L393.30 552.03 L393.65 552.17 L394.00 552.20 L394.35 552.14 L394.70 552.03 L395.05 552.09 L395.40 552.13 L395.75 552.12 L396.10 552.08 L396.45 552.10 L396.80 552.20 L397.15 552.19 L397.50 552.19 L397.85 552.06 L398.20 552.04 L398.55 552.01 L398.90 552.13 L399.25 552.20 L399.60 552.20 L399.95 552.16 L400.30 552.15 L400.65 552.17 L401.00 552.20 L401.35 552.16 L401.70 552.14 L402.05 552.12 L402.40 552.09 L402.75 552.15 L403.10 552.10 L403.45 552.14 L403.80 552.08 L404.15 552.10 L404.50 552.03 L404.85 551.97 L405.20 552.07 L405.55 552.10 L405.90 552.17 L406.25 552.07 L406.60 552.14 L406.95 552.16 L407.30 552.19 L407.65 552.17 L408.00 552.09 L408.35 552.11 L408.70 552.10 L409.05 552.20 L409.40 552.20 L409.75 552.20 L410.10 552.20 L410.45 552.20 L410.80 552.20 L411.15 552.20 L411.50 552.19 L411.85 552.16 L412.20 552.12 L412.55 552.09 L412.90 552.09 L413.25 552.12 L413.60 552.14 L413.95 552.11 L414.30 552.12 L414.65 552.05 L415.00 552.02 L415.35 551.95 L415.70 552.08 L416.05 552.17 L416.40 552.20 L416.75 552.09 L417.10 552.06 L417.45 552.03 L417.80 552.07 L418.15 552.14 L418.50 552.12 L418.85 552.07 L419.20 552.01 L419.55 552.03 L419.90 552.14 L420.25 552.10 L420.60 552.13 L420.95 552.10 L421.30 552.07 L421.65 552.15 L422.00 552.18 L422.35 552.20 L422.70 552.13 L423.05 552.16 L423.40 552.14 L423.75 552.20 L424.10 552.14 L424.45 552.17 L424.80 552.09 L425.15 552.11 L425.50 552.06 L425.85 552.13 L426.20 552.04 L426.55 552.11 L426.90 552.13 L427.25 552.20 L427.60 552.14 L427.95 552.06 L428.30 552.05 L428.65 552.19 L429.00 552.19 L429.35 552.13 L429.70 552.12 L430.05 552.17 L430.40 552.16 L430.75 552.08 L431.10 551.98 L431.45 552.02 L431.80 552.09 L432.15 552.16 L432.50 552.14 L432.85 552.01 L433.20 552.04 L433.55 552.14 L433.90 552.16 L434.25 552.10 L434.60 552.10 L434.95 552.16 L435.30 552.12 L435.65 552.07 L436.00 552.06 L436.35 552.20 L436.70 552.11 L437.05 552.14 L437.40 552.06 L437.75 552.17 L438.10 552.08 L438.45 552.10 L438.80 552.05 L439.15 552.07 L439.50 552.00 L439.85 552.03 L440.20 552.02 L440.55 552.04 L440.90 552.07 L441.25 552.12 L441.60 552.15 L441.95 552.11 L442.30 552.08 L442.65 552.10 L443.00 552.06 L443.35 552.03 L443.70 552.07 L444.05 552.08 L444.40 552.19 L444.75 552.16 L445.10 552.16 L445.45 552.18 L445.80 552.09 L446.15 552.17 L446.50 552.04 L446.85 552.11 L447.20 552.05 L447.55 552.04 L447.90 552.08 L448.25 552.01 L448.60 552.04 L448.95 552.02 L449.30 552.09 L449.65 552.08 L450.00 552.15 L450.35 552.19 L450.70 552.20 L451.05 552.16 L451.40 552.05 L451.75 552.00 L452.10 552.09 L452.45 552.10 L452.80 552.05 L453.15 551.95 L453.50 552.04 L453.85 552.07 L454.20 552.18 L454.55 552.13 L454.90 552.12 L455.25 551.93 L455.60 551.39 L455.95 549.91 L456.30 547.81 L456.65 546.98 L457.00 548.35 L457.35 550.26 L457.70 550.68 L458.05 549.28 L458.40 547.49 L458.75 547.40 L459.10 549.15 L459.45 550.96 L459.80 551.76 L460.15 551.94 L460.50 552.06 L460.85 552.09 L461.20 552.20 L461.55 552.15 L461.90 552.18 L462.25 552.17 L462.60 552.14 L462.95 552.16 L463.30 552.14 L463.65 552.15 L464.00 552.14 L464.35 552.15 L464.70 552.15 L465.05 552.05 L465.40 552.02 L465.75 552.06 L466.10 552.10 L466.45 552.04 L466.80 552.04 L467.15 552.12 L467.50 552.13 L467.85 552.20 L468.20 552.10 L468.55 552.20 L468.90 552.19 L469.25 552.20 L469.60 552.13 L469.95 552.10 L470.30 552.12 L470.65 552.20 L471.00 552.17 L471.35 552.18 L471.70 552.16 L472.05 552.20 L472.40 552.20 L472.75 552.20 L473.10 552.20 L473.45 552.20 L473.80 552.20 L473.80 552.80 Z" fill="#e9b81c" opacity="1.0"/>
<path d="M374.40 559.70 L374.40 558.92 L374.75 558.91 L375.10 558.95 L375.45 558.95 L375.80 559.01 L376.15 558.99 L376.50 559.03 L376.85 559.08 L377.20 559.09 L377.55 559.02 L377.90 558.98 L378.25 559.01 L378.60 558.98 L378.95 559.04 L379.30 559.09 L379.65 559.10 L380.00 559.02 L380.35 558.98 L380.70 558.94 L381.05 559.01 L381.40 559.03 L381.75 559.08 L382.10 559.03 L382.45 559.07 L382.80 559.10 L383.15 559.10 L383.50 559.10 L383.85 559.10 L384.20 559.09 L384.55 559.04 L384.90 558.95 L385.25 559.03 L385.60 559.10 L385.95 559.05 L386.30 559.02 L386.65 559.00 L387.00 559.07 L387.35 559.06 L387.70 558.96 L388.05 558.95 L388.40 559.00 L388.75 559.10 L389.10 559.07 L389.45 558.99 L389.80 558.89 L390.15 558.99 L390.50 558.98 L390.85 559.01 L391.20 558.94 L391.55 559.07 L391.90 559.07 L392.25 559.06 L392.60 558.93 L392.95 558.89 L393.30 558.94 L393.65 559.03 L394.00 559.02 L394.35 558.94 L394.70 558.84 L395.05 558.89 L395.40 558.89 L395.75 559.04 L396.10 558.98 L396.45 559.09 L396.80 559.06 L397.15 559.10 L397.50 559.06 L397.85 559.05 L398.20 559.09 L398.55 559.06 L398.90 559.01 L399.25 558.97 L399.60 558.98 L399.95 558.97 L400.30 558.89 L400.65 558.95 L401.00 559.03 L401.35 559.10 L401.70 559.10 L402.05 559.10 L402.40 559.10 L402.75 559.10 L403.10 559.08 L403.45 558.94 L403.80 558.98 L404.15 559.02 L404.50 559.02 L404.85 558.96 L405.20 558.99 L405.55 559.08 L405.90 559.10 L406.25 559.07 L406.60 559.02 L406.95 558.97 L407.30 559.08 L407.65 559.10 L408.00 559.10 L408.35 559.06 L408.70 559.10 L409.05 559.10 L409.40 559.08 L409.75 559.01 L410.10 558.89 L410.45 558.94 L410.80 559.03 L411.15 559.00 L411.50 559.06 L411.85 559.07 L412.20 559.10 L412.55 559.10 L412.90 559.10 L413.25 559.08 L413.60 559.01 L413.95 559.00 L414.30 558.95 L414.65 558.96 L415.00 558.88 L415.35 558.93 L415.70 558.94 L416.05 558.95 L416.40 559.03 L416.75 559.07 L417.10 559.06 L417.45 559.03 L417.80 558.99 L418.15 559.03 L418.50 558.94 L418.85 558.93 L419.20 558.88 L419.55 558.91 L419.90 558.90 L420.25 558.96 L420.60 559.03 L420.95 558.99 L421.30 559.05 L421.65 558.95 L422.00 558.97 L422.35 558.95 L422.70 559.07 L423.05 559.06 L423.40 559.01 L423.75 558.90 L424.10 559.00 L424.45 559.08 L424.80 559.10 L425.15 559.10 L425.50 559.04 L425.85 559.01 L426.20 559.07 L426.55 559.10 L426.90 559.10 L427.25 558.99 L427.60 558.91 L427.95 558.90 L428.30 558.98 L428.65 559.10 L429.00 559.10 L429.35 559.10 L429.70 559.10 L430.05 559.10 L430.40 559.10 L430.75 559.03 L431.10 558.93 L431.45 558.86 L431.80 558.89 L432.15 558.87 L432.50 558.86 L432.85 558.92 L433.20 559.01 L433.55 559.01 L433.90 558.89 L434.25 558.90 L434.60 559.01 L434.95 559.04 L435.30 559.09 L435.65 558.97 L436.00 559.07 L436.35 558.95 L436.70 559.01 L437.05 558.97 L437.40 558.96 L437.75 559.01 L438.10 558.98 L438.45 559.08 L438.80 558.99 L439.15 559.01 L439.50 558.94 L439.85 558.94 L440.20 558.96 L440.55 558.96 L440.90 558.96 L441.25 558.89 L441.60 558.89 L441.95 559.01 L442.30 559.08 L442.65 559.04 L443.00 558.94 L443.35 558.99 L443.70 559.01 L444.05 559.00 L444.40 559.01 L444.75 559.10 L445.10 559.10 L445.45 559.10 L445.80 559.10 L446.15 559.09 L446.50 558.98 L446.85 558.83 L447.20 558.93 L447.55 558.92 L447.90 559.06 L448.25 558.98 L448.60 559.08 L448.95 559.01 L449.30 558.97 L449.65 558.91 L450.00 558.94 L450.35 558.98 L450.70 559.03 L451.05 559.00 L451.40 559.10 L451.75 559.02 L452.10 559.09 L452.45 559.10 L452.80 559.10 L453.15 559.10 L453.50 559.00 L453.85 559.02 L454.20 559.08 L454.55 559.10 L454.90 558.99 L455.25 559.00 L455.60 559.06 L455.95 559.10 L456.30 559.10 L456.65 559.01 L457.00 557.35 L457.35 553.81 L457.70 558.34 L458.05 559.10 L458.40 559.09 L458.75 559.06 L459.10 559.07 L459.45 559.09 L459.80 559.10 L460.15 559.10 L460.50 559.07 L460.85 558.95 L461.20 558.99 L461.55 558.89 L461.90 558.92 L462.25 558.89 L462.60 558.91 L462.95 559.01 L463.30 559.00 L463.65 559.09 L464.00 559.06 L464.35 559.05 L464.70 558.94 L465.05 558.95 L465.40 558.95 L465.75 558.96 L466.10 559.00 L466.45 559.06 L466.80 559.10 L467.15 558.98 L467.50 559.06 L467.85 559.02 L468.20 559.10 L468.55 559.05 L468.90 559.10 L469.25 559.10 L469.60 559.08 L469.95 559.02 L470.30 558.97 L470.65 559.10 L471.00 559.10 L471.35 559.10 L471.70 559.10 L472.05 558.99 L472.40 559.04 L472.75 558.95 L473.10 558.94 L473.45 558.97 L473.80 559.10 L473.80 559.70 Z" fill="#2b4b8c" opacity="1.0"/>
<text x="477.10" y="517.50" font-size="5.35" stroke="#222" stroke-width="0.05">p53</text>
<text x="477.10" y="525.20" font-size="5.35" stroke="#222" stroke-width="0.05">p53 CX-5461</text>
<text x="477.10" y="532.30" font-size="5.35" stroke="#222" stroke-width="0.05">GATA1</text>
<text x="477.10" y="539.00" font-size="5.35" stroke="#222" stroke-width="0.05">H3K27me3</text>
<text x="477.10" y="545.70" font-size="5.35" stroke="#222" stroke-width="0.05">H3K27Ac</text>
<text x="477.10" y="553.10" font-size="5.35" stroke="#222" stroke-width="0.05">H3K4me3</text>
<text x="477.10" y="559.80" font-size="5.35" stroke="#222" stroke-width="0.05">RNAPII</text>
<rect x="374.40" y="563.95" width="82.90" height="0.50" fill="#2b4b8c"/>
<rect x="382.70" y="563.60" width="5.70" height="1.20" fill="#2b4b8c"/>
<rect x="391.30" y="563.60" width="1.90" height="1.20" fill="#2b4b8c"/>
<rect x="396.70" y="563.70" width="1.90" height="1.00" fill="#2b4b8c"/>
<rect x="416.70" y="563.50" width="1.50" height="1.40" fill="#2b4b8c"/>
<rect x="457.30" y="564.00" width="16.50" height="0.40" fill="#c0c8e0"/>
<text x="423.50" y="573.30" font-size="5.4" text-anchor="middle" fill="#4863a0" font-style="italic" stroke="#4863a0" stroke-width="0.05">XPC</text>
<rect x="0.5" y="0.5" width="519" height="581" fill="none" stroke="#000" stroke-width="1"/>
</svg>
</body></html>
